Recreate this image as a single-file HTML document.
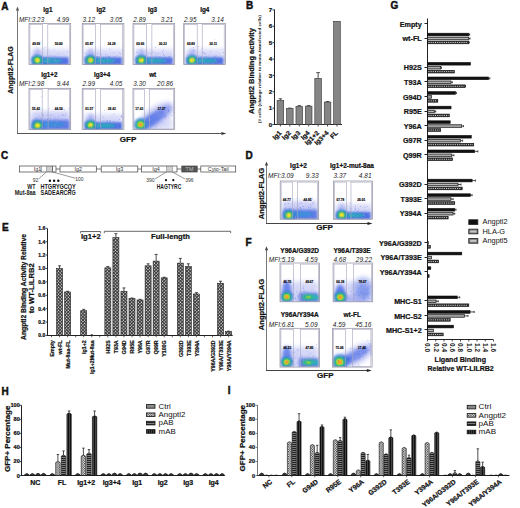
<!DOCTYPE html>
<html><head><meta charset="utf-8"><style>
html,body{margin:0;padding:0;background:#fff;width:520px;height:508px;overflow:hidden}
svg{display:block}
</style></head><body>
<svg width="520" height="508" viewBox="0 0 520 508">
<defs>
<radialGradient id="gHaze"><stop offset="0" stop-color="#8e95e8" stop-opacity="0.55"/><stop offset="0.6" stop-color="#a9aef0" stop-opacity="0.3"/><stop offset="1" stop-color="#c8cbf5" stop-opacity="0"/></radialGradient>
<radialGradient id="gBlue"><stop offset="0" stop-color="#2f5fe0" stop-opacity="0.95"/><stop offset="0.55" stop-color="#4a70e6" stop-opacity="0.7"/><stop offset="1" stop-color="#7d8ff0" stop-opacity="0"/></radialGradient>
<radialGradient id="gCyan"><stop offset="0" stop-color="#1fb4c8" stop-opacity="0.95"/><stop offset="0.6" stop-color="#2d8fd8" stop-opacity="0.6"/><stop offset="1" stop-color="#3f6fe0" stop-opacity="0"/></radialGradient>
<radialGradient id="gHot"><stop offset="0" stop-color="#f2e62a"/><stop offset="0.35" stop-color="#8fd83a"/><stop offset="0.6" stop-color="#2ac07a" stop-opacity="0.9"/><stop offset="0.85" stop-color="#2a7ee0" stop-opacity="0.6"/><stop offset="1" stop-color="#3d63e0" stop-opacity="0"/></radialGradient>
<pattern id="pChk" width="2.3" height="2.3" patternUnits="userSpaceOnUse" patternTransform="rotate(45)"><rect width="2.3" height="2.3" fill="#2e2e2e"/><rect x="0.3" y="0.3" width="1.3" height="1.3" fill="#e8e8e8"/></pattern>
<pattern id="pDot" width="2.4" height="2.4" patternUnits="userSpaceOnUse"><rect width="2.4" height="2.4" fill="#f4f4f4"/><rect x="0" y="0" width="1.1" height="1.1" fill="#222"/><rect x="1.2" y="1.2" width="1.1" height="1.1" fill="#222"/></pattern>
<pattern id="pHs" width="3" height="2" patternUnits="userSpaceOnUse"><rect width="3" height="2" fill="#e4e4e4"/><rect width="3" height="1" fill="#555"/></pattern>
<pattern id="pStripe" width="3" height="2" patternUnits="userSpaceOnUse"><rect width="3" height="2" fill="#222"/><rect y="1" width="3" height="0.6" fill="#bbb"/></pattern>
<pattern id="pVs" width="2" height="3" patternUnits="userSpaceOnUse"><rect width="2" height="3" fill="#111"/><rect x="1" width="0.5" height="3" fill="#777"/></pattern>
<pattern id="pGdot" width="2" height="2" patternUnits="userSpaceOnUse"><rect width="2" height="2" fill="#eee"/><rect x="0" width="1" height="2" fill="#222"/></pattern>
<filter id="b05" x="-50%" y="-50%" width="200%" height="200%"><feGaussianBlur stdDeviation="0.5"/></filter><filter id="b08" x="-50%" y="-50%" width="200%" height="200%"><feGaussianBlur stdDeviation="0.8"/></filter><filter id="b12" x="-50%" y="-50%" width="200%" height="200%"><feGaussianBlur stdDeviation="1.2"/></filter><filter id="b18" x="-50%" y="-50%" width="200%" height="200%"><feGaussianBlur stdDeviation="1.8"/></filter><filter id="b25" x="-50%" y="-50%" width="200%" height="200%"><feGaussianBlur stdDeviation="2.5"/></filter><clipPath id="c1"><rect x="29" y="23.5" width="41.7" height="41"/></clipPath><clipPath id="c2"><rect x="82.2" y="23.5" width="41.7" height="41"/></clipPath><clipPath id="c3"><rect x="133" y="23.5" width="41.7" height="41"/></clipPath><clipPath id="c4"><rect x="183.7" y="23.5" width="41.7" height="41"/></clipPath><clipPath id="c5"><rect x="29" y="88.4" width="41.7" height="41"/></clipPath><clipPath id="c6"><rect x="82.2" y="88.4" width="41.7" height="41"/></clipPath><clipPath id="c7"><rect x="133" y="88.4" width="41.7" height="41"/></clipPath><clipPath id="c8"><rect x="280.2" y="181" width="38.5" height="38.2"/></clipPath><clipPath id="c9"><rect x="333.4" y="181" width="39.2" height="38.2"/></clipPath><clipPath id="c10"><rect x="280" y="263" width="39.6" height="38.8"/></clipPath><clipPath id="c11"><rect x="333.1" y="263" width="39.6" height="38.8"/></clipPath><clipPath id="c12"><rect x="280" y="328.3" width="39.6" height="38.8"/></clipPath><clipPath id="c13"><rect x="332.5" y="328.3" width="39.6" height="38.8"/></clipPath></defs>
<rect width="520" height="508" fill="#fff"/>
<text x="1.30" y="9.50" font-size="10" font-family="Liberation Sans" font-weight="bold" text-anchor="start" fill="#111" stroke="#111" stroke-width="0.45">A</text>
<line x1="17.50" y1="9.00" x2="17.50" y2="133.50" stroke="#777" stroke-width="1"/>
<path d="M15.90 10.50 L17.50 6.50 L19.10 10.50 Z" fill="#555"/>
<line x1="17.00" y1="133.50" x2="221.00" y2="133.50" stroke="#555" stroke-width="1"/>
<path d="M221.30 131.90 L226.30 133.50 L221.30 135.10 Z" fill="#333"/>
<text x="13.20" y="70.00" font-size="7" font-family="Liberation Sans" font-weight="bold" text-anchor="middle" fill="#111" stroke="#111" stroke-width="0.22" transform="rotate(-90 13.20 70.00)">Angptl2-FLAG</text>
<text x="128.00" y="142.00" font-size="8" font-family="Liberation Sans" font-weight="bold" text-anchor="middle" fill="#111" stroke="#111" stroke-width="0.22">GFP</text>
<text x="47.90" y="11.90" font-size="6.3" font-family="Liberation Sans" font-weight="bold" text-anchor="middle" fill="#111" stroke="#111" stroke-width="0.22">Ig1</text>
<text x="19.00" y="21.80" font-size="6.4" font-family="Liberation Sans" font-style="italic" text-anchor="start" fill="#222">MFI:3.23</text>
<text x="69.10" y="21.80" font-size="6.4" font-family="Liberation Sans" font-style="italic" text-anchor="end" fill="#222">4.99</text>
<g clip-path="url(#c1)">
<rect x="31.00" y="49.50" width="38.70" height="16.00" fill="#c6c9f4" opacity="0.75" filter="url(#b25)"/>
<ellipse cx="37.50" cy="55.50" rx="3.50" ry="7.00" fill="#a0a8f2" opacity="0.6" filter="url(#b18)"/>
<rect x="32.00" y="57.30" width="36.70" height="8.50" fill="#3f64e0" opacity="0.88" filter="url(#b12)"/>
<ellipse cx="49.85" cy="60.70" rx="12.51" ry="2.20" fill="#22b8b4" opacity="0.85" filter="url(#b08)"/>
<ellipse cx="37.30" cy="60.20" rx="6.09" ry="5.67" fill="#3a7ee0" opacity="0.8" filter="url(#b12)"/>
<ellipse cx="37.30" cy="60.20" rx="4.20" ry="3.99" fill="#2cc070" opacity="1" filter="url(#b08)"/>
<ellipse cx="37.30" cy="60.20" rx="2.77" ry="2.60" fill="#9ad83c" opacity="1" filter="url(#b05)"/>
<ellipse cx="37.30" cy="60.20" rx="1.76" ry="1.68" fill="#f0e030" opacity="1" filter="url(#b05)"/>
<rect x="52.0" y="59.7" width="0.8" height="0.8" fill="#4a6ae4" opacity="0.55"/><rect x="41.1" y="56.5" width="0.8" height="0.8" fill="#4a6ae4" opacity="0.55"/><rect x="57.9" y="53.2" width="0.8" height="0.8" fill="#b4a8ec" opacity="0.55"/><rect x="52.8" y="62.5" width="0.8" height="0.8" fill="#3f5fe0" opacity="0.55"/><rect x="44.5" y="49.6" width="0.8" height="0.8" fill="#8a8ff0" opacity="0.55"/><rect x="57.2" y="57.6" width="0.8" height="0.8" fill="#6a80ea" opacity="0.55"/><rect x="43.6" y="63.5" width="0.8" height="0.8" fill="#4a6ae4" opacity="0.55"/><rect x="60.7" y="59.8" width="0.8" height="0.8" fill="#4a6ae4" opacity="0.55"/><rect x="45.4" y="57.2" width="0.8" height="0.8" fill="#3f5fe0" opacity="0.55"/><rect x="52.4" y="55.6" width="0.8" height="0.8" fill="#3f5fe0" opacity="0.55"/><rect x="44.2" y="63.7" width="0.8" height="0.8" fill="#4a6ae4" opacity="0.55"/><rect x="55.9" y="59.2" width="0.8" height="0.8" fill="#3f5fe0" opacity="0.55"/><rect x="68.2" y="62.5" width="0.8" height="0.8" fill="#8a8ff0" opacity="0.55"/><rect x="45.1" y="46.6" width="0.8" height="0.8" fill="#8a8ff0" opacity="0.55"/><rect x="34.9" y="61.4" width="0.8" height="0.8" fill="#3f5fe0" opacity="0.55"/><rect x="36.4" y="47.3" width="0.8" height="0.8" fill="#b4a8ec" opacity="0.55"/><rect x="61.3" y="63.9" width="0.8" height="0.8" fill="#4a6ae4" opacity="0.55"/><rect x="34.6" y="55.3" width="0.8" height="0.8" fill="#b4a8ec" opacity="0.55"/><rect x="55.2" y="59.8" width="0.8" height="0.8" fill="#4a6ae4" opacity="0.55"/><rect x="45.8" y="54.5" width="0.8" height="0.8" fill="#b4a8ec" opacity="0.55"/><rect x="43.7" y="47.7" width="0.8" height="0.8" fill="#3f5fe0" opacity="0.55"/><rect x="49.4" y="60.6" width="0.8" height="0.8" fill="#4a6ae4" opacity="0.55"/><rect x="49.1" y="50.3" width="0.8" height="0.8" fill="#8a8ff0" opacity="0.55"/><rect x="58.0" y="62.3" width="0.8" height="0.8" fill="#6a80ea" opacity="0.55"/><rect x="52.3" y="59.0" width="0.8" height="0.8" fill="#6a80ea" opacity="0.55"/><rect x="52.3" y="59.2" width="0.8" height="0.8" fill="#4a6ae4" opacity="0.55"/><rect x="55.1" y="60.1" width="0.8" height="0.8" fill="#b4a8ec" opacity="0.55"/><rect x="59.3" y="61.6" width="0.8" height="0.8" fill="#3f5fe0" opacity="0.55"/><rect x="68.4" y="58.8" width="0.8" height="0.8" fill="#b4a8ec" opacity="0.55"/><rect x="33.4" y="61.9" width="0.8" height="0.8" fill="#6a80ea" opacity="0.55"/><rect x="52.7" y="60.4" width="0.8" height="0.8" fill="#3f5fe0" opacity="0.55"/><rect x="33.9" y="63.2" width="0.8" height="0.8" fill="#4a6ae4" opacity="0.55"/><rect x="47.4" y="63.2" width="0.8" height="0.8" fill="#3f5fe0" opacity="0.55"/><rect x="65.6" y="58.2" width="0.8" height="0.8" fill="#8a8ff0" opacity="0.55"/><rect x="42.7" y="63.4" width="0.8" height="0.8" fill="#b4a8ec" opacity="0.55"/><rect x="35.1" y="60.1" width="0.8" height="0.8" fill="#4a6ae4" opacity="0.55"/><rect x="54.1" y="60.5" width="0.8" height="0.8" fill="#b4a8ec" opacity="0.55"/><rect x="33.9" y="63.0" width="0.8" height="0.8" fill="#4a6ae4" opacity="0.55"/><rect x="69.4" y="64.0" width="0.8" height="0.8" fill="#3f5fe0" opacity="0.55"/><rect x="60.9" y="59.9" width="0.8" height="0.8" fill="#8a8ff0" opacity="0.55"/><rect x="53.9" y="58.9" width="0.8" height="0.8" fill="#8a8ff0" opacity="0.55"/><rect x="54.3" y="56.5" width="0.8" height="0.8" fill="#8a8ff0" opacity="0.55"/><rect x="66.3" y="60.9" width="0.8" height="0.8" fill="#6a80ea" opacity="0.55"/><rect x="49.5" y="54.8" width="0.8" height="0.8" fill="#3f5fe0" opacity="0.55"/><rect x="55.5" y="55.6" width="0.8" height="0.8" fill="#4a6ae4" opacity="0.55"/><rect x="34.4" y="63.8" width="0.8" height="0.8" fill="#3f5fe0" opacity="0.55"/><rect x="34.4" y="62.6" width="0.8" height="0.8" fill="#4a6ae4" opacity="0.55"/><rect x="63.2" y="59.6" width="0.8" height="0.8" fill="#6a80ea" opacity="0.55"/><rect x="59.5" y="63.2" width="0.8" height="0.8" fill="#4a6ae4" opacity="0.55"/><rect x="37.8" y="63.0" width="0.8" height="0.8" fill="#b4a8ec" opacity="0.55"/><rect x="67.2" y="52.4" width="0.8" height="0.8" fill="#8a8ff0" opacity="0.55"/><rect x="48.0" y="56.4" width="0.8" height="0.8" fill="#8a8ff0" opacity="0.55"/><rect x="52.4" y="55.3" width="0.8" height="0.8" fill="#b4a8ec" opacity="0.55"/><rect x="57.0" y="60.7" width="0.8" height="0.8" fill="#b4a8ec" opacity="0.55"/><rect x="66.5" y="44.6" width="0.8" height="0.8" fill="#b4a8ec" opacity="0.55"/><rect x="39.1" y="60.7" width="0.8" height="0.8" fill="#b4a8ec" opacity="0.55"/><rect x="43.3" y="62.8" width="0.8" height="0.8" fill="#4a6ae4" opacity="0.55"/><rect x="45.2" y="60.9" width="0.8" height="0.8" fill="#b4a8ec" opacity="0.55"/><rect x="58.7" y="58.1" width="0.8" height="0.8" fill="#6a80ea" opacity="0.55"/><rect x="67.2" y="61.7" width="0.8" height="0.8" fill="#3f5fe0" opacity="0.55"/><rect x="50.9" y="60.5" width="0.8" height="0.8" fill="#3f5fe0" opacity="0.55"/><rect x="53.1" y="61.2" width="0.8" height="0.8" fill="#3f5fe0" opacity="0.55"/><rect x="41.4" y="62.2" width="0.8" height="0.8" fill="#3f5fe0" opacity="0.55"/><rect x="58.0" y="55.9" width="0.8" height="0.8" fill="#8a8ff0" opacity="0.55"/><rect x="60.4" y="61.5" width="0.8" height="0.8" fill="#6a80ea" opacity="0.55"/><rect x="39.7" y="63.2" width="0.8" height="0.8" fill="#8a8ff0" opacity="0.55"/><rect x="65.0" y="60.1" width="0.8" height="0.8" fill="#4a6ae4" opacity="0.55"/><rect x="35.8" y="54.2" width="0.8" height="0.8" fill="#3f5fe0" opacity="0.55"/><rect x="49.7" y="56.0" width="0.8" height="0.8" fill="#b4a8ec" opacity="0.55"/><rect x="40.8" y="41.4" width="0.8" height="0.8" fill="#8a8ff0" opacity="0.55"/><rect x="67.4" y="50.6" width="0.8" height="0.8" fill="#4a6ae4" opacity="0.55"/><rect x="45.4" y="60.3" width="0.8" height="0.8" fill="#6a80ea" opacity="0.55"/><rect x="53.2" y="59.4" width="0.8" height="0.8" fill="#8a8ff0" opacity="0.55"/><rect x="68.7" y="56.6" width="0.8" height="0.8" fill="#8a8ff0" opacity="0.55"/><rect x="44.0" y="57.9" width="0.8" height="0.8" fill="#4a6ae4" opacity="0.55"/><rect x="68.9" y="60.0" width="0.8" height="0.8" fill="#3f5fe0" opacity="0.55"/><rect x="50.2" y="57.4" width="0.8" height="0.8" fill="#4a6ae4" opacity="0.55"/><rect x="68.5" y="63.7" width="0.8" height="0.8" fill="#8a8ff0" opacity="0.55"/><rect x="57.6" y="53.6" width="0.8" height="0.8" fill="#8a8ff0" opacity="0.55"/><rect x="36.7" y="58.4" width="0.8" height="0.8" fill="#b4a8ec" opacity="0.55"/><rect x="48.8" y="59.8" width="0.8" height="0.8" fill="#b4a8ec" opacity="0.55"/><rect x="46.4" y="57.1" width="0.8" height="0.8" fill="#3f5fe0" opacity="0.55"/><rect x="53.5" y="49.4" width="0.8" height="0.8" fill="#b4a8ec" opacity="0.55"/><rect x="43.0" y="63.8" width="0.8" height="0.8" fill="#6a80ea" opacity="0.55"/>
</g>
<rect x="29.00" y="23.50" width="41.70" height="41.00" fill="none" stroke="#8e8e9e" stroke-width="0.7"/>
<rect x="29.90" y="24.60" width="12.50" height="39.50" fill="none" stroke="#a4a4c0" stroke-width="0.6"/>
<rect x="47.80" y="24.60" width="21.70" height="39.50" fill="none" stroke="#a4a4c0" stroke-width="0.6"/>
<text x="36.15" y="45.00" font-size="3.2" font-family="Liberation Sans" font-weight="bold" text-anchor="middle" fill="#000" stroke="#000" stroke-width="0.12">49.99</text>
<text x="58.65" y="45.00" font-size="3.2" font-family="Liberation Sans" font-weight="bold" text-anchor="middle" fill="#000" stroke="#000" stroke-width="0.12">50.00</text>
<text x="101.00" y="11.90" font-size="6.3" font-family="Liberation Sans" font-weight="bold" text-anchor="middle" fill="#111" stroke="#111" stroke-width="0.22">Ig2</text>
<text x="82.50" y="21.80" font-size="6.4" font-family="Liberation Sans" font-style="italic" text-anchor="start" fill="#222">3.12</text>
<text x="122.30" y="21.80" font-size="6.4" font-family="Liberation Sans" font-style="italic" text-anchor="end" fill="#222">3.05</text>
<g clip-path="url(#c2)">
<rect x="84.20" y="49.50" width="38.70" height="16.00" fill="#c6c9f4" opacity="0.75" filter="url(#b25)"/>
<ellipse cx="90.70" cy="55.50" rx="3.50" ry="7.00" fill="#a0a8f2" opacity="0.6" filter="url(#b18)"/>
<rect x="85.20" y="57.30" width="36.70" height="8.50" fill="#3f64e0" opacity="0.88" filter="url(#b12)"/>
<ellipse cx="103.05" cy="60.70" rx="12.51" ry="2.20" fill="#22b8b4" opacity="0.85" filter="url(#b08)"/>
<ellipse cx="90.50" cy="60.20" rx="6.09" ry="5.67" fill="#3a7ee0" opacity="0.8" filter="url(#b12)"/>
<ellipse cx="90.50" cy="60.20" rx="4.20" ry="3.99" fill="#2cc070" opacity="1" filter="url(#b08)"/>
<ellipse cx="90.50" cy="60.20" rx="2.77" ry="2.60" fill="#9ad83c" opacity="1" filter="url(#b05)"/>
<ellipse cx="90.50" cy="60.20" rx="1.76" ry="1.68" fill="#f0e030" opacity="1" filter="url(#b05)"/>
<rect x="122.8" y="59.4" width="0.8" height="0.8" fill="#3f5fe0" opacity="0.55"/><rect x="115.5" y="61.1" width="0.8" height="0.8" fill="#3f5fe0" opacity="0.55"/><rect x="121.8" y="58.5" width="0.8" height="0.8" fill="#4a6ae4" opacity="0.55"/><rect x="87.3" y="62.2" width="0.8" height="0.8" fill="#8a8ff0" opacity="0.55"/><rect x="87.4" y="63.3" width="0.8" height="0.8" fill="#b4a8ec" opacity="0.55"/><rect x="108.8" y="56.6" width="0.8" height="0.8" fill="#4a6ae4" opacity="0.55"/><rect x="96.9" y="63.6" width="0.8" height="0.8" fill="#b4a8ec" opacity="0.55"/><rect x="98.4" y="61.3" width="0.8" height="0.8" fill="#b4a8ec" opacity="0.55"/><rect x="122.3" y="61.5" width="0.8" height="0.8" fill="#4a6ae4" opacity="0.55"/><rect x="97.5" y="53.1" width="0.8" height="0.8" fill="#4a6ae4" opacity="0.55"/><rect x="89.0" y="50.8" width="0.8" height="0.8" fill="#b4a8ec" opacity="0.55"/><rect x="86.2" y="53.4" width="0.8" height="0.8" fill="#8a8ff0" opacity="0.55"/><rect x="111.7" y="61.4" width="0.8" height="0.8" fill="#8a8ff0" opacity="0.55"/><rect x="91.0" y="55.1" width="0.8" height="0.8" fill="#4a6ae4" opacity="0.55"/><rect x="87.7" y="62.4" width="0.8" height="0.8" fill="#b4a8ec" opacity="0.55"/><rect x="112.4" y="59.6" width="0.8" height="0.8" fill="#3f5fe0" opacity="0.55"/><rect x="106.3" y="57.0" width="0.8" height="0.8" fill="#4a6ae4" opacity="0.55"/><rect x="114.5" y="56.0" width="0.8" height="0.8" fill="#6a80ea" opacity="0.55"/><rect x="92.0" y="56.9" width="0.8" height="0.8" fill="#3f5fe0" opacity="0.55"/><rect x="120.7" y="62.3" width="0.8" height="0.8" fill="#8a8ff0" opacity="0.55"/><rect x="120.7" y="57.7" width="0.8" height="0.8" fill="#4a6ae4" opacity="0.55"/><rect x="109.4" y="48.8" width="0.8" height="0.8" fill="#4a6ae4" opacity="0.55"/><rect x="96.9" y="56.1" width="0.8" height="0.8" fill="#3f5fe0" opacity="0.55"/><rect x="103.1" y="62.9" width="0.8" height="0.8" fill="#3f5fe0" opacity="0.55"/><rect x="87.7" y="51.5" width="0.8" height="0.8" fill="#8a8ff0" opacity="0.55"/><rect x="94.1" y="58.3" width="0.8" height="0.8" fill="#6a80ea" opacity="0.55"/><rect x="89.5" y="56.3" width="0.8" height="0.8" fill="#8a8ff0" opacity="0.55"/><rect x="112.1" y="62.9" width="0.8" height="0.8" fill="#8a8ff0" opacity="0.55"/><rect x="116.3" y="58.8" width="0.8" height="0.8" fill="#8a8ff0" opacity="0.55"/><rect x="105.2" y="54.0" width="0.8" height="0.8" fill="#3f5fe0" opacity="0.55"/><rect x="102.4" y="61.8" width="0.8" height="0.8" fill="#3f5fe0" opacity="0.55"/><rect x="106.5" y="61.6" width="0.8" height="0.8" fill="#4a6ae4" opacity="0.55"/><rect x="94.3" y="62.6" width="0.8" height="0.8" fill="#b4a8ec" opacity="0.55"/><rect x="98.5" y="62.2" width="0.8" height="0.8" fill="#6a80ea" opacity="0.55"/><rect x="117.4" y="61.9" width="0.8" height="0.8" fill="#8a8ff0" opacity="0.55"/><rect x="87.9" y="58.8" width="0.8" height="0.8" fill="#4a6ae4" opacity="0.55"/><rect x="90.5" y="58.5" width="0.8" height="0.8" fill="#3f5fe0" opacity="0.55"/><rect x="91.9" y="53.4" width="0.8" height="0.8" fill="#4a6ae4" opacity="0.55"/><rect x="106.9" y="61.9" width="0.8" height="0.8" fill="#b4a8ec" opacity="0.55"/><rect x="122.4" y="61.5" width="0.8" height="0.8" fill="#3f5fe0" opacity="0.55"/><rect x="106.4" y="63.6" width="0.8" height="0.8" fill="#6a80ea" opacity="0.55"/><rect x="84.9" y="61.0" width="0.8" height="0.8" fill="#b4a8ec" opacity="0.55"/><rect x="89.6" y="59.6" width="0.8" height="0.8" fill="#8a8ff0" opacity="0.55"/><rect x="105.6" y="58.6" width="0.8" height="0.8" fill="#6a80ea" opacity="0.55"/><rect x="120.0" y="53.7" width="0.8" height="0.8" fill="#6a80ea" opacity="0.55"/><rect x="114.7" y="60.7" width="0.8" height="0.8" fill="#6a80ea" opacity="0.55"/><rect x="90.3" y="62.7" width="0.8" height="0.8" fill="#b4a8ec" opacity="0.55"/><rect x="93.0" y="61.1" width="0.8" height="0.8" fill="#3f5fe0" opacity="0.55"/><rect x="101.3" y="57.0" width="0.8" height="0.8" fill="#b4a8ec" opacity="0.55"/><rect x="91.0" y="60.1" width="0.8" height="0.8" fill="#8a8ff0" opacity="0.55"/><rect x="104.9" y="59.8" width="0.8" height="0.8" fill="#3f5fe0" opacity="0.55"/><rect x="105.1" y="57.8" width="0.8" height="0.8" fill="#6a80ea" opacity="0.55"/><rect x="117.4" y="63.8" width="0.8" height="0.8" fill="#b4a8ec" opacity="0.55"/><rect x="88.7" y="59.6" width="0.8" height="0.8" fill="#6a80ea" opacity="0.55"/><rect x="122.0" y="49.7" width="0.8" height="0.8" fill="#4a6ae4" opacity="0.55"/><rect x="86.7" y="59.2" width="0.8" height="0.8" fill="#3f5fe0" opacity="0.55"/><rect x="107.2" y="55.0" width="0.8" height="0.8" fill="#8a8ff0" opacity="0.55"/><rect x="100.4" y="62.4" width="0.8" height="0.8" fill="#4a6ae4" opacity="0.55"/><rect x="121.4" y="52.9" width="0.8" height="0.8" fill="#b4a8ec" opacity="0.55"/><rect x="97.5" y="56.5" width="0.8" height="0.8" fill="#4a6ae4" opacity="0.55"/><rect x="106.6" y="59.2" width="0.8" height="0.8" fill="#8a8ff0" opacity="0.55"/><rect x="108.5" y="56.1" width="0.8" height="0.8" fill="#3f5fe0" opacity="0.55"/><rect x="102.8" y="57.4" width="0.8" height="0.8" fill="#4a6ae4" opacity="0.55"/><rect x="113.1" y="60.1" width="0.8" height="0.8" fill="#b4a8ec" opacity="0.55"/><rect x="101.0" y="58.4" width="0.8" height="0.8" fill="#b4a8ec" opacity="0.55"/><rect x="112.3" y="57.9" width="0.8" height="0.8" fill="#6a80ea" opacity="0.55"/><rect x="113.1" y="52.0" width="0.8" height="0.8" fill="#6a80ea" opacity="0.55"/><rect x="84.4" y="57.0" width="0.8" height="0.8" fill="#8a8ff0" opacity="0.55"/><rect x="113.4" y="57.5" width="0.8" height="0.8" fill="#b4a8ec" opacity="0.55"/><rect x="89.1" y="60.5" width="0.8" height="0.8" fill="#6a80ea" opacity="0.55"/><rect x="94.3" y="60.1" width="0.8" height="0.8" fill="#b4a8ec" opacity="0.55"/><rect x="102.8" y="61.7" width="0.8" height="0.8" fill="#b4a8ec" opacity="0.55"/><rect x="106.9" y="59.5" width="0.8" height="0.8" fill="#b4a8ec" opacity="0.55"/><rect x="101.2" y="54.2" width="0.8" height="0.8" fill="#6a80ea" opacity="0.55"/><rect x="119.3" y="52.5" width="0.8" height="0.8" fill="#4a6ae4" opacity="0.55"/><rect x="102.6" y="58.6" width="0.8" height="0.8" fill="#3f5fe0" opacity="0.55"/><rect x="98.9" y="61.6" width="0.8" height="0.8" fill="#b4a8ec" opacity="0.55"/><rect x="84.9" y="52.7" width="0.8" height="0.8" fill="#3f5fe0" opacity="0.55"/><rect x="113.1" y="62.5" width="0.8" height="0.8" fill="#3f5fe0" opacity="0.55"/><rect x="95.0" y="60.5" width="0.8" height="0.8" fill="#4a6ae4" opacity="0.55"/><rect x="85.1" y="59.2" width="0.8" height="0.8" fill="#6a80ea" opacity="0.55"/><rect x="119.9" y="57.5" width="0.8" height="0.8" fill="#b4a8ec" opacity="0.55"/><rect x="120.7" y="63.2" width="0.8" height="0.8" fill="#6a80ea" opacity="0.55"/><rect x="100.9" y="59.6" width="0.8" height="0.8" fill="#6a80ea" opacity="0.55"/><rect x="114.5" y="62.0" width="0.8" height="0.8" fill="#3f5fe0" opacity="0.55"/><rect x="117.2" y="55.0" width="0.8" height="0.8" fill="#b4a8ec" opacity="0.55"/><rect x="99.8" y="62.8" width="0.8" height="0.8" fill="#b4a8ec" opacity="0.55"/><rect x="89.6" y="55.5" width="0.8" height="0.8" fill="#4a6ae4" opacity="0.55"/>
</g>
<rect x="82.20" y="23.50" width="41.70" height="41.00" fill="none" stroke="#8e8e9e" stroke-width="0.7"/>
<rect x="83.10" y="24.60" width="12.50" height="39.50" fill="none" stroke="#a4a4c0" stroke-width="0.6"/>
<rect x="100.50" y="24.60" width="22.20" height="39.50" fill="none" stroke="#a4a4c0" stroke-width="0.6"/>
<text x="89.35" y="45.00" font-size="3.2" font-family="Liberation Sans" font-weight="bold" text-anchor="middle" fill="#000" stroke="#000" stroke-width="0.12">65.87</text>
<text x="111.60" y="45.00" font-size="3.2" font-family="Liberation Sans" font-weight="bold" text-anchor="middle" fill="#000" stroke="#000" stroke-width="0.12">34.28</text>
<text x="152.50" y="11.90" font-size="6.3" font-family="Liberation Sans" font-weight="bold" text-anchor="middle" fill="#111" stroke="#111" stroke-width="0.22">Ig3</text>
<text x="133.30" y="21.80" font-size="6.4" font-family="Liberation Sans" font-style="italic" text-anchor="start" fill="#222">2.89</text>
<text x="173.10" y="21.80" font-size="6.4" font-family="Liberation Sans" font-style="italic" text-anchor="end" fill="#222">3.21</text>
<g clip-path="url(#c3)">
<rect x="135.00" y="49.50" width="38.70" height="16.00" fill="#c6c9f4" opacity="0.75" filter="url(#b25)"/>
<ellipse cx="141.50" cy="55.50" rx="3.50" ry="7.00" fill="#a0a8f2" opacity="0.6" filter="url(#b18)"/>
<rect x="136.00" y="57.30" width="36.70" height="8.50" fill="#3f64e0" opacity="0.88" filter="url(#b12)"/>
<ellipse cx="153.85" cy="60.70" rx="12.51" ry="2.20" fill="#22b8b4" opacity="0.85" filter="url(#b08)"/>
<ellipse cx="141.30" cy="60.20" rx="6.09" ry="5.67" fill="#3a7ee0" opacity="0.8" filter="url(#b12)"/>
<ellipse cx="141.30" cy="60.20" rx="4.20" ry="3.99" fill="#2cc070" opacity="1" filter="url(#b08)"/>
<ellipse cx="141.30" cy="60.20" rx="2.77" ry="2.60" fill="#9ad83c" opacity="1" filter="url(#b05)"/>
<ellipse cx="141.30" cy="60.20" rx="1.76" ry="1.68" fill="#f0e030" opacity="1" filter="url(#b05)"/>
<rect x="155.6" y="63.6" width="0.8" height="0.8" fill="#b4a8ec" opacity="0.55"/><rect x="145.1" y="50.4" width="0.8" height="0.8" fill="#8a8ff0" opacity="0.55"/><rect x="155.7" y="55.8" width="0.8" height="0.8" fill="#3f5fe0" opacity="0.55"/><rect x="146.7" y="52.8" width="0.8" height="0.8" fill="#6a80ea" opacity="0.55"/><rect x="136.6" y="51.6" width="0.8" height="0.8" fill="#6a80ea" opacity="0.55"/><rect x="140.8" y="59.7" width="0.8" height="0.8" fill="#b4a8ec" opacity="0.55"/><rect x="163.7" y="62.5" width="0.8" height="0.8" fill="#4a6ae4" opacity="0.55"/><rect x="136.9" y="56.1" width="0.8" height="0.8" fill="#b4a8ec" opacity="0.55"/><rect x="146.1" y="62.0" width="0.8" height="0.8" fill="#4a6ae4" opacity="0.55"/><rect x="154.6" y="52.8" width="0.8" height="0.8" fill="#4a6ae4" opacity="0.55"/><rect x="146.0" y="60.4" width="0.8" height="0.8" fill="#8a8ff0" opacity="0.55"/><rect x="140.3" y="57.9" width="0.8" height="0.8" fill="#3f5fe0" opacity="0.55"/><rect x="160.3" y="53.1" width="0.8" height="0.8" fill="#b4a8ec" opacity="0.55"/><rect x="168.6" y="61.8" width="0.8" height="0.8" fill="#b4a8ec" opacity="0.55"/><rect x="135.7" y="59.7" width="0.8" height="0.8" fill="#8a8ff0" opacity="0.55"/><rect x="163.0" y="49.9" width="0.8" height="0.8" fill="#6a80ea" opacity="0.55"/><rect x="164.9" y="57.0" width="0.8" height="0.8" fill="#3f5fe0" opacity="0.55"/><rect x="171.5" y="59.2" width="0.8" height="0.8" fill="#3f5fe0" opacity="0.55"/><rect x="162.0" y="51.6" width="0.8" height="0.8" fill="#4a6ae4" opacity="0.55"/><rect x="169.3" y="56.3" width="0.8" height="0.8" fill="#3f5fe0" opacity="0.55"/><rect x="140.9" y="62.6" width="0.8" height="0.8" fill="#6a80ea" opacity="0.55"/><rect x="147.1" y="61.3" width="0.8" height="0.8" fill="#4a6ae4" opacity="0.55"/><rect x="152.2" y="62.3" width="0.8" height="0.8" fill="#4a6ae4" opacity="0.55"/><rect x="153.8" y="57.2" width="0.8" height="0.8" fill="#8a8ff0" opacity="0.55"/><rect x="154.3" y="60.5" width="0.8" height="0.8" fill="#4a6ae4" opacity="0.55"/><rect x="142.1" y="63.0" width="0.8" height="0.8" fill="#b4a8ec" opacity="0.55"/><rect x="141.4" y="62.7" width="0.8" height="0.8" fill="#b4a8ec" opacity="0.55"/><rect x="156.9" y="59.8" width="0.8" height="0.8" fill="#6a80ea" opacity="0.55"/><rect x="144.2" y="57.1" width="0.8" height="0.8" fill="#4a6ae4" opacity="0.55"/><rect x="161.6" y="61.7" width="0.8" height="0.8" fill="#4a6ae4" opacity="0.55"/><rect x="157.7" y="57.5" width="0.8" height="0.8" fill="#6a80ea" opacity="0.55"/><rect x="163.7" y="55.2" width="0.8" height="0.8" fill="#6a80ea" opacity="0.55"/><rect x="140.6" y="58.3" width="0.8" height="0.8" fill="#3f5fe0" opacity="0.55"/><rect x="147.0" y="62.5" width="0.8" height="0.8" fill="#b4a8ec" opacity="0.55"/><rect x="150.6" y="58.0" width="0.8" height="0.8" fill="#6a80ea" opacity="0.55"/><rect x="152.5" y="51.7" width="0.8" height="0.8" fill="#3f5fe0" opacity="0.55"/><rect x="155.2" y="47.0" width="0.8" height="0.8" fill="#6a80ea" opacity="0.55"/><rect x="138.3" y="62.8" width="0.8" height="0.8" fill="#b4a8ec" opacity="0.55"/><rect x="136.7" y="48.9" width="0.8" height="0.8" fill="#b4a8ec" opacity="0.55"/><rect x="148.7" y="61.2" width="0.8" height="0.8" fill="#4a6ae4" opacity="0.55"/><rect x="155.9" y="54.5" width="0.8" height="0.8" fill="#8a8ff0" opacity="0.55"/><rect x="165.8" y="58.0" width="0.8" height="0.8" fill="#6a80ea" opacity="0.55"/><rect x="136.4" y="51.8" width="0.8" height="0.8" fill="#3f5fe0" opacity="0.55"/><rect x="159.0" y="62.1" width="0.8" height="0.8" fill="#4a6ae4" opacity="0.55"/><rect x="160.6" y="59.3" width="0.8" height="0.8" fill="#8a8ff0" opacity="0.55"/><rect x="143.2" y="60.7" width="0.8" height="0.8" fill="#4a6ae4" opacity="0.55"/><rect x="136.6" y="60.3" width="0.8" height="0.8" fill="#6a80ea" opacity="0.55"/><rect x="136.5" y="56.7" width="0.8" height="0.8" fill="#b4a8ec" opacity="0.55"/><rect x="150.2" y="52.9" width="0.8" height="0.8" fill="#4a6ae4" opacity="0.55"/><rect x="158.7" y="56.5" width="0.8" height="0.8" fill="#4a6ae4" opacity="0.55"/><rect x="169.8" y="62.7" width="0.8" height="0.8" fill="#8a8ff0" opacity="0.55"/><rect x="165.5" y="58.9" width="0.8" height="0.8" fill="#8a8ff0" opacity="0.55"/><rect x="141.4" y="56.7" width="0.8" height="0.8" fill="#6a80ea" opacity="0.55"/><rect x="170.0" y="54.0" width="0.8" height="0.8" fill="#8a8ff0" opacity="0.55"/><rect x="149.0" y="60.3" width="0.8" height="0.8" fill="#8a8ff0" opacity="0.55"/><rect x="137.0" y="62.5" width="0.8" height="0.8" fill="#6a80ea" opacity="0.55"/><rect x="153.8" y="57.0" width="0.8" height="0.8" fill="#b4a8ec" opacity="0.55"/><rect x="163.8" y="60.4" width="0.8" height="0.8" fill="#8a8ff0" opacity="0.55"/><rect x="173.6" y="55.5" width="0.8" height="0.8" fill="#6a80ea" opacity="0.55"/><rect x="163.5" y="60.2" width="0.8" height="0.8" fill="#6a80ea" opacity="0.55"/><rect x="163.2" y="53.7" width="0.8" height="0.8" fill="#3f5fe0" opacity="0.55"/><rect x="158.2" y="53.2" width="0.8" height="0.8" fill="#3f5fe0" opacity="0.55"/><rect x="140.6" y="58.7" width="0.8" height="0.8" fill="#b4a8ec" opacity="0.55"/><rect x="170.5" y="63.0" width="0.8" height="0.8" fill="#8a8ff0" opacity="0.55"/><rect x="135.9" y="62.4" width="0.8" height="0.8" fill="#3f5fe0" opacity="0.55"/><rect x="150.0" y="57.4" width="0.8" height="0.8" fill="#3f5fe0" opacity="0.55"/><rect x="151.8" y="63.5" width="0.8" height="0.8" fill="#b4a8ec" opacity="0.55"/><rect x="155.9" y="53.6" width="0.8" height="0.8" fill="#6a80ea" opacity="0.55"/><rect x="147.4" y="54.5" width="0.8" height="0.8" fill="#8a8ff0" opacity="0.55"/><rect x="149.4" y="58.8" width="0.8" height="0.8" fill="#8a8ff0" opacity="0.55"/><rect x="150.6" y="57.8" width="0.8" height="0.8" fill="#8a8ff0" opacity="0.55"/><rect x="159.4" y="44.1" width="0.8" height="0.8" fill="#b4a8ec" opacity="0.55"/><rect x="167.3" y="62.7" width="0.8" height="0.8" fill="#8a8ff0" opacity="0.55"/><rect x="163.5" y="54.3" width="0.8" height="0.8" fill="#b4a8ec" opacity="0.55"/><rect x="168.5" y="56.6" width="0.8" height="0.8" fill="#3f5fe0" opacity="0.55"/><rect x="151.2" y="57.0" width="0.8" height="0.8" fill="#3f5fe0" opacity="0.55"/><rect x="154.6" y="56.6" width="0.8" height="0.8" fill="#8a8ff0" opacity="0.55"/><rect x="158.2" y="60.7" width="0.8" height="0.8" fill="#8a8ff0" opacity="0.55"/><rect x="149.6" y="62.7" width="0.8" height="0.8" fill="#8a8ff0" opacity="0.55"/><rect x="156.1" y="59.1" width="0.8" height="0.8" fill="#4a6ae4" opacity="0.55"/><rect x="169.4" y="59.7" width="0.8" height="0.8" fill="#6a80ea" opacity="0.55"/><rect x="144.8" y="60.8" width="0.8" height="0.8" fill="#6a80ea" opacity="0.55"/><rect x="135.1" y="62.6" width="0.8" height="0.8" fill="#8a8ff0" opacity="0.55"/><rect x="164.9" y="61.1" width="0.8" height="0.8" fill="#b4a8ec" opacity="0.55"/><rect x="164.6" y="63.3" width="0.8" height="0.8" fill="#4a6ae4" opacity="0.55"/><rect x="158.3" y="58.0" width="0.8" height="0.8" fill="#6a80ea" opacity="0.55"/><rect x="168.2" y="60.9" width="0.8" height="0.8" fill="#4a6ae4" opacity="0.55"/><rect x="160.3" y="56.4" width="0.8" height="0.8" fill="#8a8ff0" opacity="0.55"/>
</g>
<rect x="133.00" y="23.50" width="41.70" height="41.00" fill="none" stroke="#8e8e9e" stroke-width="0.7"/>
<rect x="133.90" y="24.60" width="12.70" height="39.50" fill="none" stroke="#a4a4c0" stroke-width="0.6"/>
<rect x="151.90" y="24.60" width="21.60" height="39.50" fill="none" stroke="#a4a4c0" stroke-width="0.6"/>
<text x="140.25" y="45.00" font-size="3.2" font-family="Liberation Sans" font-weight="bold" text-anchor="middle" fill="#000" stroke="#000" stroke-width="0.12">69.66</text>
<text x="162.70" y="45.00" font-size="3.2" font-family="Liberation Sans" font-weight="bold" text-anchor="middle" fill="#000" stroke="#000" stroke-width="0.12">30.23</text>
<text x="204.80" y="11.90" font-size="6.3" font-family="Liberation Sans" font-weight="bold" text-anchor="middle" fill="#111" stroke="#111" stroke-width="0.22">Ig4</text>
<text x="184.00" y="21.80" font-size="6.4" font-family="Liberation Sans" font-style="italic" text-anchor="start" fill="#222">2.95</text>
<text x="223.80" y="21.80" font-size="6.4" font-family="Liberation Sans" font-style="italic" text-anchor="end" fill="#222">3.14</text>
<g clip-path="url(#c4)">
<rect x="185.70" y="49.50" width="38.70" height="16.00" fill="#c6c9f4" opacity="0.75" filter="url(#b25)"/>
<ellipse cx="192.20" cy="55.50" rx="3.50" ry="7.00" fill="#a0a8f2" opacity="0.6" filter="url(#b18)"/>
<rect x="186.70" y="57.30" width="36.70" height="8.50" fill="#3f64e0" opacity="0.88" filter="url(#b12)"/>
<ellipse cx="204.55" cy="60.70" rx="12.51" ry="2.20" fill="#22b8b4" opacity="0.85" filter="url(#b08)"/>
<ellipse cx="192.00" cy="60.20" rx="6.09" ry="5.67" fill="#3a7ee0" opacity="0.8" filter="url(#b12)"/>
<ellipse cx="192.00" cy="60.20" rx="4.20" ry="3.99" fill="#2cc070" opacity="1" filter="url(#b08)"/>
<ellipse cx="192.00" cy="60.20" rx="2.77" ry="2.60" fill="#9ad83c" opacity="1" filter="url(#b05)"/>
<ellipse cx="192.00" cy="60.20" rx="1.76" ry="1.68" fill="#f0e030" opacity="1" filter="url(#b05)"/>
<rect x="207.2" y="59.8" width="0.8" height="0.8" fill="#3f5fe0" opacity="0.55"/><rect x="222.1" y="57.0" width="0.8" height="0.8" fill="#b4a8ec" opacity="0.55"/><rect x="223.2" y="52.0" width="0.8" height="0.8" fill="#3f5fe0" opacity="0.55"/><rect x="205.3" y="60.8" width="0.8" height="0.8" fill="#3f5fe0" opacity="0.55"/><rect x="195.4" y="46.2" width="0.8" height="0.8" fill="#6a80ea" opacity="0.55"/><rect x="221.3" y="59.1" width="0.8" height="0.8" fill="#4a6ae4" opacity="0.55"/><rect x="207.9" y="62.8" width="0.8" height="0.8" fill="#6a80ea" opacity="0.55"/><rect x="193.3" y="57.8" width="0.8" height="0.8" fill="#b4a8ec" opacity="0.55"/><rect x="217.9" y="60.5" width="0.8" height="0.8" fill="#b4a8ec" opacity="0.55"/><rect x="201.0" y="63.5" width="0.8" height="0.8" fill="#4a6ae4" opacity="0.55"/><rect x="199.0" y="61.1" width="0.8" height="0.8" fill="#8a8ff0" opacity="0.55"/><rect x="192.9" y="47.0" width="0.8" height="0.8" fill="#3f5fe0" opacity="0.55"/><rect x="194.6" y="49.8" width="0.8" height="0.8" fill="#8a8ff0" opacity="0.55"/><rect x="217.9" y="60.3" width="0.8" height="0.8" fill="#4a6ae4" opacity="0.55"/><rect x="223.4" y="60.4" width="0.8" height="0.8" fill="#4a6ae4" opacity="0.55"/><rect x="202.9" y="59.8" width="0.8" height="0.8" fill="#8a8ff0" opacity="0.55"/><rect x="199.2" y="55.0" width="0.8" height="0.8" fill="#b4a8ec" opacity="0.55"/><rect x="216.3" y="61.6" width="0.8" height="0.8" fill="#b4a8ec" opacity="0.55"/><rect x="189.9" y="62.1" width="0.8" height="0.8" fill="#b4a8ec" opacity="0.55"/><rect x="219.4" y="58.5" width="0.8" height="0.8" fill="#4a6ae4" opacity="0.55"/><rect x="195.4" y="60.3" width="0.8" height="0.8" fill="#8a8ff0" opacity="0.55"/><rect x="203.6" y="52.1" width="0.8" height="0.8" fill="#3f5fe0" opacity="0.55"/><rect x="215.0" y="57.7" width="0.8" height="0.8" fill="#8a8ff0" opacity="0.55"/><rect x="219.6" y="63.1" width="0.8" height="0.8" fill="#8a8ff0" opacity="0.55"/><rect x="214.0" y="55.7" width="0.8" height="0.8" fill="#3f5fe0" opacity="0.55"/><rect x="210.5" y="63.8" width="0.8" height="0.8" fill="#3f5fe0" opacity="0.55"/><rect x="216.6" y="56.9" width="0.8" height="0.8" fill="#6a80ea" opacity="0.55"/><rect x="204.9" y="57.5" width="0.8" height="0.8" fill="#8a8ff0" opacity="0.55"/><rect x="202.3" y="59.5" width="0.8" height="0.8" fill="#8a8ff0" opacity="0.55"/><rect x="195.0" y="63.4" width="0.8" height="0.8" fill="#8a8ff0" opacity="0.55"/><rect x="190.3" y="57.6" width="0.8" height="0.8" fill="#6a80ea" opacity="0.55"/><rect x="207.8" y="54.6" width="0.8" height="0.8" fill="#6a80ea" opacity="0.55"/><rect x="193.2" y="61.8" width="0.8" height="0.8" fill="#8a8ff0" opacity="0.55"/><rect x="208.7" y="63.5" width="0.8" height="0.8" fill="#4a6ae4" opacity="0.55"/><rect x="214.4" y="39.5" width="0.8" height="0.8" fill="#6a80ea" opacity="0.55"/><rect x="204.5" y="53.1" width="0.8" height="0.8" fill="#4a6ae4" opacity="0.55"/><rect x="200.7" y="56.7" width="0.8" height="0.8" fill="#3f5fe0" opacity="0.55"/><rect x="201.9" y="48.0" width="0.8" height="0.8" fill="#b4a8ec" opacity="0.55"/><rect x="192.1" y="59.2" width="0.8" height="0.8" fill="#8a8ff0" opacity="0.55"/><rect x="186.8" y="61.6" width="0.8" height="0.8" fill="#8a8ff0" opacity="0.55"/><rect x="212.9" y="57.1" width="0.8" height="0.8" fill="#3f5fe0" opacity="0.55"/><rect x="213.3" y="62.4" width="0.8" height="0.8" fill="#4a6ae4" opacity="0.55"/><rect x="215.1" y="59.7" width="0.8" height="0.8" fill="#b4a8ec" opacity="0.55"/><rect x="206.2" y="63.3" width="0.8" height="0.8" fill="#b4a8ec" opacity="0.55"/><rect x="193.9" y="61.0" width="0.8" height="0.8" fill="#6a80ea" opacity="0.55"/><rect x="206.1" y="62.3" width="0.8" height="0.8" fill="#8a8ff0" opacity="0.55"/><rect x="193.8" y="50.4" width="0.8" height="0.8" fill="#6a80ea" opacity="0.55"/><rect x="215.5" y="64.0" width="0.8" height="0.8" fill="#b4a8ec" opacity="0.55"/><rect x="192.4" y="57.6" width="0.8" height="0.8" fill="#b4a8ec" opacity="0.55"/><rect x="186.7" y="63.9" width="0.8" height="0.8" fill="#6a80ea" opacity="0.55"/><rect x="211.2" y="60.0" width="0.8" height="0.8" fill="#3f5fe0" opacity="0.55"/><rect x="221.7" y="59.9" width="0.8" height="0.8" fill="#4a6ae4" opacity="0.55"/><rect x="203.4" y="57.4" width="0.8" height="0.8" fill="#b4a8ec" opacity="0.55"/><rect x="211.0" y="58.0" width="0.8" height="0.8" fill="#6a80ea" opacity="0.55"/><rect x="192.8" y="50.5" width="0.8" height="0.8" fill="#3f5fe0" opacity="0.55"/><rect x="209.9" y="51.3" width="0.8" height="0.8" fill="#6a80ea" opacity="0.55"/><rect x="199.8" y="61.3" width="0.8" height="0.8" fill="#b4a8ec" opacity="0.55"/><rect x="217.7" y="63.1" width="0.8" height="0.8" fill="#6a80ea" opacity="0.55"/><rect x="197.4" y="60.9" width="0.8" height="0.8" fill="#4a6ae4" opacity="0.55"/><rect x="223.9" y="60.0" width="0.8" height="0.8" fill="#8a8ff0" opacity="0.55"/><rect x="213.5" y="58.3" width="0.8" height="0.8" fill="#4a6ae4" opacity="0.55"/><rect x="201.3" y="61.7" width="0.8" height="0.8" fill="#4a6ae4" opacity="0.55"/><rect x="198.4" y="59.7" width="0.8" height="0.8" fill="#4a6ae4" opacity="0.55"/><rect x="216.5" y="63.9" width="0.8" height="0.8" fill="#6a80ea" opacity="0.55"/><rect x="201.6" y="57.8" width="0.8" height="0.8" fill="#8a8ff0" opacity="0.55"/><rect x="210.3" y="54.7" width="0.8" height="0.8" fill="#8a8ff0" opacity="0.55"/><rect x="193.1" y="63.5" width="0.8" height="0.8" fill="#8a8ff0" opacity="0.55"/><rect x="190.1" y="58.1" width="0.8" height="0.8" fill="#8a8ff0" opacity="0.55"/><rect x="187.5" y="55.7" width="0.8" height="0.8" fill="#b4a8ec" opacity="0.55"/><rect x="213.3" y="63.9" width="0.8" height="0.8" fill="#4a6ae4" opacity="0.55"/><rect x="204.5" y="62.8" width="0.8" height="0.8" fill="#6a80ea" opacity="0.55"/><rect x="222.1" y="63.4" width="0.8" height="0.8" fill="#4a6ae4" opacity="0.55"/><rect x="205.8" y="56.0" width="0.8" height="0.8" fill="#6a80ea" opacity="0.55"/><rect x="214.8" y="55.9" width="0.8" height="0.8" fill="#3f5fe0" opacity="0.55"/><rect x="208.0" y="58.7" width="0.8" height="0.8" fill="#3f5fe0" opacity="0.55"/><rect x="186.7" y="54.4" width="0.8" height="0.8" fill="#3f5fe0" opacity="0.55"/><rect x="198.1" y="63.6" width="0.8" height="0.8" fill="#8a8ff0" opacity="0.55"/><rect x="188.1" y="60.9" width="0.8" height="0.8" fill="#4a6ae4" opacity="0.55"/><rect x="192.3" y="60.6" width="0.8" height="0.8" fill="#6a80ea" opacity="0.55"/><rect x="198.2" y="46.1" width="0.8" height="0.8" fill="#4a6ae4" opacity="0.55"/><rect x="221.7" y="49.2" width="0.8" height="0.8" fill="#6a80ea" opacity="0.55"/><rect x="223.4" y="55.4" width="0.8" height="0.8" fill="#b4a8ec" opacity="0.55"/><rect x="212.7" y="63.2" width="0.8" height="0.8" fill="#b4a8ec" opacity="0.55"/><rect x="204.7" y="53.7" width="0.8" height="0.8" fill="#4a6ae4" opacity="0.55"/><rect x="203.0" y="52.2" width="0.8" height="0.8" fill="#8a8ff0" opacity="0.55"/><rect x="216.4" y="55.0" width="0.8" height="0.8" fill="#b4a8ec" opacity="0.55"/>
</g>
<rect x="183.70" y="23.50" width="41.70" height="41.00" fill="none" stroke="#8e8e9e" stroke-width="0.7"/>
<rect x="184.60" y="24.60" width="12.60" height="39.50" fill="none" stroke="#a4a4c0" stroke-width="0.6"/>
<rect x="202.20" y="24.60" width="22.00" height="39.50" fill="none" stroke="#a4a4c0" stroke-width="0.6"/>
<text x="190.90" y="45.00" font-size="3.2" font-family="Liberation Sans" font-weight="bold" text-anchor="middle" fill="#000" stroke="#000" stroke-width="0.12">69.89</text>
<text x="213.20" y="45.00" font-size="3.2" font-family="Liberation Sans" font-weight="bold" text-anchor="middle" fill="#000" stroke="#000" stroke-width="0.12">30.11</text>
<text x="49.30" y="77.20" font-size="6.3" font-family="Liberation Sans" font-weight="bold" text-anchor="middle" fill="#111" stroke="#111" stroke-width="0.22">Ig1+2</text>
<text x="19.00" y="86.30" font-size="6.4" font-family="Liberation Sans" font-style="italic" text-anchor="start" fill="#222">MFI:2.98</text>
<text x="69.10" y="86.30" font-size="6.4" font-family="Liberation Sans" font-style="italic" text-anchor="end" fill="#222">9.44</text>
<g clip-path="url(#c5)">
<rect x="31.00" y="111.40" width="38.70" height="20.00" fill="#bcc0f3" opacity="0.8" filter="url(#b25)"/>
<rect x="32.00" y="119.90" width="37.70" height="10.50" fill="#4a6ae2" opacity="0.82" filter="url(#b18)"/>
<ellipse cx="51.94" cy="124.40" rx="12.51" ry="2.60" fill="#2a9ad6" opacity="0.65" filter="url(#b12)"/>
<ellipse cx="37.60" cy="125.40" rx="6.38" ry="5.94" fill="#3a7ee0" opacity="0.8" filter="url(#b12)"/>
<ellipse cx="37.60" cy="125.40" rx="4.40" ry="4.18" fill="#2cc070" opacity="1" filter="url(#b08)"/>
<ellipse cx="37.60" cy="125.40" rx="2.90" ry="2.73" fill="#9ad83c" opacity="1" filter="url(#b05)"/>
<ellipse cx="37.60" cy="125.40" rx="1.85" ry="1.76" fill="#f0e030" opacity="1" filter="url(#b05)"/>
<rect x="42.5" y="114.6" width="0.8" height="0.8" fill="#4a6ae4" opacity="0.55"/><rect x="54.6" y="116.9" width="0.8" height="0.8" fill="#4a6ae4" opacity="0.55"/><rect x="36.4" y="117.4" width="0.8" height="0.8" fill="#6a80ea" opacity="0.55"/><rect x="54.8" y="118.7" width="0.8" height="0.8" fill="#6a80ea" opacity="0.55"/><rect x="41.4" y="127.6" width="0.8" height="0.8" fill="#b4a8ec" opacity="0.55"/><rect x="65.7" y="119.1" width="0.8" height="0.8" fill="#3f5fe0" opacity="0.55"/><rect x="60.2" y="127.4" width="0.8" height="0.8" fill="#4a6ae4" opacity="0.55"/><rect x="41.9" y="118.2" width="0.8" height="0.8" fill="#b4a8ec" opacity="0.55"/><rect x="60.8" y="125.9" width="0.8" height="0.8" fill="#3f5fe0" opacity="0.55"/><rect x="65.3" y="112.8" width="0.8" height="0.8" fill="#8a8ff0" opacity="0.55"/><rect x="43.1" y="115.4" width="0.8" height="0.8" fill="#6a80ea" opacity="0.55"/><rect x="40.2" y="116.0" width="0.8" height="0.8" fill="#b4a8ec" opacity="0.55"/><rect x="41.0" y="112.7" width="0.8" height="0.8" fill="#8a8ff0" opacity="0.55"/><rect x="69.4" y="124.5" width="0.8" height="0.8" fill="#6a80ea" opacity="0.55"/><rect x="55.8" y="127.7" width="0.8" height="0.8" fill="#8a8ff0" opacity="0.55"/><rect x="42.4" y="119.2" width="0.8" height="0.8" fill="#b4a8ec" opacity="0.55"/><rect x="63.1" y="124.5" width="0.8" height="0.8" fill="#4a6ae4" opacity="0.55"/><rect x="50.9" y="121.2" width="0.8" height="0.8" fill="#8a8ff0" opacity="0.55"/><rect x="55.1" y="124.7" width="0.8" height="0.8" fill="#b4a8ec" opacity="0.55"/><rect x="57.2" y="118.4" width="0.8" height="0.8" fill="#6a80ea" opacity="0.55"/><rect x="35.3" y="121.0" width="0.8" height="0.8" fill="#b4a8ec" opacity="0.55"/><rect x="66.9" y="125.8" width="0.8" height="0.8" fill="#6a80ea" opacity="0.55"/><rect x="61.4" y="127.8" width="0.8" height="0.8" fill="#8a8ff0" opacity="0.55"/><rect x="51.6" y="124.6" width="0.8" height="0.8" fill="#8a8ff0" opacity="0.55"/><rect x="32.7" y="123.2" width="0.8" height="0.8" fill="#3f5fe0" opacity="0.55"/><rect x="56.2" y="121.6" width="0.8" height="0.8" fill="#8a8ff0" opacity="0.55"/><rect x="68.4" y="116.6" width="0.8" height="0.8" fill="#6a80ea" opacity="0.55"/><rect x="33.5" y="119.0" width="0.8" height="0.8" fill="#b4a8ec" opacity="0.55"/><rect x="35.3" y="123.4" width="0.8" height="0.8" fill="#4a6ae4" opacity="0.55"/><rect x="56.5" y="127.0" width="0.8" height="0.8" fill="#3f5fe0" opacity="0.55"/><rect x="63.6" y="124.4" width="0.8" height="0.8" fill="#b4a8ec" opacity="0.55"/><rect x="33.5" y="124.0" width="0.8" height="0.8" fill="#3f5fe0" opacity="0.55"/><rect x="41.9" y="126.5" width="0.8" height="0.8" fill="#6a80ea" opacity="0.55"/><rect x="47.5" y="123.4" width="0.8" height="0.8" fill="#6a80ea" opacity="0.55"/><rect x="64.5" y="121.0" width="0.8" height="0.8" fill="#4a6ae4" opacity="0.55"/><rect x="52.1" y="115.5" width="0.8" height="0.8" fill="#8a8ff0" opacity="0.55"/><rect x="42.0" y="115.2" width="0.8" height="0.8" fill="#8a8ff0" opacity="0.55"/><rect x="31.5" y="127.4" width="0.8" height="0.8" fill="#8a8ff0" opacity="0.55"/><rect x="37.2" y="119.0" width="0.8" height="0.8" fill="#b4a8ec" opacity="0.55"/><rect x="34.3" y="120.0" width="0.8" height="0.8" fill="#6a80ea" opacity="0.55"/><rect x="45.6" y="124.0" width="0.8" height="0.8" fill="#b4a8ec" opacity="0.55"/><rect x="39.1" y="115.9" width="0.8" height="0.8" fill="#4a6ae4" opacity="0.55"/><rect x="42.7" y="124.2" width="0.8" height="0.8" fill="#3f5fe0" opacity="0.55"/><rect x="38.6" y="119.1" width="0.8" height="0.8" fill="#b4a8ec" opacity="0.55"/><rect x="44.8" y="125.4" width="0.8" height="0.8" fill="#8a8ff0" opacity="0.55"/><rect x="66.5" y="126.3" width="0.8" height="0.8" fill="#6a80ea" opacity="0.55"/><rect x="46.8" y="127.6" width="0.8" height="0.8" fill="#8a8ff0" opacity="0.55"/><rect x="37.0" y="110.0" width="0.8" height="0.8" fill="#b4a8ec" opacity="0.55"/><rect x="65.6" y="128.3" width="0.8" height="0.8" fill="#3f5fe0" opacity="0.55"/><rect x="53.0" y="119.1" width="0.8" height="0.8" fill="#8a8ff0" opacity="0.55"/><rect x="62.8" y="115.2" width="0.8" height="0.8" fill="#4a6ae4" opacity="0.55"/><rect x="55.6" y="124.5" width="0.8" height="0.8" fill="#b4a8ec" opacity="0.55"/><rect x="52.8" y="111.2" width="0.8" height="0.8" fill="#b4a8ec" opacity="0.55"/><rect x="40.7" y="117.8" width="0.8" height="0.8" fill="#3f5fe0" opacity="0.55"/><rect x="58.1" y="116.0" width="0.8" height="0.8" fill="#4a6ae4" opacity="0.55"/><rect x="50.4" y="114.7" width="0.8" height="0.8" fill="#3f5fe0" opacity="0.55"/><rect x="35.4" y="117.4" width="0.8" height="0.8" fill="#6a80ea" opacity="0.55"/><rect x="66.4" y="128.5" width="0.8" height="0.8" fill="#6a80ea" opacity="0.55"/><rect x="35.6" y="121.9" width="0.8" height="0.8" fill="#3f5fe0" opacity="0.55"/><rect x="51.0" y="115.6" width="0.8" height="0.8" fill="#b4a8ec" opacity="0.55"/><rect x="68.7" y="108.2" width="0.8" height="0.8" fill="#6a80ea" opacity="0.55"/><rect x="37.7" y="117.7" width="0.8" height="0.8" fill="#6a80ea" opacity="0.55"/><rect x="47.6" y="114.9" width="0.8" height="0.8" fill="#6a80ea" opacity="0.55"/><rect x="35.7" y="120.0" width="0.8" height="0.8" fill="#4a6ae4" opacity="0.55"/><rect x="48.9" y="107.9" width="0.8" height="0.8" fill="#8a8ff0" opacity="0.55"/><rect x="47.5" y="124.5" width="0.8" height="0.8" fill="#6a80ea" opacity="0.55"/><rect x="32.9" y="105.8" width="0.8" height="0.8" fill="#6a80ea" opacity="0.55"/><rect x="39.4" y="121.9" width="0.8" height="0.8" fill="#4a6ae4" opacity="0.55"/><rect x="36.6" y="126.4" width="0.8" height="0.8" fill="#8a8ff0" opacity="0.55"/><rect x="61.5" y="126.1" width="0.8" height="0.8" fill="#b4a8ec" opacity="0.55"/><rect x="43.6" y="128.6" width="0.8" height="0.8" fill="#6a80ea" opacity="0.55"/><rect x="50.0" y="117.5" width="0.8" height="0.8" fill="#6a80ea" opacity="0.55"/><rect x="59.1" y="121.3" width="0.8" height="0.8" fill="#3f5fe0" opacity="0.55"/><rect x="56.6" y="127.5" width="0.8" height="0.8" fill="#3f5fe0" opacity="0.55"/><rect x="54.7" y="109.0" width="0.8" height="0.8" fill="#4a6ae4" opacity="0.55"/><rect x="37.6" y="127.4" width="0.8" height="0.8" fill="#3f5fe0" opacity="0.55"/><rect x="31.3" y="126.8" width="0.8" height="0.8" fill="#3f5fe0" opacity="0.55"/><rect x="62.9" y="122.2" width="0.8" height="0.8" fill="#6a80ea" opacity="0.55"/><rect x="56.7" y="121.0" width="0.8" height="0.8" fill="#b4a8ec" opacity="0.55"/><rect x="65.3" y="115.0" width="0.8" height="0.8" fill="#3f5fe0" opacity="0.55"/><rect x="39.5" y="123.0" width="0.8" height="0.8" fill="#8a8ff0" opacity="0.55"/><rect x="49.6" y="117.5" width="0.8" height="0.8" fill="#8a8ff0" opacity="0.55"/><rect x="47.2" y="119.0" width="0.8" height="0.8" fill="#3f5fe0" opacity="0.55"/><rect x="37.7" y="120.8" width="0.8" height="0.8" fill="#6a80ea" opacity="0.55"/><rect x="40.9" y="127.1" width="0.8" height="0.8" fill="#3f5fe0" opacity="0.55"/><rect x="63.8" y="109.5" width="0.8" height="0.8" fill="#4a6ae4" opacity="0.55"/><rect x="40.8" y="96.4" width="0.8" height="0.8" fill="#8a8ff0" opacity="0.55"/><rect x="61.7" y="114.5" width="0.8" height="0.8" fill="#3f5fe0" opacity="0.55"/><rect x="47.7" y="124.3" width="0.8" height="0.8" fill="#6a80ea" opacity="0.55"/><rect x="38.5" y="127.9" width="0.8" height="0.8" fill="#8a8ff0" opacity="0.55"/>
</g>
<rect x="29.00" y="88.40" width="41.70" height="41.00" fill="none" stroke="#8e8e9e" stroke-width="0.7"/>
<rect x="29.90" y="89.50" width="12.30" height="39.50" fill="none" stroke="#a4a4c0" stroke-width="0.6"/>
<rect x="48.10" y="89.50" width="21.40" height="39.50" fill="none" stroke="#a4a4c0" stroke-width="0.6"/>
<text x="36.05" y="109.90" font-size="3.2" font-family="Liberation Sans" font-weight="bold" text-anchor="middle" fill="#000" stroke="#000" stroke-width="0.12">55.42</text>
<text x="58.80" y="109.90" font-size="3.2" font-family="Liberation Sans" font-weight="bold" text-anchor="middle" fill="#000" stroke="#000" stroke-width="0.12">44.56</text>
<text x="102.10" y="77.20" font-size="6.3" font-family="Liberation Sans" font-weight="bold" text-anchor="middle" fill="#111" stroke="#111" stroke-width="0.22">Ig3+4</text>
<text x="82.50" y="86.30" font-size="6.4" font-family="Liberation Sans" font-style="italic" text-anchor="start" fill="#222">2.99</text>
<text x="122.30" y="86.30" font-size="6.4" font-family="Liberation Sans" font-style="italic" text-anchor="end" fill="#222">4.05</text>
<g clip-path="url(#c6)">
<rect x="84.20" y="114.40" width="38.70" height="16.00" fill="#c6c9f4" opacity="0.75" filter="url(#b25)"/>
<ellipse cx="90.70" cy="120.40" rx="3.50" ry="7.00" fill="#a0a8f2" opacity="0.6" filter="url(#b18)"/>
<rect x="85.20" y="122.20" width="36.70" height="8.50" fill="#3f64e0" opacity="0.88" filter="url(#b12)"/>
<ellipse cx="103.05" cy="125.60" rx="12.51" ry="2.20" fill="#22b8b4" opacity="0.85" filter="url(#b08)"/>
<ellipse cx="90.50" cy="125.10" rx="6.09" ry="5.67" fill="#3a7ee0" opacity="0.8" filter="url(#b12)"/>
<ellipse cx="90.50" cy="125.10" rx="4.20" ry="3.99" fill="#2cc070" opacity="1" filter="url(#b08)"/>
<ellipse cx="90.50" cy="125.10" rx="2.77" ry="2.60" fill="#9ad83c" opacity="1" filter="url(#b05)"/>
<ellipse cx="90.50" cy="125.10" rx="1.76" ry="1.68" fill="#f0e030" opacity="1" filter="url(#b05)"/>
<rect x="87.8" y="128.0" width="0.8" height="0.8" fill="#6a80ea" opacity="0.55"/><rect x="120.4" y="125.4" width="0.8" height="0.8" fill="#4a6ae4" opacity="0.55"/><rect x="105.8" y="121.2" width="0.8" height="0.8" fill="#4a6ae4" opacity="0.55"/><rect x="102.8" y="120.2" width="0.8" height="0.8" fill="#6a80ea" opacity="0.55"/><rect x="109.1" y="120.5" width="0.8" height="0.8" fill="#3f5fe0" opacity="0.55"/><rect x="104.5" y="126.7" width="0.8" height="0.8" fill="#4a6ae4" opacity="0.55"/><rect x="116.3" y="127.9" width="0.8" height="0.8" fill="#4a6ae4" opacity="0.55"/><rect x="89.8" y="127.1" width="0.8" height="0.8" fill="#4a6ae4" opacity="0.55"/><rect x="121.3" y="114.9" width="0.8" height="0.8" fill="#6a80ea" opacity="0.55"/><rect x="84.5" y="119.8" width="0.8" height="0.8" fill="#b4a8ec" opacity="0.55"/><rect x="111.5" y="115.6" width="0.8" height="0.8" fill="#8a8ff0" opacity="0.55"/><rect x="99.1" y="127.3" width="0.8" height="0.8" fill="#3f5fe0" opacity="0.55"/><rect x="100.3" y="127.1" width="0.8" height="0.8" fill="#3f5fe0" opacity="0.55"/><rect x="95.3" y="119.9" width="0.8" height="0.8" fill="#3f5fe0" opacity="0.55"/><rect x="118.9" y="119.1" width="0.8" height="0.8" fill="#3f5fe0" opacity="0.55"/><rect x="105.6" y="123.4" width="0.8" height="0.8" fill="#3f5fe0" opacity="0.55"/><rect x="99.9" y="124.2" width="0.8" height="0.8" fill="#4a6ae4" opacity="0.55"/><rect x="100.0" y="127.1" width="0.8" height="0.8" fill="#3f5fe0" opacity="0.55"/><rect x="96.4" y="123.6" width="0.8" height="0.8" fill="#6a80ea" opacity="0.55"/><rect x="117.2" y="126.7" width="0.8" height="0.8" fill="#b4a8ec" opacity="0.55"/><rect x="93.8" y="124.0" width="0.8" height="0.8" fill="#b4a8ec" opacity="0.55"/><rect x="107.7" y="122.0" width="0.8" height="0.8" fill="#4a6ae4" opacity="0.55"/><rect x="104.1" y="128.4" width="0.8" height="0.8" fill="#8a8ff0" opacity="0.55"/><rect x="122.4" y="125.2" width="0.8" height="0.8" fill="#6a80ea" opacity="0.55"/><rect x="111.8" y="122.9" width="0.8" height="0.8" fill="#8a8ff0" opacity="0.55"/><rect x="85.9" y="127.9" width="0.8" height="0.8" fill="#3f5fe0" opacity="0.55"/><rect x="110.7" y="128.0" width="0.8" height="0.8" fill="#6a80ea" opacity="0.55"/><rect x="92.5" y="126.3" width="0.8" height="0.8" fill="#3f5fe0" opacity="0.55"/><rect x="122.8" y="113.5" width="0.8" height="0.8" fill="#b4a8ec" opacity="0.55"/><rect x="111.2" y="125.1" width="0.8" height="0.8" fill="#4a6ae4" opacity="0.55"/><rect x="97.9" y="124.1" width="0.8" height="0.8" fill="#b4a8ec" opacity="0.55"/><rect x="90.3" y="126.4" width="0.8" height="0.8" fill="#3f5fe0" opacity="0.55"/><rect x="84.5" y="128.0" width="0.8" height="0.8" fill="#6a80ea" opacity="0.55"/><rect x="92.0" y="114.1" width="0.8" height="0.8" fill="#b4a8ec" opacity="0.55"/><rect x="94.4" y="126.8" width="0.8" height="0.8" fill="#3f5fe0" opacity="0.55"/><rect x="85.1" y="128.7" width="0.8" height="0.8" fill="#3f5fe0" opacity="0.55"/><rect x="89.3" y="108.3" width="0.8" height="0.8" fill="#8a8ff0" opacity="0.55"/><rect x="90.3" y="125.9" width="0.8" height="0.8" fill="#6a80ea" opacity="0.55"/><rect x="121.4" y="117.0" width="0.8" height="0.8" fill="#8a8ff0" opacity="0.55"/><rect x="87.6" y="121.4" width="0.8" height="0.8" fill="#4a6ae4" opacity="0.55"/><rect x="102.9" y="116.8" width="0.8" height="0.8" fill="#6a80ea" opacity="0.55"/><rect x="85.5" y="126.5" width="0.8" height="0.8" fill="#4a6ae4" opacity="0.55"/><rect x="104.6" y="119.9" width="0.8" height="0.8" fill="#8a8ff0" opacity="0.55"/><rect x="106.9" y="120.6" width="0.8" height="0.8" fill="#3f5fe0" opacity="0.55"/><rect x="108.9" y="121.2" width="0.8" height="0.8" fill="#b4a8ec" opacity="0.55"/><rect x="102.6" y="126.1" width="0.8" height="0.8" fill="#3f5fe0" opacity="0.55"/><rect x="117.1" y="128.2" width="0.8" height="0.8" fill="#3f5fe0" opacity="0.55"/><rect x="105.8" y="128.6" width="0.8" height="0.8" fill="#3f5fe0" opacity="0.55"/><rect x="86.4" y="122.3" width="0.8" height="0.8" fill="#4a6ae4" opacity="0.55"/><rect x="109.2" y="122.2" width="0.8" height="0.8" fill="#4a6ae4" opacity="0.55"/><rect x="113.6" y="114.0" width="0.8" height="0.8" fill="#8a8ff0" opacity="0.55"/><rect x="94.0" y="124.7" width="0.8" height="0.8" fill="#6a80ea" opacity="0.55"/><rect x="91.1" y="117.5" width="0.8" height="0.8" fill="#3f5fe0" opacity="0.55"/><rect x="119.6" y="126.8" width="0.8" height="0.8" fill="#3f5fe0" opacity="0.55"/><rect x="86.2" y="118.0" width="0.8" height="0.8" fill="#3f5fe0" opacity="0.55"/><rect x="92.7" y="119.7" width="0.8" height="0.8" fill="#8a8ff0" opacity="0.55"/><rect x="94.9" y="116.5" width="0.8" height="0.8" fill="#3f5fe0" opacity="0.55"/><rect x="98.4" y="121.1" width="0.8" height="0.8" fill="#8a8ff0" opacity="0.55"/><rect x="99.7" y="121.7" width="0.8" height="0.8" fill="#b4a8ec" opacity="0.55"/><rect x="101.1" y="123.8" width="0.8" height="0.8" fill="#3f5fe0" opacity="0.55"/><rect x="100.8" y="125.5" width="0.8" height="0.8" fill="#b4a8ec" opacity="0.55"/><rect x="88.9" y="116.4" width="0.8" height="0.8" fill="#8a8ff0" opacity="0.55"/><rect x="91.3" y="125.5" width="0.8" height="0.8" fill="#b4a8ec" opacity="0.55"/><rect x="99.1" y="124.1" width="0.8" height="0.8" fill="#8a8ff0" opacity="0.55"/><rect x="95.3" y="117.4" width="0.8" height="0.8" fill="#6a80ea" opacity="0.55"/><rect x="96.3" y="125.8" width="0.8" height="0.8" fill="#6a80ea" opacity="0.55"/><rect x="97.0" y="126.5" width="0.8" height="0.8" fill="#8a8ff0" opacity="0.55"/><rect x="84.3" y="128.5" width="0.8" height="0.8" fill="#b4a8ec" opacity="0.55"/><rect x="90.2" y="120.9" width="0.8" height="0.8" fill="#8a8ff0" opacity="0.55"/><rect x="95.1" y="128.5" width="0.8" height="0.8" fill="#6a80ea" opacity="0.55"/><rect x="112.5" y="123.5" width="0.8" height="0.8" fill="#4a6ae4" opacity="0.55"/><rect x="122.7" y="116.8" width="0.8" height="0.8" fill="#3f5fe0" opacity="0.55"/><rect x="112.9" y="121.2" width="0.8" height="0.8" fill="#3f5fe0" opacity="0.55"/><rect x="118.3" y="123.8" width="0.8" height="0.8" fill="#6a80ea" opacity="0.55"/><rect x="121.2" y="115.7" width="0.8" height="0.8" fill="#3f5fe0" opacity="0.55"/><rect x="88.4" y="124.3" width="0.8" height="0.8" fill="#4a6ae4" opacity="0.55"/><rect x="104.0" y="110.1" width="0.8" height="0.8" fill="#6a80ea" opacity="0.55"/><rect x="121.8" y="121.6" width="0.8" height="0.8" fill="#8a8ff0" opacity="0.55"/><rect x="120.4" y="116.2" width="0.8" height="0.8" fill="#6a80ea" opacity="0.55"/><rect x="109.9" y="126.3" width="0.8" height="0.8" fill="#3f5fe0" opacity="0.55"/><rect x="109.9" y="120.4" width="0.8" height="0.8" fill="#3f5fe0" opacity="0.55"/><rect x="106.9" y="120.0" width="0.8" height="0.8" fill="#3f5fe0" opacity="0.55"/><rect x="105.3" y="128.4" width="0.8" height="0.8" fill="#8a8ff0" opacity="0.55"/><rect x="117.4" y="124.3" width="0.8" height="0.8" fill="#8a8ff0" opacity="0.55"/>
</g>
<rect x="82.20" y="88.40" width="41.70" height="41.00" fill="none" stroke="#8e8e9e" stroke-width="0.7"/>
<rect x="83.10" y="89.50" width="12.20" height="39.50" fill="none" stroke="#a4a4c0" stroke-width="0.6"/>
<rect x="100.70" y="89.50" width="22.00" height="39.50" fill="none" stroke="#a4a4c0" stroke-width="0.6"/>
<text x="89.20" y="109.90" font-size="3.2" font-family="Liberation Sans" font-weight="bold" text-anchor="middle" fill="#000" stroke="#000" stroke-width="0.12">61.57</text>
<text x="111.70" y="109.90" font-size="3.2" font-family="Liberation Sans" font-weight="bold" text-anchor="middle" fill="#000" stroke="#000" stroke-width="0.12">38.43</text>
<text x="152.70" y="77.20" font-size="6.3" font-family="Liberation Sans" font-weight="bold" text-anchor="middle" fill="#111" stroke="#111" stroke-width="0.22">wt</text>
<text x="133.30" y="86.30" font-size="6.4" font-family="Liberation Sans" font-style="italic" text-anchor="start" fill="#222">3.30</text>
<text x="173.10" y="86.30" font-size="6.4" font-family="Liberation Sans" font-style="italic" text-anchor="end" fill="#222">20.86</text>
<g clip-path="url(#c7)">
<rect x="145.51" y="118.40" width="27.11" height="12.00" fill="#c4c8f4" opacity="0.6" filter="url(#b25)"/>
<ellipse cx="155.94" cy="116.40" rx="20.85" ry="9.00" fill="#b4b9f2" opacity="0.85" filter="url(#b25)" transform="rotate(-35 155.94 116.40)"/>
<ellipse cx="151.76" cy="119.90" rx="15.85" ry="5.50" fill="#4a6ee4" opacity="0.8" filter="url(#b18)" transform="rotate(-35 151.76 119.90)"/>
<ellipse cx="163.02" cy="112.40" rx="9.17" ry="5.00" fill="#7f90ec" opacity="0.6" filter="url(#b18)" transform="rotate(-35 163.02 112.40)"/>
<ellipse cx="140.60" cy="124.60" rx="6.96" ry="6.48" fill="#3a7ee0" opacity="0.8" filter="url(#b12)"/>
<ellipse cx="140.60" cy="124.60" rx="4.80" ry="4.56" fill="#2cc070" opacity="1" filter="url(#b08)"/>
<ellipse cx="140.60" cy="124.60" rx="3.17" ry="2.98" fill="#9ad83c" opacity="1" filter="url(#b05)"/>
<ellipse cx="140.60" cy="124.60" rx="2.02" ry="1.92" fill="#f0a828" opacity="1" filter="url(#b05)"/>
<rect x="136.9" y="128.0" width="0.8" height="0.8" fill="#8a8ff0" opacity="0.55"/><rect x="141.6" y="121.7" width="0.8" height="0.8" fill="#6a80ea" opacity="0.55"/><rect x="144.6" y="127.3" width="0.8" height="0.8" fill="#6a80ea" opacity="0.55"/><rect x="157.4" y="118.3" width="0.8" height="0.8" fill="#6a80ea" opacity="0.55"/><rect x="152.8" y="119.0" width="0.8" height="0.8" fill="#6a80ea" opacity="0.55"/><rect x="149.4" y="121.4" width="0.8" height="0.8" fill="#b4a8ec" opacity="0.55"/><rect x="156.6" y="111.7" width="0.8" height="0.8" fill="#8a8ff0" opacity="0.55"/><rect x="139.8" y="126.3" width="0.8" height="0.8" fill="#6a80ea" opacity="0.55"/><rect x="174.0" y="107.4" width="0.8" height="0.8" fill="#b4a8ec" opacity="0.55"/><rect x="166.0" y="104.8" width="0.8" height="0.8" fill="#b4a8ec" opacity="0.55"/><rect x="173.7" y="112.1" width="0.8" height="0.8" fill="#3f5fe0" opacity="0.55"/><rect x="155.5" y="117.2" width="0.8" height="0.8" fill="#4a6ae4" opacity="0.55"/><rect x="161.8" y="111.2" width="0.8" height="0.8" fill="#8a8ff0" opacity="0.55"/><rect x="171.1" y="115.0" width="0.8" height="0.8" fill="#4a6ae4" opacity="0.55"/><rect x="157.3" y="113.1" width="0.8" height="0.8" fill="#4a6ae4" opacity="0.55"/><rect x="150.1" y="116.1" width="0.8" height="0.8" fill="#4a6ae4" opacity="0.55"/><rect x="164.8" y="116.3" width="0.8" height="0.8" fill="#3f5fe0" opacity="0.55"/><rect x="162.4" y="112.1" width="0.8" height="0.8" fill="#6a80ea" opacity="0.55"/><rect x="136.6" y="122.8" width="0.8" height="0.8" fill="#6a80ea" opacity="0.55"/><rect x="162.0" y="122.3" width="0.8" height="0.8" fill="#6a80ea" opacity="0.55"/><rect x="168.1" y="109.9" width="0.8" height="0.8" fill="#6a80ea" opacity="0.55"/><rect x="151.2" y="120.3" width="0.8" height="0.8" fill="#6a80ea" opacity="0.55"/><rect x="151.5" y="118.9" width="0.8" height="0.8" fill="#8a8ff0" opacity="0.55"/><rect x="156.0" y="118.7" width="0.8" height="0.8" fill="#6a80ea" opacity="0.55"/><rect x="172.5" y="107.2" width="0.8" height="0.8" fill="#8a8ff0" opacity="0.55"/><rect x="154.2" y="116.6" width="0.8" height="0.8" fill="#6a80ea" opacity="0.55"/><rect x="152.0" y="116.0" width="0.8" height="0.8" fill="#6a80ea" opacity="0.55"/><rect x="142.6" y="127.5" width="0.8" height="0.8" fill="#8a8ff0" opacity="0.55"/><rect x="140.6" y="117.0" width="0.8" height="0.8" fill="#b4a8ec" opacity="0.55"/><rect x="164.8" y="118.7" width="0.8" height="0.8" fill="#b4a8ec" opacity="0.55"/><rect x="149.5" y="120.1" width="0.8" height="0.8" fill="#4a6ae4" opacity="0.55"/><rect x="161.9" y="116.3" width="0.8" height="0.8" fill="#3f5fe0" opacity="0.55"/><rect x="144.6" y="120.2" width="0.8" height="0.8" fill="#8a8ff0" opacity="0.55"/><rect x="159.8" y="121.1" width="0.8" height="0.8" fill="#8a8ff0" opacity="0.55"/><rect x="155.6" y="126.4" width="0.8" height="0.8" fill="#6a80ea" opacity="0.55"/><rect x="165.6" y="108.1" width="0.8" height="0.8" fill="#b4a8ec" opacity="0.55"/><rect x="149.4" y="118.8" width="0.8" height="0.8" fill="#b4a8ec" opacity="0.55"/><rect x="164.4" y="108.0" width="0.8" height="0.8" fill="#b4a8ec" opacity="0.55"/><rect x="159.3" y="111.9" width="0.8" height="0.8" fill="#3f5fe0" opacity="0.55"/><rect x="159.6" y="118.1" width="0.8" height="0.8" fill="#3f5fe0" opacity="0.55"/><rect x="163.8" y="114.7" width="0.8" height="0.8" fill="#8a8ff0" opacity="0.55"/><rect x="158.9" y="114.0" width="0.8" height="0.8" fill="#4a6ae4" opacity="0.55"/><rect x="159.1" y="113.6" width="0.8" height="0.8" fill="#b4a8ec" opacity="0.55"/><rect x="160.2" y="114.7" width="0.8" height="0.8" fill="#8a8ff0" opacity="0.55"/><rect x="139.6" y="124.1" width="0.8" height="0.8" fill="#3f5fe0" opacity="0.55"/><rect x="163.5" y="114.8" width="0.8" height="0.8" fill="#3f5fe0" opacity="0.55"/><rect x="158.0" y="116.1" width="0.8" height="0.8" fill="#6a80ea" opacity="0.55"/><rect x="168.2" y="111.0" width="0.8" height="0.8" fill="#6a80ea" opacity="0.55"/><rect x="166.9" y="110.3" width="0.8" height="0.8" fill="#8a8ff0" opacity="0.55"/><rect x="171.4" y="108.8" width="0.8" height="0.8" fill="#b4a8ec" opacity="0.55"/><rect x="160.9" y="110.1" width="0.8" height="0.8" fill="#8a8ff0" opacity="0.55"/><rect x="165.3" y="115.9" width="0.8" height="0.8" fill="#6a80ea" opacity="0.55"/><rect x="156.3" y="120.4" width="0.8" height="0.8" fill="#b4a8ec" opacity="0.55"/><rect x="163.6" y="111.2" width="0.8" height="0.8" fill="#b4a8ec" opacity="0.55"/><rect x="147.8" y="122.0" width="0.8" height="0.8" fill="#3f5fe0" opacity="0.55"/><rect x="156.6" y="114.2" width="0.8" height="0.8" fill="#8a8ff0" opacity="0.55"/><rect x="156.2" y="116.4" width="0.8" height="0.8" fill="#4a6ae4" opacity="0.55"/><rect x="167.8" y="102.4" width="0.8" height="0.8" fill="#8a8ff0" opacity="0.55"/><rect x="145.6" y="122.8" width="0.8" height="0.8" fill="#b4a8ec" opacity="0.55"/><rect x="149.6" y="122.3" width="0.8" height="0.8" fill="#3f5fe0" opacity="0.55"/><rect x="149.1" y="118.6" width="0.8" height="0.8" fill="#b4a8ec" opacity="0.55"/><rect x="141.7" y="119.6" width="0.8" height="0.8" fill="#4a6ae4" opacity="0.55"/><rect x="164.8" y="116.8" width="0.8" height="0.8" fill="#4a6ae4" opacity="0.55"/><rect x="153.7" y="122.2" width="0.8" height="0.8" fill="#6a80ea" opacity="0.55"/><rect x="155.2" y="111.6" width="0.8" height="0.8" fill="#4a6ae4" opacity="0.55"/><rect x="153.7" y="121.6" width="0.8" height="0.8" fill="#b4a8ec" opacity="0.55"/><rect x="147.7" y="119.8" width="0.8" height="0.8" fill="#8a8ff0" opacity="0.55"/><rect x="157.1" y="113.9" width="0.8" height="0.8" fill="#6a80ea" opacity="0.55"/><rect x="168.3" y="110.2" width="0.8" height="0.8" fill="#4a6ae4" opacity="0.55"/><rect x="146.8" y="119.6" width="0.8" height="0.8" fill="#8a8ff0" opacity="0.55"/><rect x="166.7" y="108.5" width="0.8" height="0.8" fill="#8a8ff0" opacity="0.55"/><rect x="168.9" y="117.8" width="0.8" height="0.8" fill="#b4a8ec" opacity="0.55"/><rect x="170.5" y="106.8" width="0.8" height="0.8" fill="#6a80ea" opacity="0.55"/><rect x="155.5" y="112.0" width="0.8" height="0.8" fill="#b4a8ec" opacity="0.55"/><rect x="161.9" y="114.4" width="0.8" height="0.8" fill="#8a8ff0" opacity="0.55"/><rect x="149.0" y="117.7" width="0.8" height="0.8" fill="#6a80ea" opacity="0.55"/><rect x="162.8" y="108.1" width="0.8" height="0.8" fill="#4a6ae4" opacity="0.55"/><rect x="160.6" y="118.3" width="0.8" height="0.8" fill="#8a8ff0" opacity="0.55"/><rect x="161.2" y="113.4" width="0.8" height="0.8" fill="#4a6ae4" opacity="0.55"/><rect x="153.6" y="117.1" width="0.8" height="0.8" fill="#b4a8ec" opacity="0.55"/><rect x="165.8" y="107.5" width="0.8" height="0.8" fill="#4a6ae4" opacity="0.55"/><rect x="152.5" y="123.6" width="0.8" height="0.8" fill="#6a80ea" opacity="0.55"/><rect x="168.2" y="105.5" width="0.8" height="0.8" fill="#8a8ff0" opacity="0.55"/><rect x="161.7" y="111.1" width="0.8" height="0.8" fill="#4a6ae4" opacity="0.55"/><rect x="148.9" y="120.6" width="0.8" height="0.8" fill="#b4a8ec" opacity="0.55"/><rect x="168.3" y="109.1" width="0.8" height="0.8" fill="#8a8ff0" opacity="0.55"/>
</g>
<rect x="133.00" y="88.40" width="41.70" height="41.00" fill="none" stroke="#8e8e9e" stroke-width="0.7"/>
<rect x="133.90" y="89.50" width="10.60" height="39.50" fill="none" stroke="#a4a4c0" stroke-width="0.6"/>
<rect x="149.30" y="89.50" width="24.20" height="39.50" fill="none" stroke="#a4a4c0" stroke-width="0.6"/>
<text x="139.20" y="109.90" font-size="3.2" font-family="Liberation Sans" font-weight="bold" text-anchor="middle" fill="#000" stroke="#000" stroke-width="0.12">17.43</text>
<text x="161.40" y="109.90" font-size="3.2" font-family="Liberation Sans" font-weight="bold" text-anchor="middle" fill="#000" stroke="#000" stroke-width="0.12">17.37</text>
<text x="246.00" y="9.30" font-size="10" font-family="Liberation Sans" font-weight="bold" text-anchor="start" fill="#111" stroke="#111" stroke-width="0.45">B</text>
<line x1="274.50" y1="9.50" x2="274.50" y2="124.50" stroke="#222" stroke-width="1"/>
<line x1="274.00" y1="124.50" x2="342.00" y2="124.50" stroke="#222" stroke-width="1"/>
<line x1="272.50" y1="124.50" x2="274.50" y2="124.50" stroke="#222" stroke-width="0.9"/>
<text x="272.30" y="126.70" font-size="6.2" font-family="Liberation Sans" font-weight="bold" text-anchor="end" fill="#111" stroke="#111" stroke-width="0.22">0</text>
<line x1="272.50" y1="108.13" x2="274.50" y2="108.13" stroke="#222" stroke-width="0.9"/>
<text x="272.30" y="110.33" font-size="6.2" font-family="Liberation Sans" font-weight="bold" text-anchor="end" fill="#111" stroke="#111" stroke-width="0.22">1</text>
<line x1="272.50" y1="91.76" x2="274.50" y2="91.76" stroke="#222" stroke-width="0.9"/>
<text x="272.30" y="93.96" font-size="6.2" font-family="Liberation Sans" font-weight="bold" text-anchor="end" fill="#111" stroke="#111" stroke-width="0.22">2</text>
<line x1="272.50" y1="75.39" x2="274.50" y2="75.39" stroke="#222" stroke-width="0.9"/>
<text x="272.30" y="77.59" font-size="6.2" font-family="Liberation Sans" font-weight="bold" text-anchor="end" fill="#111" stroke="#111" stroke-width="0.22">3</text>
<line x1="272.50" y1="59.02" x2="274.50" y2="59.02" stroke="#222" stroke-width="0.9"/>
<text x="272.30" y="61.22" font-size="6.2" font-family="Liberation Sans" font-weight="bold" text-anchor="end" fill="#111" stroke="#111" stroke-width="0.22">4</text>
<line x1="272.50" y1="42.65" x2="274.50" y2="42.65" stroke="#222" stroke-width="0.9"/>
<text x="272.30" y="44.85" font-size="6.2" font-family="Liberation Sans" font-weight="bold" text-anchor="end" fill="#111" stroke="#111" stroke-width="0.22">5</text>
<line x1="272.50" y1="26.28" x2="274.50" y2="26.28" stroke="#222" stroke-width="0.9"/>
<text x="272.30" y="28.48" font-size="6.2" font-family="Liberation Sans" font-weight="bold" text-anchor="end" fill="#111" stroke="#111" stroke-width="0.22">6</text>
<line x1="272.50" y1="9.91" x2="274.50" y2="9.91" stroke="#222" stroke-width="0.9"/>
<text x="272.30" y="12.11" font-size="6.2" font-family="Liberation Sans" font-weight="bold" text-anchor="end" fill="#111" stroke="#111" stroke-width="0.22">7</text>
<line x1="280.40" y1="100.44" x2="280.40" y2="98.80" stroke="#222" stroke-width="0.8"/>
<line x1="278.60" y1="98.80" x2="282.20" y2="98.80" stroke="#222" stroke-width="0.8"/>
<rect x="277.10" y="100.44" width="6.60" height="24.06" fill="#858585" stroke="#333" stroke-width="0.6"/>
<line x1="280.40" y1="124.50" x2="280.40" y2="126.50" stroke="#222" stroke-width="0.8"/>
<text x="281.90" y="133.50" font-size="6.6" font-family="Liberation Sans" font-weight="bold" text-anchor="end" fill="#111" stroke="#111" stroke-width="0.22" transform="rotate(-45 281.90 133.50)">Ig1</text>
<line x1="289.83" y1="108.46" x2="289.83" y2="108.13" stroke="#222" stroke-width="0.8"/>
<line x1="288.03" y1="108.13" x2="291.63" y2="108.13" stroke="#222" stroke-width="0.8"/>
<rect x="286.53" y="108.46" width="6.60" height="16.04" fill="#858585" stroke="#333" stroke-width="0.6"/>
<line x1="289.83" y1="124.50" x2="289.83" y2="126.50" stroke="#222" stroke-width="0.8"/>
<text x="291.33" y="133.50" font-size="6.6" font-family="Liberation Sans" font-weight="bold" text-anchor="end" fill="#111" stroke="#111" stroke-width="0.22" transform="rotate(-45 291.33 133.50)">Ig2</text>
<line x1="299.26" y1="106.49" x2="299.26" y2="105.67" stroke="#222" stroke-width="0.8"/>
<line x1="297.46" y1="105.67" x2="301.06" y2="105.67" stroke="#222" stroke-width="0.8"/>
<rect x="295.96" y="106.49" width="6.60" height="18.01" fill="#858585" stroke="#333" stroke-width="0.6"/>
<line x1="299.26" y1="124.50" x2="299.26" y2="126.50" stroke="#222" stroke-width="0.8"/>
<text x="300.76" y="133.50" font-size="6.6" font-family="Liberation Sans" font-weight="bold" text-anchor="end" fill="#111" stroke="#111" stroke-width="0.22" transform="rotate(-45 300.76 133.50)">Ig3</text>
<line x1="308.69" y1="106.17" x2="308.69" y2="105.67" stroke="#222" stroke-width="0.8"/>
<line x1="306.89" y1="105.67" x2="310.49" y2="105.67" stroke="#222" stroke-width="0.8"/>
<rect x="305.39" y="106.17" width="6.60" height="18.33" fill="#858585" stroke="#333" stroke-width="0.6"/>
<line x1="308.69" y1="124.50" x2="308.69" y2="126.50" stroke="#222" stroke-width="0.8"/>
<text x="310.19" y="133.50" font-size="6.6" font-family="Liberation Sans" font-weight="bold" text-anchor="end" fill="#111" stroke="#111" stroke-width="0.22" transform="rotate(-45 310.19 133.50)">Ig4</text>
<line x1="318.12" y1="78.34" x2="318.12" y2="72.61" stroke="#222" stroke-width="0.8"/>
<line x1="316.32" y1="72.61" x2="319.92" y2="72.61" stroke="#222" stroke-width="0.8"/>
<rect x="314.82" y="78.34" width="6.60" height="46.16" fill="#858585" stroke="#333" stroke-width="0.6"/>
<line x1="318.12" y1="124.50" x2="318.12" y2="126.50" stroke="#222" stroke-width="0.8"/>
<text x="319.62" y="133.50" font-size="6.6" font-family="Liberation Sans" font-weight="bold" text-anchor="end" fill="#111" stroke="#111" stroke-width="0.22" transform="rotate(-45 319.62 133.50)">Ig1+2</text>
<line x1="327.55" y1="102.07" x2="327.55" y2="101.58" stroke="#222" stroke-width="0.8"/>
<line x1="325.75" y1="101.58" x2="329.35" y2="101.58" stroke="#222" stroke-width="0.8"/>
<rect x="324.25" y="102.07" width="6.60" height="22.43" fill="#858585" stroke="#333" stroke-width="0.6"/>
<line x1="327.55" y1="124.50" x2="327.55" y2="126.50" stroke="#222" stroke-width="0.8"/>
<text x="329.05" y="133.50" font-size="6.6" font-family="Liberation Sans" font-weight="bold" text-anchor="end" fill="#111" stroke="#111" stroke-width="0.22" transform="rotate(-45 329.05 133.50)">Ig3+4</text>
<rect x="333.68" y="21.37" width="6.60" height="103.13" fill="#858585" stroke="#333" stroke-width="0.6"/>
<line x1="336.98" y1="124.50" x2="336.98" y2="126.50" stroke="#222" stroke-width="0.8"/>
<text x="338.48" y="133.50" font-size="6.6" font-family="Liberation Sans" font-weight="bold" text-anchor="end" fill="#111" stroke="#111" stroke-width="0.22" transform="rotate(-45 338.48 133.50)">FL</text>
<text x="253.90" y="71.00" font-size="7.4" font-family="Liberation Sans" font-weight="bold" text-anchor="middle" fill="#111" stroke="#111" stroke-width="0.22" transform="rotate(-90 253.90 71.00)" textLength="86" lengthAdjust="spacingAndGlyphs">Angptl2 Binding activity</text>
<text x="261.00" y="69.00" font-size="3.4" font-family="Liberation Sans" font-weight="bold" text-anchor="middle" fill="#111" transform="rotate(-90 261.00 69.00)" textLength="108" lengthAdjust="spacingAndGlyphs">(# cells (change relative to mono-transfected cells)</text>
<text x="1.00" y="158.70" font-size="10" font-family="Liberation Sans" font-weight="bold" text-anchor="start" fill="#111" stroke="#111" stroke-width="0.45">C</text>
<rect x="19.50" y="166.00" width="36.50" height="6.00" fill="#fff" stroke="#444" stroke-width="0.7"/>
<text x="37.50" y="171.10" font-size="5.4" font-family="Liberation Sans" text-anchor="middle" fill="#333">Ig1</text>
<line x1="41.20" y1="166.00" x2="41.20" y2="172.00" stroke="#444" stroke-width="0.6"/>
<rect x="46.30" y="166.30" width="6.20" height="5.40" fill="#cfcfcf" stroke="#777" stroke-width="0.5"/>
<line x1="52.50" y1="166.00" x2="52.50" y2="172.00" stroke="#444" stroke-width="0.6"/>
<rect x="60.00" y="166.00" width="36.30" height="6.00" fill="#fff" stroke="#444" stroke-width="0.7"/>
<text x="78.15" y="171.10" font-size="5.4" font-family="Liberation Sans" text-anchor="middle" fill="#333">Ig2</text>
<rect x="101.20" y="166.00" width="36.60" height="6.00" fill="#fff" stroke="#444" stroke-width="0.7"/>
<text x="119.50" y="171.10" font-size="5.4" font-family="Liberation Sans" text-anchor="middle" fill="#333">Ig3</text>
<rect x="141.60" y="166.00" width="35.40" height="6.00" fill="#fff" stroke="#444" stroke-width="0.7"/>
<text x="156.00" y="171.10" font-size="5.4" font-family="Liberation Sans" text-anchor="middle" fill="#333">Ig4</text>
<rect x="166.40" y="166.30" width="5.90" height="5.40" fill="#cfcfcf" stroke="#777" stroke-width="0.5"/>
<rect x="181.80" y="166.00" width="15.40" height="6.00" fill="#555" stroke="#444" stroke-width="0.7"/>
<text x="189.50" y="171.10" font-size="5.4" font-family="Liberation Sans" text-anchor="middle" fill="#bbb">TM</text>
<rect x="200.80" y="166.00" width="34.90" height="6.00" fill="#fff" stroke="#444" stroke-width="0.7"/>
<text x="218.25" y="171.10" font-size="5.4" font-family="Liberation Sans" text-anchor="middle" fill="#333">Cyto-Tail</text>
<line x1="56.00" y1="169.00" x2="60.00" y2="169.00" stroke="#444" stroke-width="0.7"/>
<line x1="96.30" y1="169.00" x2="101.20" y2="169.00" stroke="#444" stroke-width="0.7"/>
<line x1="137.80" y1="169.00" x2="141.60" y2="169.00" stroke="#444" stroke-width="0.7"/>
<line x1="177.00" y1="169.00" x2="181.80" y2="169.00" stroke="#444" stroke-width="0.7"/>
<line x1="197.20" y1="169.00" x2="200.80" y2="169.00" stroke="#444" stroke-width="0.7"/>
<line x1="38.60" y1="179.00" x2="46.30" y2="172.00" stroke="#555" stroke-width="0.6"/>
<line x1="52.50" y1="172.00" x2="75.50" y2="178.30" stroke="#555" stroke-width="0.6"/>
<text x="38.20" y="182.00" font-size="5.0" font-family="Liberation Sans" text-anchor="end" fill="#333">92</text>
<text x="75.30" y="181.20" font-size="5.0" font-family="Liberation Sans" text-anchor="start" fill="#333">100</text>
<circle cx="49.9" cy="180.7" r="1.2" fill="#111"/>
<circle cx="54.1" cy="180.7" r="1.2" fill="#111"/>
<circle cx="58.3" cy="180.7" r="1.2" fill="#111"/>
<text x="35.40" y="188.50" font-size="6.5" font-family="Liberation Sans" font-weight="bold" text-anchor="end" fill="#1a1a1a" textLength="8.2" lengthAdjust="spacingAndGlyphs">WT</text>
<text x="40.50" y="188.50" font-size="6.5" font-family="Liberation Sans" font-weight="bold" text-anchor="start" fill="#1a1a1a" textLength="35.3" lengthAdjust="spacingAndGlyphs">HTGRYGCQY</text>
<text x="35.70" y="195.20" font-size="6.5" font-family="Liberation Sans" font-weight="bold" text-anchor="end" fill="#1a1a1a" textLength="21" lengthAdjust="spacingAndGlyphs">Mut-8aa</text>
<text x="40.50" y="195.20" font-size="6.5" font-family="Liberation Sans" font-weight="bold" text-anchor="start" fill="#1a1a1a" textLength="35.3" lengthAdjust="spacingAndGlyphs">SADEARCRG</text>
<line x1="155.00" y1="179.00" x2="166.40" y2="172.00" stroke="#555" stroke-width="0.6"/>
<line x1="172.30" y1="172.00" x2="185.00" y2="179.00" stroke="#555" stroke-width="0.6"/>
<text x="154.50" y="182.10" font-size="5.0" font-family="Liberation Sans" text-anchor="end" fill="#333">390</text>
<text x="185.30" y="182.10" font-size="5.0" font-family="Liberation Sans" text-anchor="start" fill="#333">396</text>
<circle cx="166" cy="180.2" r="1.1" fill="#111"/>
<circle cx="173.3" cy="180.2" r="1.1" fill="#111"/>
<text x="169.00" y="188.80" font-size="6.8" font-family="Liberation Sans" font-weight="bold" text-anchor="middle" fill="#1a1a1a" textLength="24.6" lengthAdjust="spacingAndGlyphs">HAGTYRC</text>
<text x="245.60" y="158.80" font-size="10" font-family="Liberation Sans" font-weight="bold" text-anchor="start" fill="#111" stroke="#111" stroke-width="0.45">D</text>
<line x1="266.50" y1="164.00" x2="266.50" y2="223.50" stroke="#777" stroke-width="1"/>
<path d="M264.90 165.50 L266.50 161.50 L268.10 165.50 Z" fill="#444"/>
<line x1="266.00" y1="223.50" x2="368.00" y2="223.50" stroke="#444" stroke-width="1"/>
<path d="M367.50 221.90 L372.50 223.50 L367.50 225.10 Z" fill="#222"/>
<text x="264.20" y="193.50" font-size="7.6" font-family="Liberation Sans" font-weight="bold" text-anchor="middle" fill="#111" stroke="#111" stroke-width="0.22" transform="rotate(-90 264.20 193.50)">Angptl2-FLAG</text>
<text x="324.50" y="230.30" font-size="8" font-family="Liberation Sans" font-weight="bold" text-anchor="middle" fill="#111" stroke="#111" stroke-width="0.22">GFP</text>
<text x="298.50" y="168.00" font-size="6.5" font-family="Liberation Sans" font-weight="bold" text-anchor="middle" fill="#111" stroke="#111" stroke-width="0.22">Ig1+2</text>
<text x="352.00" y="168.00" font-size="6.5" font-family="Liberation Sans" font-weight="bold" text-anchor="middle" fill="#111" stroke="#111" stroke-width="0.22">Ig1+2-mut-8aa</text>
<text x="268.00" y="178.00" font-size="6.5" font-family="Liberation Sans" font-style="italic" text-anchor="start" fill="#222">MFI:3.09</text>
<text x="318.50" y="178.00" font-size="6.5" font-family="Liberation Sans" font-style="italic" text-anchor="end" fill="#222">9.33</text>
<text x="333.50" y="178.00" font-size="6.5" font-family="Liberation Sans" font-style="italic" text-anchor="start" fill="#222">3.37</text>
<text x="371.50" y="178.00" font-size="6.5" font-family="Liberation Sans" font-style="italic" text-anchor="end" fill="#222">4.81</text>
<g clip-path="url(#c8)">
<rect x="282.20" y="201.20" width="35.50" height="20.00" fill="#bcc0f3" opacity="0.8" filter="url(#b25)"/>
<rect x="283.20" y="209.70" width="34.50" height="10.50" fill="#4a6ae2" opacity="0.82" filter="url(#b18)"/>
<ellipse cx="301.38" cy="214.20" rx="11.55" ry="2.60" fill="#2a9ad6" opacity="0.65" filter="url(#b12)"/>
<ellipse cx="288.80" cy="215.20" rx="6.38" ry="5.94" fill="#3a7ee0" opacity="0.8" filter="url(#b12)"/>
<ellipse cx="288.80" cy="215.20" rx="4.40" ry="4.18" fill="#2cc070" opacity="1" filter="url(#b08)"/>
<ellipse cx="288.80" cy="215.20" rx="2.90" ry="2.73" fill="#9ad83c" opacity="1" filter="url(#b05)"/>
<ellipse cx="288.80" cy="215.20" rx="1.85" ry="1.76" fill="#f0e030" opacity="1" filter="url(#b05)"/>
<rect x="285.3" y="211.8" width="0.8" height="0.8" fill="#4a6ae4" opacity="0.55"/><rect x="285.6" y="210.9" width="0.8" height="0.8" fill="#4a6ae4" opacity="0.55"/><rect x="295.8" y="216.0" width="0.8" height="0.8" fill="#6a80ea" opacity="0.55"/><rect x="313.7" y="208.4" width="0.8" height="0.8" fill="#3f5fe0" opacity="0.55"/><rect x="282.4" y="213.5" width="0.8" height="0.8" fill="#8a8ff0" opacity="0.55"/><rect x="286.4" y="218.3" width="0.8" height="0.8" fill="#4a6ae4" opacity="0.55"/><rect x="284.1" y="204.2" width="0.8" height="0.8" fill="#4a6ae4" opacity="0.55"/><rect x="291.8" y="213.2" width="0.8" height="0.8" fill="#8a8ff0" opacity="0.55"/><rect x="298.5" y="212.2" width="0.8" height="0.8" fill="#3f5fe0" opacity="0.55"/><rect x="317.5" y="209.6" width="0.8" height="0.8" fill="#3f5fe0" opacity="0.55"/><rect x="302.4" y="206.0" width="0.8" height="0.8" fill="#6a80ea" opacity="0.55"/><rect x="285.4" y="215.4" width="0.8" height="0.8" fill="#3f5fe0" opacity="0.55"/><rect x="288.1" y="203.2" width="0.8" height="0.8" fill="#4a6ae4" opacity="0.55"/><rect x="295.2" y="214.2" width="0.8" height="0.8" fill="#3f5fe0" opacity="0.55"/><rect x="303.2" y="200.1" width="0.8" height="0.8" fill="#4a6ae4" opacity="0.55"/><rect x="292.3" y="210.0" width="0.8" height="0.8" fill="#8a8ff0" opacity="0.55"/><rect x="289.6" y="208.1" width="0.8" height="0.8" fill="#3f5fe0" opacity="0.55"/><rect x="315.6" y="204.3" width="0.8" height="0.8" fill="#b4a8ec" opacity="0.55"/><rect x="310.8" y="212.3" width="0.8" height="0.8" fill="#3f5fe0" opacity="0.55"/><rect x="287.1" y="215.5" width="0.8" height="0.8" fill="#8a8ff0" opacity="0.55"/><rect x="310.1" y="196.9" width="0.8" height="0.8" fill="#b4a8ec" opacity="0.55"/><rect x="300.1" y="207.7" width="0.8" height="0.8" fill="#3f5fe0" opacity="0.55"/><rect x="296.9" y="198.1" width="0.8" height="0.8" fill="#6a80ea" opacity="0.55"/><rect x="285.1" y="211.9" width="0.8" height="0.8" fill="#b4a8ec" opacity="0.55"/><rect x="292.3" y="210.7" width="0.8" height="0.8" fill="#6a80ea" opacity="0.55"/><rect x="305.0" y="202.6" width="0.8" height="0.8" fill="#b4a8ec" opacity="0.55"/><rect x="299.2" y="206.8" width="0.8" height="0.8" fill="#b4a8ec" opacity="0.55"/><rect x="296.2" y="216.7" width="0.8" height="0.8" fill="#4a6ae4" opacity="0.55"/><rect x="286.6" y="210.9" width="0.8" height="0.8" fill="#4a6ae4" opacity="0.55"/><rect x="313.9" y="212.1" width="0.8" height="0.8" fill="#4a6ae4" opacity="0.55"/><rect x="285.5" y="213.9" width="0.8" height="0.8" fill="#b4a8ec" opacity="0.55"/><rect x="297.6" y="208.5" width="0.8" height="0.8" fill="#6a80ea" opacity="0.55"/><rect x="309.9" y="204.5" width="0.8" height="0.8" fill="#3f5fe0" opacity="0.55"/><rect x="305.2" y="201.1" width="0.8" height="0.8" fill="#b4a8ec" opacity="0.55"/><rect x="283.6" y="209.4" width="0.8" height="0.8" fill="#8a8ff0" opacity="0.55"/><rect x="312.7" y="215.6" width="0.8" height="0.8" fill="#8a8ff0" opacity="0.55"/><rect x="316.4" y="216.3" width="0.8" height="0.8" fill="#4a6ae4" opacity="0.55"/><rect x="301.9" y="218.3" width="0.8" height="0.8" fill="#6a80ea" opacity="0.55"/><rect x="291.2" y="213.8" width="0.8" height="0.8" fill="#6a80ea" opacity="0.55"/><rect x="308.4" y="210.8" width="0.8" height="0.8" fill="#6a80ea" opacity="0.55"/><rect x="290.4" y="213.6" width="0.8" height="0.8" fill="#3f5fe0" opacity="0.55"/><rect x="290.4" y="216.4" width="0.8" height="0.8" fill="#b4a8ec" opacity="0.55"/><rect x="312.1" y="198.4" width="0.8" height="0.8" fill="#4a6ae4" opacity="0.55"/><rect x="282.4" y="212.6" width="0.8" height="0.8" fill="#4a6ae4" opacity="0.55"/><rect x="290.9" y="216.0" width="0.8" height="0.8" fill="#4a6ae4" opacity="0.55"/><rect x="310.2" y="206.9" width="0.8" height="0.8" fill="#4a6ae4" opacity="0.55"/><rect x="284.7" y="203.4" width="0.8" height="0.8" fill="#3f5fe0" opacity="0.55"/><rect x="297.5" y="204.6" width="0.8" height="0.8" fill="#4a6ae4" opacity="0.55"/><rect x="312.2" y="212.8" width="0.8" height="0.8" fill="#6a80ea" opacity="0.55"/><rect x="307.2" y="216.2" width="0.8" height="0.8" fill="#3f5fe0" opacity="0.55"/><rect x="286.9" y="213.9" width="0.8" height="0.8" fill="#3f5fe0" opacity="0.55"/><rect x="301.7" y="202.5" width="0.8" height="0.8" fill="#3f5fe0" opacity="0.55"/><rect x="310.7" y="218.1" width="0.8" height="0.8" fill="#4a6ae4" opacity="0.55"/><rect x="293.1" y="217.7" width="0.8" height="0.8" fill="#3f5fe0" opacity="0.55"/><rect x="301.5" y="211.9" width="0.8" height="0.8" fill="#4a6ae4" opacity="0.55"/><rect x="284.3" y="207.8" width="0.8" height="0.8" fill="#3f5fe0" opacity="0.55"/><rect x="313.4" y="201.8" width="0.8" height="0.8" fill="#3f5fe0" opacity="0.55"/><rect x="283.4" y="209.7" width="0.8" height="0.8" fill="#4a6ae4" opacity="0.55"/><rect x="315.5" y="212.4" width="0.8" height="0.8" fill="#3f5fe0" opacity="0.55"/><rect x="299.8" y="202.8" width="0.8" height="0.8" fill="#4a6ae4" opacity="0.55"/><rect x="293.9" y="215.6" width="0.8" height="0.8" fill="#4a6ae4" opacity="0.55"/><rect x="282.6" y="216.5" width="0.8" height="0.8" fill="#b4a8ec" opacity="0.55"/><rect x="303.1" y="206.1" width="0.8" height="0.8" fill="#6a80ea" opacity="0.55"/><rect x="312.6" y="216.3" width="0.8" height="0.8" fill="#4a6ae4" opacity="0.55"/><rect x="305.0" y="218.2" width="0.8" height="0.8" fill="#3f5fe0" opacity="0.55"/><rect x="315.8" y="208.1" width="0.8" height="0.8" fill="#b4a8ec" opacity="0.55"/><rect x="295.3" y="217.1" width="0.8" height="0.8" fill="#b4a8ec" opacity="0.55"/><rect x="290.7" y="215.2" width="0.8" height="0.8" fill="#4a6ae4" opacity="0.55"/><rect x="315.9" y="212.7" width="0.8" height="0.8" fill="#b4a8ec" opacity="0.55"/><rect x="314.6" y="218.6" width="0.8" height="0.8" fill="#4a6ae4" opacity="0.55"/><rect x="308.1" y="206.7" width="0.8" height="0.8" fill="#4a6ae4" opacity="0.55"/><rect x="301.8" y="216.6" width="0.8" height="0.8" fill="#3f5fe0" opacity="0.55"/><rect x="292.4" y="213.5" width="0.8" height="0.8" fill="#8a8ff0" opacity="0.55"/><rect x="300.2" y="207.0" width="0.8" height="0.8" fill="#4a6ae4" opacity="0.55"/><rect x="285.1" y="207.7" width="0.8" height="0.8" fill="#3f5fe0" opacity="0.55"/><rect x="312.0" y="203.1" width="0.8" height="0.8" fill="#4a6ae4" opacity="0.55"/><rect x="308.7" y="209.0" width="0.8" height="0.8" fill="#3f5fe0" opacity="0.55"/><rect x="299.3" y="210.5" width="0.8" height="0.8" fill="#6a80ea" opacity="0.55"/><rect x="305.7" y="214.6" width="0.8" height="0.8" fill="#6a80ea" opacity="0.55"/><rect x="308.2" y="207.5" width="0.8" height="0.8" fill="#b4a8ec" opacity="0.55"/><rect x="317.5" y="218.6" width="0.8" height="0.8" fill="#8a8ff0" opacity="0.55"/><rect x="309.7" y="216.4" width="0.8" height="0.8" fill="#b4a8ec" opacity="0.55"/><rect x="294.8" y="216.6" width="0.8" height="0.8" fill="#b4a8ec" opacity="0.55"/><rect x="309.0" y="215.8" width="0.8" height="0.8" fill="#6a80ea" opacity="0.55"/><rect x="296.7" y="217.9" width="0.8" height="0.8" fill="#3f5fe0" opacity="0.55"/><rect x="300.8" y="208.8" width="0.8" height="0.8" fill="#3f5fe0" opacity="0.55"/><rect x="311.8" y="211.7" width="0.8" height="0.8" fill="#8a8ff0" opacity="0.55"/><rect x="316.2" y="212.4" width="0.8" height="0.8" fill="#8a8ff0" opacity="0.55"/>
</g>
<rect x="280.20" y="181.00" width="38.50" height="38.20" fill="none" stroke="#8e8e9e" stroke-width="0.7"/>
<rect x="281.10" y="182.10" width="11.50" height="36.70" fill="none" stroke="#a4a4c0" stroke-width="0.6"/>
<rect x="297.60" y="182.10" width="19.90" height="36.70" fill="none" stroke="#a4a4c0" stroke-width="0.6"/>
<text x="286.85" y="201.20" font-size="3.2" font-family="Liberation Sans" font-weight="bold" text-anchor="middle" fill="#000" stroke="#000" stroke-width="0.12">44.77</text>
<text x="307.55" y="201.20" font-size="3.2" font-family="Liberation Sans" font-weight="bold" text-anchor="middle" fill="#000" stroke="#000" stroke-width="0.12">44.85</text>
<g clip-path="url(#c9)">
<rect x="335.40" y="204.20" width="36.20" height="16.00" fill="#c6c9f4" opacity="0.75" filter="url(#b25)"/>
<ellipse cx="341.90" cy="210.20" rx="3.50" ry="7.00" fill="#a0a8f2" opacity="0.6" filter="url(#b18)"/>
<rect x="336.40" y="212.00" width="34.20" height="8.50" fill="#3f64e0" opacity="0.88" filter="url(#b12)"/>
<ellipse cx="353.00" cy="215.40" rx="11.76" ry="2.20" fill="#22b8b4" opacity="0.85" filter="url(#b08)"/>
<ellipse cx="341.70" cy="214.90" rx="6.09" ry="5.67" fill="#3a7ee0" opacity="0.8" filter="url(#b12)"/>
<ellipse cx="341.70" cy="214.90" rx="4.20" ry="3.99" fill="#2cc070" opacity="1" filter="url(#b08)"/>
<ellipse cx="341.70" cy="214.90" rx="2.77" ry="2.60" fill="#9ad83c" opacity="1" filter="url(#b05)"/>
<ellipse cx="341.70" cy="214.90" rx="1.76" ry="1.68" fill="#f0e030" opacity="1" filter="url(#b05)"/>
<rect x="352.8" y="218.6" width="0.8" height="0.8" fill="#8a8ff0" opacity="0.55"/><rect x="357.3" y="213.2" width="0.8" height="0.8" fill="#3f5fe0" opacity="0.55"/><rect x="339.8" y="208.6" width="0.8" height="0.8" fill="#4a6ae4" opacity="0.55"/><rect x="355.3" y="209.0" width="0.8" height="0.8" fill="#3f5fe0" opacity="0.55"/><rect x="358.2" y="209.8" width="0.8" height="0.8" fill="#6a80ea" opacity="0.55"/><rect x="354.7" y="207.8" width="0.8" height="0.8" fill="#6a80ea" opacity="0.55"/><rect x="340.9" y="216.8" width="0.8" height="0.8" fill="#4a6ae4" opacity="0.55"/><rect x="357.7" y="208.2" width="0.8" height="0.8" fill="#b4a8ec" opacity="0.55"/><rect x="353.3" y="217.6" width="0.8" height="0.8" fill="#3f5fe0" opacity="0.55"/><rect x="350.7" y="217.0" width="0.8" height="0.8" fill="#8a8ff0" opacity="0.55"/><rect x="349.8" y="213.0" width="0.8" height="0.8" fill="#b4a8ec" opacity="0.55"/><rect x="348.9" y="202.6" width="0.8" height="0.8" fill="#b4a8ec" opacity="0.55"/><rect x="355.7" y="217.3" width="0.8" height="0.8" fill="#b4a8ec" opacity="0.55"/><rect x="339.7" y="216.0" width="0.8" height="0.8" fill="#b4a8ec" opacity="0.55"/><rect x="353.7" y="217.0" width="0.8" height="0.8" fill="#4a6ae4" opacity="0.55"/><rect x="365.4" y="210.0" width="0.8" height="0.8" fill="#b4a8ec" opacity="0.55"/><rect x="336.7" y="210.5" width="0.8" height="0.8" fill="#6a80ea" opacity="0.55"/><rect x="363.5" y="210.2" width="0.8" height="0.8" fill="#6a80ea" opacity="0.55"/><rect x="370.0" y="216.2" width="0.8" height="0.8" fill="#8a8ff0" opacity="0.55"/><rect x="354.8" y="215.1" width="0.8" height="0.8" fill="#3f5fe0" opacity="0.55"/><rect x="369.2" y="209.0" width="0.8" height="0.8" fill="#4a6ae4" opacity="0.55"/><rect x="364.5" y="215.1" width="0.8" height="0.8" fill="#6a80ea" opacity="0.55"/><rect x="355.1" y="205.7" width="0.8" height="0.8" fill="#4a6ae4" opacity="0.55"/><rect x="346.0" y="218.3" width="0.8" height="0.8" fill="#b4a8ec" opacity="0.55"/><rect x="349.4" y="207.7" width="0.8" height="0.8" fill="#8a8ff0" opacity="0.55"/><rect x="362.2" y="214.4" width="0.8" height="0.8" fill="#4a6ae4" opacity="0.55"/><rect x="353.3" y="217.7" width="0.8" height="0.8" fill="#8a8ff0" opacity="0.55"/><rect x="363.8" y="206.9" width="0.8" height="0.8" fill="#b4a8ec" opacity="0.55"/><rect x="345.4" y="212.6" width="0.8" height="0.8" fill="#4a6ae4" opacity="0.55"/><rect x="336.8" y="209.4" width="0.8" height="0.8" fill="#b4a8ec" opacity="0.55"/><rect x="348.1" y="217.2" width="0.8" height="0.8" fill="#6a80ea" opacity="0.55"/><rect x="364.0" y="215.0" width="0.8" height="0.8" fill="#b4a8ec" opacity="0.55"/><rect x="348.1" y="211.3" width="0.8" height="0.8" fill="#8a8ff0" opacity="0.55"/><rect x="347.2" y="216.0" width="0.8" height="0.8" fill="#4a6ae4" opacity="0.55"/><rect x="344.3" y="218.3" width="0.8" height="0.8" fill="#6a80ea" opacity="0.55"/><rect x="350.4" y="208.6" width="0.8" height="0.8" fill="#4a6ae4" opacity="0.55"/><rect x="355.5" y="216.0" width="0.8" height="0.8" fill="#8a8ff0" opacity="0.55"/><rect x="358.7" y="209.4" width="0.8" height="0.8" fill="#8a8ff0" opacity="0.55"/><rect x="341.8" y="217.4" width="0.8" height="0.8" fill="#b4a8ec" opacity="0.55"/><rect x="358.0" y="213.8" width="0.8" height="0.8" fill="#3f5fe0" opacity="0.55"/><rect x="357.1" y="211.0" width="0.8" height="0.8" fill="#4a6ae4" opacity="0.55"/><rect x="348.4" y="212.5" width="0.8" height="0.8" fill="#b4a8ec" opacity="0.55"/><rect x="352.0" y="217.4" width="0.8" height="0.8" fill="#3f5fe0" opacity="0.55"/><rect x="336.7" y="215.7" width="0.8" height="0.8" fill="#4a6ae4" opacity="0.55"/><rect x="352.8" y="215.0" width="0.8" height="0.8" fill="#b4a8ec" opacity="0.55"/><rect x="344.3" y="212.4" width="0.8" height="0.8" fill="#4a6ae4" opacity="0.55"/><rect x="369.5" y="216.5" width="0.8" height="0.8" fill="#4a6ae4" opacity="0.55"/><rect x="362.7" y="215.7" width="0.8" height="0.8" fill="#6a80ea" opacity="0.55"/><rect x="338.0" y="218.7" width="0.8" height="0.8" fill="#b4a8ec" opacity="0.55"/><rect x="360.6" y="198.6" width="0.8" height="0.8" fill="#8a8ff0" opacity="0.55"/><rect x="370.3" y="212.3" width="0.8" height="0.8" fill="#4a6ae4" opacity="0.55"/><rect x="336.8" y="215.6" width="0.8" height="0.8" fill="#6a80ea" opacity="0.55"/><rect x="367.0" y="216.4" width="0.8" height="0.8" fill="#4a6ae4" opacity="0.55"/><rect x="335.9" y="213.0" width="0.8" height="0.8" fill="#b4a8ec" opacity="0.55"/><rect x="360.6" y="212.4" width="0.8" height="0.8" fill="#4a6ae4" opacity="0.55"/><rect x="338.0" y="217.3" width="0.8" height="0.8" fill="#3f5fe0" opacity="0.55"/><rect x="355.2" y="209.2" width="0.8" height="0.8" fill="#3f5fe0" opacity="0.55"/><rect x="350.7" y="217.1" width="0.8" height="0.8" fill="#b4a8ec" opacity="0.55"/><rect x="345.5" y="214.5" width="0.8" height="0.8" fill="#6a80ea" opacity="0.55"/><rect x="362.0" y="216.5" width="0.8" height="0.8" fill="#4a6ae4" opacity="0.55"/><rect x="353.5" y="216.8" width="0.8" height="0.8" fill="#6a80ea" opacity="0.55"/><rect x="366.8" y="206.1" width="0.8" height="0.8" fill="#6a80ea" opacity="0.55"/><rect x="357.5" y="213.1" width="0.8" height="0.8" fill="#8a8ff0" opacity="0.55"/><rect x="365.3" y="213.5" width="0.8" height="0.8" fill="#4a6ae4" opacity="0.55"/><rect x="341.7" y="218.4" width="0.8" height="0.8" fill="#3f5fe0" opacity="0.55"/><rect x="342.5" y="216.9" width="0.8" height="0.8" fill="#8a8ff0" opacity="0.55"/><rect x="345.7" y="217.9" width="0.8" height="0.8" fill="#b4a8ec" opacity="0.55"/><rect x="367.3" y="212.2" width="0.8" height="0.8" fill="#8a8ff0" opacity="0.55"/><rect x="348.1" y="216.6" width="0.8" height="0.8" fill="#6a80ea" opacity="0.55"/><rect x="370.6" y="214.3" width="0.8" height="0.8" fill="#b4a8ec" opacity="0.55"/><rect x="344.1" y="215.2" width="0.8" height="0.8" fill="#6a80ea" opacity="0.55"/><rect x="369.0" y="214.1" width="0.8" height="0.8" fill="#6a80ea" opacity="0.55"/><rect x="364.6" y="207.0" width="0.8" height="0.8" fill="#b4a8ec" opacity="0.55"/><rect x="360.6" y="216.7" width="0.8" height="0.8" fill="#4a6ae4" opacity="0.55"/><rect x="365.0" y="214.8" width="0.8" height="0.8" fill="#4a6ae4" opacity="0.55"/><rect x="342.0" y="216.9" width="0.8" height="0.8" fill="#3f5fe0" opacity="0.55"/><rect x="349.8" y="203.3" width="0.8" height="0.8" fill="#b4a8ec" opacity="0.55"/><rect x="362.9" y="213.9" width="0.8" height="0.8" fill="#b4a8ec" opacity="0.55"/><rect x="341.8" y="210.9" width="0.8" height="0.8" fill="#b4a8ec" opacity="0.55"/><rect x="341.6" y="212.6" width="0.8" height="0.8" fill="#6a80ea" opacity="0.55"/><rect x="347.9" y="217.8" width="0.8" height="0.8" fill="#b4a8ec" opacity="0.55"/><rect x="361.0" y="212.3" width="0.8" height="0.8" fill="#6a80ea" opacity="0.55"/><rect x="363.3" y="216.2" width="0.8" height="0.8" fill="#3f5fe0" opacity="0.55"/><rect x="345.7" y="210.2" width="0.8" height="0.8" fill="#3f5fe0" opacity="0.55"/><rect x="359.9" y="206.0" width="0.8" height="0.8" fill="#4a6ae4" opacity="0.55"/><rect x="355.4" y="216.0" width="0.8" height="0.8" fill="#3f5fe0" opacity="0.55"/><rect x="364.4" y="215.6" width="0.8" height="0.8" fill="#6a80ea" opacity="0.55"/>
</g>
<rect x="333.40" y="181.00" width="39.20" height="38.20" fill="none" stroke="#8e8e9e" stroke-width="0.7"/>
<rect x="334.30" y="182.10" width="12.20" height="36.70" fill="none" stroke="#a4a4c0" stroke-width="0.6"/>
<rect x="351.00" y="182.10" width="20.40" height="36.70" fill="none" stroke="#a4a4c0" stroke-width="0.6"/>
<text x="340.40" y="201.20" font-size="3.2" font-family="Liberation Sans" font-weight="bold" text-anchor="middle" fill="#000" stroke="#000" stroke-width="0.12">67.78</text>
<text x="361.20" y="201.20" font-size="3.2" font-family="Liberation Sans" font-weight="bold" text-anchor="middle" fill="#000" stroke="#000" stroke-width="0.12">26.01</text>
<text x="2.00" y="231.20" font-size="10" font-family="Liberation Sans" font-weight="bold" text-anchor="start" fill="#111" stroke="#111" stroke-width="0.45">E</text>
<line x1="47.50" y1="228.50" x2="47.50" y2="335.50" stroke="#222" stroke-width="1"/>
<line x1="47.00" y1="335.50" x2="232.70" y2="335.50" stroke="#222" stroke-width="1"/>
<line x1="45.50" y1="335.50" x2="47.50" y2="335.50" stroke="#222" stroke-width="0.8"/>
<text x="45.20" y="337.30" font-size="5" font-family="Liberation Sans" font-weight="bold" text-anchor="end" fill="#111" stroke="#111" stroke-width="0.22">0.0</text>
<line x1="45.50" y1="322.10" x2="47.50" y2="322.10" stroke="#222" stroke-width="0.8"/>
<text x="45.20" y="323.90" font-size="5" font-family="Liberation Sans" font-weight="bold" text-anchor="end" fill="#111" stroke="#111" stroke-width="0.22">0.2</text>
<line x1="45.50" y1="308.70" x2="47.50" y2="308.70" stroke="#222" stroke-width="0.8"/>
<text x="45.20" y="310.50" font-size="5" font-family="Liberation Sans" font-weight="bold" text-anchor="end" fill="#111" stroke="#111" stroke-width="0.22">0.4</text>
<line x1="45.50" y1="295.30" x2="47.50" y2="295.30" stroke="#222" stroke-width="0.8"/>
<text x="45.20" y="297.10" font-size="5" font-family="Liberation Sans" font-weight="bold" text-anchor="end" fill="#111" stroke="#111" stroke-width="0.22">0.6</text>
<line x1="45.50" y1="281.90" x2="47.50" y2="281.90" stroke="#222" stroke-width="0.8"/>
<text x="45.20" y="283.70" font-size="5" font-family="Liberation Sans" font-weight="bold" text-anchor="end" fill="#111" stroke="#111" stroke-width="0.22">0.8</text>
<line x1="45.50" y1="268.50" x2="47.50" y2="268.50" stroke="#222" stroke-width="0.8"/>
<text x="45.20" y="270.30" font-size="5" font-family="Liberation Sans" font-weight="bold" text-anchor="end" fill="#111" stroke="#111" stroke-width="0.22">1.0</text>
<line x1="45.50" y1="255.10" x2="47.50" y2="255.10" stroke="#222" stroke-width="0.8"/>
<text x="45.20" y="256.90" font-size="5" font-family="Liberation Sans" font-weight="bold" text-anchor="end" fill="#111" stroke="#111" stroke-width="0.22">1.2</text>
<line x1="45.50" y1="241.70" x2="47.50" y2="241.70" stroke="#222" stroke-width="0.8"/>
<text x="45.20" y="243.50" font-size="5" font-family="Liberation Sans" font-weight="bold" text-anchor="end" fill="#111" stroke="#111" stroke-width="0.22">1.4</text>
<line x1="45.50" y1="228.30" x2="47.50" y2="228.30" stroke="#222" stroke-width="0.8"/>
<text x="45.20" y="230.10" font-size="5" font-family="Liberation Sans" font-weight="bold" text-anchor="end" fill="#111" stroke="#111" stroke-width="0.22">1.6</text>
<line x1="51.50" y1="335.50" x2="51.50" y2="337.30" stroke="#222" stroke-width="0.7"/>
<text x="53.80" y="340.30" font-size="5.3" font-family="Liberation Sans" font-weight="bold" text-anchor="end" fill="#111" stroke="#111" stroke-width="0.22" transform="rotate(-90 53.80 340.30)">Empty</text>
<line x1="59.55" y1="335.50" x2="59.55" y2="337.30" stroke="#222" stroke-width="0.7"/>
<line x1="59.55" y1="268.50" x2="59.55" y2="265.82" stroke="#222" stroke-width="0.8"/>
<line x1="58.05" y1="265.82" x2="61.05" y2="265.82" stroke="#222" stroke-width="0.8"/>
<rect x="56.55" y="268.50" width="6.00" height="67.00" fill="url(#pChk)" stroke="#222" stroke-width="0.6"/>
<text x="61.85" y="340.30" font-size="5.3" font-family="Liberation Sans" font-weight="bold" text-anchor="end" fill="#111" stroke="#111" stroke-width="0.22" transform="rotate(-90 61.85 340.30)">wt-FL</text>
<line x1="67.60" y1="335.50" x2="67.60" y2="337.30" stroke="#222" stroke-width="0.7"/>
<line x1="67.60" y1="291.95" x2="67.60" y2="291.28" stroke="#222" stroke-width="0.8"/>
<line x1="66.10" y1="291.28" x2="69.10" y2="291.28" stroke="#222" stroke-width="0.8"/>
<rect x="64.60" y="291.95" width="6.00" height="43.55" fill="url(#pChk)" stroke="#222" stroke-width="0.6"/>
<text x="69.90" y="340.30" font-size="5.3" font-family="Liberation Sans" font-weight="bold" text-anchor="end" fill="#111" stroke="#111" stroke-width="0.22" transform="rotate(-90 69.90 340.30)">Mut-8aa-FL</text>
<line x1="75.65" y1="335.50" x2="75.65" y2="337.30" stroke="#222" stroke-width="0.7"/>
<line x1="83.70" y1="335.50" x2="83.70" y2="337.30" stroke="#222" stroke-width="0.7"/>
<line x1="83.70" y1="310.71" x2="83.70" y2="309.37" stroke="#222" stroke-width="0.8"/>
<line x1="82.20" y1="309.37" x2="85.20" y2="309.37" stroke="#222" stroke-width="0.8"/>
<rect x="80.70" y="310.71" width="6.00" height="24.79" fill="url(#pChk)" stroke="#222" stroke-width="0.6"/>
<text x="86.00" y="340.30" font-size="5.3" font-family="Liberation Sans" font-weight="bold" text-anchor="end" fill="#111" stroke="#111" stroke-width="0.22" transform="rotate(-90 86.00 340.30)">Ig1+2</text>
<line x1="91.75" y1="335.50" x2="91.75" y2="337.30" stroke="#222" stroke-width="0.7"/>
<path d="M89.75 335.5 L91.75 334.0 L93.75 335.5 Z" fill="#222"/>
<text x="94.05" y="340.30" font-size="5.3" font-family="Liberation Sans" font-weight="bold" text-anchor="end" fill="#111" stroke="#111" stroke-width="0.22" transform="rotate(-90 94.05 340.30)">Ig1+2Mut-8aa</text>
<line x1="99.80" y1="335.50" x2="99.80" y2="337.30" stroke="#222" stroke-width="0.7"/>
<line x1="107.85" y1="335.50" x2="107.85" y2="337.30" stroke="#222" stroke-width="0.7"/>
<line x1="107.85" y1="267.83" x2="107.85" y2="266.49" stroke="#222" stroke-width="0.8"/>
<line x1="106.35" y1="266.49" x2="109.35" y2="266.49" stroke="#222" stroke-width="0.8"/>
<rect x="104.85" y="267.83" width="6.00" height="67.67" fill="url(#pChk)" stroke="#222" stroke-width="0.6"/>
<text x="110.15" y="340.30" font-size="5.3" font-family="Liberation Sans" font-weight="bold" text-anchor="end" fill="#111" stroke="#111" stroke-width="0.22" transform="rotate(-90 110.15 340.30)">H92S</text>
<line x1="115.90" y1="335.50" x2="115.90" y2="337.30" stroke="#222" stroke-width="0.7"/>
<line x1="115.90" y1="237.68" x2="115.90" y2="233.66" stroke="#222" stroke-width="0.8"/>
<line x1="114.40" y1="233.66" x2="117.40" y2="233.66" stroke="#222" stroke-width="0.8"/>
<rect x="112.90" y="237.68" width="6.00" height="97.82" fill="url(#pChk)" stroke="#222" stroke-width="0.6"/>
<text x="118.20" y="340.30" font-size="5.3" font-family="Liberation Sans" font-weight="bold" text-anchor="end" fill="#111" stroke="#111" stroke-width="0.22" transform="rotate(-90 118.20 340.30)">T93A</text>
<line x1="123.95" y1="335.50" x2="123.95" y2="337.30" stroke="#222" stroke-width="0.7"/>
<line x1="123.95" y1="291.28" x2="123.95" y2="287.93" stroke="#222" stroke-width="0.8"/>
<line x1="122.45" y1="287.93" x2="125.45" y2="287.93" stroke="#222" stroke-width="0.8"/>
<rect x="120.95" y="291.28" width="6.00" height="44.22" fill="url(#pChk)" stroke="#222" stroke-width="0.6"/>
<text x="126.25" y="340.30" font-size="5.3" font-family="Liberation Sans" font-weight="bold" text-anchor="end" fill="#111" stroke="#111" stroke-width="0.22" transform="rotate(-90 126.25 340.30)">G94D</text>
<line x1="132.00" y1="335.50" x2="132.00" y2="337.30" stroke="#222" stroke-width="0.7"/>
<line x1="132.00" y1="298.65" x2="132.00" y2="297.98" stroke="#222" stroke-width="0.8"/>
<line x1="130.50" y1="297.98" x2="133.50" y2="297.98" stroke="#222" stroke-width="0.8"/>
<rect x="129.00" y="298.65" width="6.00" height="36.85" fill="url(#pChk)" stroke="#222" stroke-width="0.6"/>
<text x="134.30" y="340.30" font-size="5.3" font-family="Liberation Sans" font-weight="bold" text-anchor="end" fill="#111" stroke="#111" stroke-width="0.22" transform="rotate(-90 134.30 340.30)">R95E</text>
<line x1="140.05" y1="335.50" x2="140.05" y2="337.30" stroke="#222" stroke-width="0.7"/>
<line x1="140.05" y1="299.99" x2="140.05" y2="299.32" stroke="#222" stroke-width="0.8"/>
<line x1="138.55" y1="299.32" x2="141.55" y2="299.32" stroke="#222" stroke-width="0.8"/>
<rect x="137.05" y="299.99" width="6.00" height="35.51" fill="url(#pChk)" stroke="#222" stroke-width="0.6"/>
<text x="142.35" y="340.30" font-size="5.3" font-family="Liberation Sans" font-weight="bold" text-anchor="end" fill="#111" stroke="#111" stroke-width="0.22" transform="rotate(-90 142.35 340.30)">Y96A</text>
<line x1="148.10" y1="335.50" x2="148.10" y2="337.30" stroke="#222" stroke-width="0.7"/>
<line x1="148.10" y1="265.82" x2="148.10" y2="263.81" stroke="#222" stroke-width="0.8"/>
<line x1="146.60" y1="263.81" x2="149.60" y2="263.81" stroke="#222" stroke-width="0.8"/>
<rect x="145.10" y="265.82" width="6.00" height="69.68" fill="url(#pChk)" stroke="#222" stroke-width="0.6"/>
<text x="150.40" y="340.30" font-size="5.3" font-family="Liberation Sans" font-weight="bold" text-anchor="end" fill="#111" stroke="#111" stroke-width="0.22" transform="rotate(-90 150.40 340.30)">G97R</text>
<line x1="156.15" y1="335.50" x2="156.15" y2="337.30" stroke="#222" stroke-width="0.7"/>
<line x1="156.15" y1="261.13" x2="156.15" y2="254.43" stroke="#222" stroke-width="0.8"/>
<line x1="154.65" y1="254.43" x2="157.65" y2="254.43" stroke="#222" stroke-width="0.8"/>
<rect x="153.15" y="261.13" width="6.00" height="74.37" fill="url(#pChk)" stroke="#222" stroke-width="0.6"/>
<text x="158.45" y="340.30" font-size="5.3" font-family="Liberation Sans" font-weight="bold" text-anchor="end" fill="#111" stroke="#111" stroke-width="0.22" transform="rotate(-90 158.45 340.30)">Q99R</text>
<line x1="164.20" y1="335.50" x2="164.20" y2="337.30" stroke="#222" stroke-width="0.7"/>
<line x1="164.20" y1="277.88" x2="164.20" y2="277.21" stroke="#222" stroke-width="0.8"/>
<line x1="162.70" y1="277.21" x2="165.70" y2="277.21" stroke="#222" stroke-width="0.8"/>
<rect x="161.20" y="277.88" width="6.00" height="57.62" fill="url(#pChk)" stroke="#222" stroke-width="0.6"/>
<text x="166.50" y="340.30" font-size="5.3" font-family="Liberation Sans" font-weight="bold" text-anchor="end" fill="#111" stroke="#111" stroke-width="0.22" transform="rotate(-90 166.50 340.30)">Y100G</text>
<line x1="172.25" y1="335.50" x2="172.25" y2="337.30" stroke="#222" stroke-width="0.7"/>
<line x1="180.30" y1="335.50" x2="180.30" y2="337.30" stroke="#222" stroke-width="0.7"/>
<line x1="180.30" y1="263.14" x2="180.30" y2="258.45" stroke="#222" stroke-width="0.8"/>
<line x1="178.80" y1="258.45" x2="181.80" y2="258.45" stroke="#222" stroke-width="0.8"/>
<rect x="177.30" y="263.14" width="6.00" height="72.36" fill="url(#pChk)" stroke="#222" stroke-width="0.6"/>
<text x="182.60" y="340.30" font-size="5.3" font-family="Liberation Sans" font-weight="bold" text-anchor="end" fill="#111" stroke="#111" stroke-width="0.22" transform="rotate(-90 182.60 340.30)">G392D</text>
<line x1="188.35" y1="335.50" x2="188.35" y2="337.30" stroke="#222" stroke-width="0.7"/>
<line x1="188.35" y1="266.49" x2="188.35" y2="263.81" stroke="#222" stroke-width="0.8"/>
<line x1="186.85" y1="263.81" x2="189.85" y2="263.81" stroke="#222" stroke-width="0.8"/>
<rect x="185.35" y="266.49" width="6.00" height="69.01" fill="url(#pChk)" stroke="#222" stroke-width="0.6"/>
<text x="190.65" y="340.30" font-size="5.3" font-family="Liberation Sans" font-weight="bold" text-anchor="end" fill="#111" stroke="#111" stroke-width="0.22" transform="rotate(-90 190.65 340.30)">T393E</text>
<line x1="196.40" y1="335.50" x2="196.40" y2="337.30" stroke="#222" stroke-width="0.7"/>
<line x1="196.40" y1="293.96" x2="196.40" y2="292.62" stroke="#222" stroke-width="0.8"/>
<line x1="194.90" y1="292.62" x2="197.90" y2="292.62" stroke="#222" stroke-width="0.8"/>
<rect x="193.40" y="293.96" width="6.00" height="41.54" fill="url(#pChk)" stroke="#222" stroke-width="0.6"/>
<text x="198.70" y="340.30" font-size="5.3" font-family="Liberation Sans" font-weight="bold" text-anchor="end" fill="#111" stroke="#111" stroke-width="0.22" transform="rotate(-90 198.70 340.30)">Y394A</text>
<line x1="204.45" y1="335.50" x2="204.45" y2="337.30" stroke="#222" stroke-width="0.7"/>
<line x1="212.50" y1="335.50" x2="212.50" y2="337.30" stroke="#222" stroke-width="0.7"/>
<text x="214.80" y="340.30" font-size="5.3" font-family="Liberation Sans" font-weight="bold" text-anchor="end" fill="#111" stroke="#111" stroke-width="0.22" transform="rotate(-90 214.80 340.30)">Y96A/G392D</text>
<line x1="220.55" y1="335.50" x2="220.55" y2="337.30" stroke="#222" stroke-width="0.7"/>
<line x1="220.55" y1="283.24" x2="220.55" y2="281.23" stroke="#222" stroke-width="0.8"/>
<line x1="219.05" y1="281.23" x2="222.05" y2="281.23" stroke="#222" stroke-width="0.8"/>
<rect x="217.55" y="283.24" width="6.00" height="52.26" fill="url(#pChk)" stroke="#222" stroke-width="0.6"/>
<text x="222.85" y="340.30" font-size="5.3" font-family="Liberation Sans" font-weight="bold" text-anchor="end" fill="#111" stroke="#111" stroke-width="0.22" transform="rotate(-90 222.85 340.30)">Y96A/T393E</text>
<line x1="228.60" y1="335.50" x2="228.60" y2="337.30" stroke="#222" stroke-width="0.7"/>
<line x1="228.60" y1="331.48" x2="228.60" y2="331.15" stroke="#222" stroke-width="0.8"/>
<line x1="227.10" y1="331.15" x2="230.10" y2="331.15" stroke="#222" stroke-width="0.8"/>
<rect x="225.60" y="331.48" width="6.00" height="4.02" fill="url(#pChk)" stroke="#222" stroke-width="0.6"/>
<text x="230.90" y="340.30" font-size="5.3" font-family="Liberation Sans" font-weight="bold" text-anchor="end" fill="#111" stroke="#111" stroke-width="0.22" transform="rotate(-90 230.90 340.30)">Y96A/Y394A</text>
<line x1="80.60" y1="231.50" x2="100.60" y2="231.50" stroke="#444" stroke-width="0.8"/>
<line x1="80.60" y1="231.50" x2="80.60" y2="233.30" stroke="#444" stroke-width="0.8"/>
<line x1="100.60" y1="231.50" x2="100.60" y2="233.30" stroke="#444" stroke-width="0.8"/>
<text x="90.80" y="239.30" font-size="7.6" font-family="Liberation Sans" font-weight="bold" text-anchor="middle" fill="#111" stroke="#111" stroke-width="0.22">Ig1+2</text>
<line x1="104.30" y1="231.30" x2="230.60" y2="231.30" stroke="#444" stroke-width="0.8"/>
<line x1="104.30" y1="231.30" x2="104.30" y2="233.20" stroke="#444" stroke-width="0.8"/>
<line x1="230.60" y1="231.30" x2="230.60" y2="233.20" stroke="#444" stroke-width="0.8"/>
<text x="170.50" y="239.30" font-size="7.6" font-family="Liberation Sans" font-weight="bold" text-anchor="middle" fill="#111" stroke="#111" stroke-width="0.22">Full-length</text>
<text x="25.90" y="287.00" font-size="7.1" font-family="Liberation Sans" font-weight="bold" text-anchor="middle" fill="#111" stroke="#111" stroke-width="0.22" transform="rotate(-90 25.90 287.00)" textLength="106" lengthAdjust="spacingAndGlyphs">Angptl2 Binding Activity Relative</text>
<text x="34.00" y="288.30" font-size="7.1" font-family="Liberation Sans" font-weight="bold" text-anchor="middle" fill="#111" stroke="#111" stroke-width="0.22" transform="rotate(-90 34.00 288.30)" textLength="50" lengthAdjust="spacingAndGlyphs">to WT-LILRB2</text>
<text x="245.40" y="245.60" font-size="10" font-family="Liberation Sans" font-weight="bold" text-anchor="start" fill="#111" stroke="#111" stroke-width="0.45">F</text>
<line x1="266.50" y1="249.00" x2="266.50" y2="370.50" stroke="#777" stroke-width="1"/>
<path d="M264.90 250.30 L266.50 246.30 L268.10 250.30 Z" fill="#444"/>
<line x1="266.00" y1="370.50" x2="367.00" y2="370.50" stroke="#444" stroke-width="1"/>
<path d="M366.80 368.90 L371.80 370.50 L366.80 372.10 Z" fill="#222"/>
<text x="263.60" y="304.50" font-size="7.6" font-family="Liberation Sans" font-weight="bold" text-anchor="middle" fill="#111" stroke="#111" stroke-width="0.22" transform="rotate(-90 263.60 304.50)">Angptl2-FLAG</text>
<text x="325.30" y="378.20" font-size="8" font-family="Liberation Sans" font-weight="bold" text-anchor="middle" fill="#111" stroke="#111" stroke-width="0.22">GFP</text>
<text x="299.70" y="252.60" font-size="6.5" font-family="Liberation Sans" font-weight="bold" text-anchor="middle" fill="#111" stroke="#111" stroke-width="0.22">Y96A/G392D</text>
<text x="268.80" y="262.00" font-size="6.5" font-family="Liberation Sans" font-style="italic" text-anchor="start" fill="#222">MFI:5.19</text>
<text x="317.60" y="262.00" font-size="6.5" font-family="Liberation Sans" font-style="italic" text-anchor="end" fill="#222">4.59</text>
<g clip-path="url(#c10)">
<rect x="282.00" y="281.80" width="36.60" height="22.00" fill="#c6c9f4" opacity="0.75" filter="url(#b25)"/>
<ellipse cx="286.80" cy="291.80" rx="4.50" ry="11.00" fill="#5575e6" opacity="0.8" filter="url(#b18)"/>
<rect x="299.00" y="292.80" width="19.60" height="10.00" fill="#4a6ae2" opacity="0.8" filter="url(#b18)"/>
<ellipse cx="286.80" cy="296.80" rx="6.67" ry="6.21" fill="#3a7ee0" opacity="0.8" filter="url(#b12)"/>
<ellipse cx="286.80" cy="296.80" rx="4.60" ry="4.37" fill="#2cc070" opacity="1" filter="url(#b08)"/>
<ellipse cx="286.80" cy="296.80" rx="3.04" ry="2.85" fill="#9ad83c" opacity="1" filter="url(#b05)"/>
<ellipse cx="286.80" cy="296.80" rx="1.93" ry="1.84" fill="#f0a828" opacity="1" filter="url(#b05)"/>
<ellipse cx="308.50" cy="297.20" rx="6.50" ry="3.00" fill="#2cc37a" opacity="1" filter="url(#b08)"/>
<ellipse cx="315.50" cy="297.40" rx="3.80" ry="2.60" fill="#2fb5b8" opacity="0.9" filter="url(#b08)"/>
<ellipse cx="308.50" cy="297.20" rx="2.60" ry="1.40" fill="#8fd840" opacity="0.8" filter="url(#b05)"/>
<rect x="308.9" y="299.0" width="0.8" height="0.8" fill="#4a6ae4" opacity="0.55"/><rect x="292.9" y="286.9" width="0.8" height="0.8" fill="#b4a8ec" opacity="0.55"/><rect x="294.3" y="294.1" width="0.8" height="0.8" fill="#b4a8ec" opacity="0.55"/><rect x="297.1" y="295.5" width="0.8" height="0.8" fill="#3f5fe0" opacity="0.55"/><rect x="296.7" y="301.2" width="0.8" height="0.8" fill="#8a8ff0" opacity="0.55"/><rect x="312.8" y="295.4" width="0.8" height="0.8" fill="#6a80ea" opacity="0.55"/><rect x="306.4" y="300.2" width="0.8" height="0.8" fill="#4a6ae4" opacity="0.55"/><rect x="285.7" y="297.4" width="0.8" height="0.8" fill="#8a8ff0" opacity="0.55"/><rect x="287.1" y="298.4" width="0.8" height="0.8" fill="#3f5fe0" opacity="0.55"/><rect x="283.5" y="285.5" width="0.8" height="0.8" fill="#6a80ea" opacity="0.55"/><rect x="307.7" y="298.7" width="0.8" height="0.8" fill="#6a80ea" opacity="0.55"/><rect x="304.2" y="296.7" width="0.8" height="0.8" fill="#4a6ae4" opacity="0.55"/><rect x="299.6" y="293.5" width="0.8" height="0.8" fill="#8a8ff0" opacity="0.55"/><rect x="311.4" y="299.8" width="0.8" height="0.8" fill="#8a8ff0" opacity="0.55"/><rect x="304.3" y="292.3" width="0.8" height="0.8" fill="#8a8ff0" opacity="0.55"/><rect x="314.0" y="300.1" width="0.8" height="0.8" fill="#8a8ff0" opacity="0.55"/><rect x="303.9" y="291.3" width="0.8" height="0.8" fill="#3f5fe0" opacity="0.55"/><rect x="308.4" y="291.0" width="0.8" height="0.8" fill="#b4a8ec" opacity="0.55"/><rect x="317.5" y="294.2" width="0.8" height="0.8" fill="#b4a8ec" opacity="0.55"/><rect x="300.2" y="292.5" width="0.8" height="0.8" fill="#6a80ea" opacity="0.55"/><rect x="288.6" y="293.2" width="0.8" height="0.8" fill="#8a8ff0" opacity="0.55"/><rect x="307.2" y="301.2" width="0.8" height="0.8" fill="#4a6ae4" opacity="0.55"/><rect x="296.7" y="298.9" width="0.8" height="0.8" fill="#8a8ff0" opacity="0.55"/><rect x="305.8" y="283.7" width="0.8" height="0.8" fill="#b4a8ec" opacity="0.55"/><rect x="306.8" y="295.7" width="0.8" height="0.8" fill="#4a6ae4" opacity="0.55"/><rect x="296.0" y="299.6" width="0.8" height="0.8" fill="#8a8ff0" opacity="0.55"/><rect x="305.5" y="299.2" width="0.8" height="0.8" fill="#3f5fe0" opacity="0.55"/><rect x="302.8" y="296.0" width="0.8" height="0.8" fill="#b4a8ec" opacity="0.55"/><rect x="307.6" y="296.5" width="0.8" height="0.8" fill="#6a80ea" opacity="0.55"/><rect x="315.8" y="300.5" width="0.8" height="0.8" fill="#6a80ea" opacity="0.55"/><rect x="283.0" y="293.0" width="0.8" height="0.8" fill="#b4a8ec" opacity="0.55"/><rect x="291.7" y="293.3" width="0.8" height="0.8" fill="#6a80ea" opacity="0.55"/><rect x="283.1" y="292.3" width="0.8" height="0.8" fill="#b4a8ec" opacity="0.55"/><rect x="302.2" y="296.5" width="0.8" height="0.8" fill="#3f5fe0" opacity="0.55"/><rect x="304.9" y="296.9" width="0.8" height="0.8" fill="#6a80ea" opacity="0.55"/><rect x="318.0" y="296.3" width="0.8" height="0.8" fill="#4a6ae4" opacity="0.55"/><rect x="293.2" y="300.5" width="0.8" height="0.8" fill="#6a80ea" opacity="0.55"/><rect x="294.7" y="298.3" width="0.8" height="0.8" fill="#3f5fe0" opacity="0.55"/><rect x="314.0" y="299.2" width="0.8" height="0.8" fill="#3f5fe0" opacity="0.55"/><rect x="300.6" y="296.9" width="0.8" height="0.8" fill="#8a8ff0" opacity="0.55"/><rect x="303.5" y="291.0" width="0.8" height="0.8" fill="#3f5fe0" opacity="0.55"/><rect x="311.2" y="290.6" width="0.8" height="0.8" fill="#b4a8ec" opacity="0.55"/><rect x="309.7" y="297.0" width="0.8" height="0.8" fill="#6a80ea" opacity="0.55"/><rect x="295.2" y="297.5" width="0.8" height="0.8" fill="#4a6ae4" opacity="0.55"/><rect x="308.6" y="300.8" width="0.8" height="0.8" fill="#4a6ae4" opacity="0.55"/><rect x="297.3" y="296.8" width="0.8" height="0.8" fill="#3f5fe0" opacity="0.55"/><rect x="294.0" y="293.6" width="0.8" height="0.8" fill="#8a8ff0" opacity="0.55"/><rect x="296.2" y="291.5" width="0.8" height="0.8" fill="#3f5fe0" opacity="0.55"/><rect x="295.7" y="299.4" width="0.8" height="0.8" fill="#8a8ff0" opacity="0.55"/><rect x="306.2" y="291.8" width="0.8" height="0.8" fill="#4a6ae4" opacity="0.55"/><rect x="294.8" y="299.5" width="0.8" height="0.8" fill="#8a8ff0" opacity="0.55"/><rect x="282.1" y="297.9" width="0.8" height="0.8" fill="#6a80ea" opacity="0.55"/><rect x="312.8" y="289.7" width="0.8" height="0.8" fill="#b4a8ec" opacity="0.55"/><rect x="290.9" y="294.4" width="0.8" height="0.8" fill="#3f5fe0" opacity="0.55"/><rect x="309.7" y="298.9" width="0.8" height="0.8" fill="#6a80ea" opacity="0.55"/><rect x="310.6" y="282.3" width="0.8" height="0.8" fill="#6a80ea" opacity="0.55"/><rect x="300.3" y="293.6" width="0.8" height="0.8" fill="#4a6ae4" opacity="0.55"/><rect x="289.1" y="300.4" width="0.8" height="0.8" fill="#4a6ae4" opacity="0.55"/><rect x="283.1" y="287.5" width="0.8" height="0.8" fill="#8a8ff0" opacity="0.55"/><rect x="285.1" y="298.0" width="0.8" height="0.8" fill="#3f5fe0" opacity="0.55"/><rect x="297.5" y="294.1" width="0.8" height="0.8" fill="#b4a8ec" opacity="0.55"/><rect x="283.3" y="293.9" width="0.8" height="0.8" fill="#3f5fe0" opacity="0.55"/><rect x="298.8" y="295.7" width="0.8" height="0.8" fill="#6a80ea" opacity="0.55"/><rect x="299.9" y="295.9" width="0.8" height="0.8" fill="#3f5fe0" opacity="0.55"/><rect x="295.2" y="298.3" width="0.8" height="0.8" fill="#8a8ff0" opacity="0.55"/><rect x="303.1" y="286.6" width="0.8" height="0.8" fill="#4a6ae4" opacity="0.55"/><rect x="299.2" y="297.4" width="0.8" height="0.8" fill="#b4a8ec" opacity="0.55"/><rect x="287.5" y="290.3" width="0.8" height="0.8" fill="#4a6ae4" opacity="0.55"/><rect x="303.0" y="301.1" width="0.8" height="0.8" fill="#8a8ff0" opacity="0.55"/><rect x="287.7" y="299.7" width="0.8" height="0.8" fill="#b4a8ec" opacity="0.55"/><rect x="307.4" y="292.7" width="0.8" height="0.8" fill="#3f5fe0" opacity="0.55"/><rect x="298.1" y="297.9" width="0.8" height="0.8" fill="#8a8ff0" opacity="0.55"/><rect x="292.8" y="284.7" width="0.8" height="0.8" fill="#8a8ff0" opacity="0.55"/><rect x="290.0" y="296.2" width="0.8" height="0.8" fill="#3f5fe0" opacity="0.55"/><rect x="304.8" y="289.8" width="0.8" height="0.8" fill="#8a8ff0" opacity="0.55"/><rect x="286.9" y="285.6" width="0.8" height="0.8" fill="#6a80ea" opacity="0.55"/><rect x="303.2" y="288.3" width="0.8" height="0.8" fill="#3f5fe0" opacity="0.55"/><rect x="316.7" y="294.1" width="0.8" height="0.8" fill="#b4a8ec" opacity="0.55"/><rect x="309.4" y="292.2" width="0.8" height="0.8" fill="#b4a8ec" opacity="0.55"/><rect x="282.1" y="291.6" width="0.8" height="0.8" fill="#6a80ea" opacity="0.55"/><rect x="300.6" y="293.7" width="0.8" height="0.8" fill="#3f5fe0" opacity="0.55"/>
</g>
<rect x="280.00" y="263.00" width="39.60" height="38.80" fill="none" stroke="#8e8e9e" stroke-width="0.7"/>
<rect x="280.90" y="264.10" width="12.80" height="37.30" fill="none" stroke="#a4a4c0" stroke-width="0.6"/>
<rect x="300.40" y="264.10" width="18.00" height="37.30" fill="none" stroke="#a4a4c0" stroke-width="0.6"/>
<text x="287.30" y="283.20" font-size="3.2" font-family="Liberation Sans" font-weight="bold" text-anchor="middle" fill="#000" stroke="#000" stroke-width="0.12">46.76</text>
<text x="309.40" y="283.20" font-size="3.2" font-family="Liberation Sans" font-weight="bold" text-anchor="middle" fill="#000" stroke="#000" stroke-width="0.12">49.67</text>
<text x="352.00" y="252.60" font-size="6.5" font-family="Liberation Sans" font-weight="bold" text-anchor="middle" fill="#111" stroke="#111" stroke-width="0.22">Y96A/T393E</text>
<text x="333.40" y="262.00" font-size="6.5" font-family="Liberation Sans" font-style="italic" text-anchor="start" fill="#222">4.68</text>
<text x="372.10" y="262.00" font-size="6.5" font-family="Liberation Sans" font-style="italic" text-anchor="end" fill="#222">29.22</text>
<g clip-path="url(#c11)">
<rect x="335.10" y="281.80" width="36.60" height="22.00" fill="#c8cbf5" opacity="0.75" filter="url(#b25)"/>
<ellipse cx="363.20" cy="289.80" rx="10.30" ry="13.00" fill="#8096ec" opacity="0.55" filter="url(#b25)"/>
<ellipse cx="363.20" cy="291.80" rx="6.34" ry="7.00" fill="#5a7ae6" opacity="0.4" filter="url(#b18)"/>
<ellipse cx="340.10" cy="293.80" rx="5.00" ry="9.00" fill="#4a6ae4" opacity="0.8" filter="url(#b18)"/>
<rect x="345.10" y="295.80" width="17.82" height="7.00" fill="#9ba4f0" opacity="0.6" filter="url(#b18)"/>
<ellipse cx="340.30" cy="297.20" rx="6.96" ry="6.48" fill="#3a7ee0" opacity="0.8" filter="url(#b12)"/>
<ellipse cx="340.30" cy="297.20" rx="4.80" ry="4.56" fill="#2cc070" opacity="1" filter="url(#b08)"/>
<ellipse cx="340.30" cy="297.20" rx="3.17" ry="2.98" fill="#9ad83c" opacity="1" filter="url(#b05)"/>
<ellipse cx="340.30" cy="297.20" rx="2.02" ry="1.92" fill="#f0a828" opacity="1" filter="url(#b05)"/>
<rect x="367.9" y="285.5" width="0.8" height="0.8" fill="#3f5fe0" opacity="0.55"/><rect x="355.3" y="295.3" width="0.8" height="0.8" fill="#4a6ae4" opacity="0.55"/><rect x="371.4" y="284.9" width="0.8" height="0.8" fill="#8a8ff0" opacity="0.55"/><rect x="337.0" y="298.8" width="0.8" height="0.8" fill="#6a80ea" opacity="0.55"/><rect x="344.5" y="300.5" width="0.8" height="0.8" fill="#4a6ae4" opacity="0.55"/><rect x="356.5" y="292.6" width="0.8" height="0.8" fill="#6a80ea" opacity="0.55"/><rect x="344.9" y="299.7" width="0.8" height="0.8" fill="#3f5fe0" opacity="0.55"/><rect x="353.9" y="283.5" width="0.8" height="0.8" fill="#6a80ea" opacity="0.55"/><rect x="370.0" y="286.8" width="0.8" height="0.8" fill="#4a6ae4" opacity="0.55"/><rect x="367.8" y="288.1" width="0.8" height="0.8" fill="#3f5fe0" opacity="0.55"/><rect x="370.5" y="298.8" width="0.8" height="0.8" fill="#b4a8ec" opacity="0.55"/><rect x="367.0" y="287.2" width="0.8" height="0.8" fill="#6a80ea" opacity="0.55"/><rect x="361.5" y="290.8" width="0.8" height="0.8" fill="#3f5fe0" opacity="0.55"/><rect x="354.6" y="294.4" width="0.8" height="0.8" fill="#3f5fe0" opacity="0.55"/><rect x="363.5" y="300.0" width="0.8" height="0.8" fill="#4a6ae4" opacity="0.55"/><rect x="362.1" y="297.6" width="0.8" height="0.8" fill="#b4a8ec" opacity="0.55"/><rect x="366.9" y="300.6" width="0.8" height="0.8" fill="#8a8ff0" opacity="0.55"/><rect x="362.7" y="292.2" width="0.8" height="0.8" fill="#6a80ea" opacity="0.55"/><rect x="368.1" y="292.7" width="0.8" height="0.8" fill="#4a6ae4" opacity="0.55"/><rect x="363.8" y="298.6" width="0.8" height="0.8" fill="#3f5fe0" opacity="0.55"/><rect x="334.0" y="295.2" width="0.8" height="0.8" fill="#3f5fe0" opacity="0.55"/><rect x="353.9" y="294.7" width="0.8" height="0.8" fill="#8a8ff0" opacity="0.55"/><rect x="368.3" y="298.2" width="0.8" height="0.8" fill="#8a8ff0" opacity="0.55"/><rect x="366.3" y="286.4" width="0.8" height="0.8" fill="#b4a8ec" opacity="0.55"/><rect x="336.0" y="299.2" width="0.8" height="0.8" fill="#4a6ae4" opacity="0.55"/><rect x="362.2" y="294.6" width="0.8" height="0.8" fill="#8a8ff0" opacity="0.55"/><rect x="356.1" y="284.6" width="0.8" height="0.8" fill="#b4a8ec" opacity="0.55"/><rect x="349.8" y="298.6" width="0.8" height="0.8" fill="#6a80ea" opacity="0.55"/><rect x="371.3" y="300.8" width="0.8" height="0.8" fill="#6a80ea" opacity="0.55"/><rect x="338.1" y="293.0" width="0.8" height="0.8" fill="#4a6ae4" opacity="0.55"/><rect x="336.5" y="299.9" width="0.8" height="0.8" fill="#4a6ae4" opacity="0.55"/><rect x="367.0" y="293.7" width="0.8" height="0.8" fill="#4a6ae4" opacity="0.55"/><rect x="334.9" y="295.9" width="0.8" height="0.8" fill="#6a80ea" opacity="0.55"/><rect x="360.0" y="284.4" width="0.8" height="0.8" fill="#3f5fe0" opacity="0.55"/><rect x="341.5" y="298.1" width="0.8" height="0.8" fill="#6a80ea" opacity="0.55"/><rect x="360.2" y="292.0" width="0.8" height="0.8" fill="#6a80ea" opacity="0.55"/><rect x="361.0" y="283.2" width="0.8" height="0.8" fill="#8a8ff0" opacity="0.55"/><rect x="338.0" y="299.4" width="0.8" height="0.8" fill="#6a80ea" opacity="0.55"/><rect x="364.1" y="288.4" width="0.8" height="0.8" fill="#8a8ff0" opacity="0.55"/><rect x="365.3" y="292.7" width="0.8" height="0.8" fill="#3f5fe0" opacity="0.55"/><rect x="357.6" y="295.1" width="0.8" height="0.8" fill="#8a8ff0" opacity="0.55"/><rect x="352.6" y="299.6" width="0.8" height="0.8" fill="#8a8ff0" opacity="0.55"/><rect x="364.6" y="284.5" width="0.8" height="0.8" fill="#4a6ae4" opacity="0.55"/><rect x="359.2" y="287.9" width="0.8" height="0.8" fill="#8a8ff0" opacity="0.55"/><rect x="359.0" y="295.1" width="0.8" height="0.8" fill="#6a80ea" opacity="0.55"/><rect x="339.8" y="294.1" width="0.8" height="0.8" fill="#6a80ea" opacity="0.55"/><rect x="368.6" y="301.2" width="0.8" height="0.8" fill="#4a6ae4" opacity="0.55"/><rect x="366.4" y="290.1" width="0.8" height="0.8" fill="#4a6ae4" opacity="0.55"/><rect x="349.3" y="295.3" width="0.8" height="0.8" fill="#8a8ff0" opacity="0.55"/><rect x="367.2" y="291.7" width="0.8" height="0.8" fill="#6a80ea" opacity="0.55"/><rect x="336.2" y="295.9" width="0.8" height="0.8" fill="#b4a8ec" opacity="0.55"/><rect x="367.8" y="282.0" width="0.8" height="0.8" fill="#8a8ff0" opacity="0.55"/><rect x="360.4" y="301.1" width="0.8" height="0.8" fill="#3f5fe0" opacity="0.55"/><rect x="365.5" y="287.9" width="0.8" height="0.8" fill="#8a8ff0" opacity="0.55"/><rect x="354.1" y="298.5" width="0.8" height="0.8" fill="#3f5fe0" opacity="0.55"/><rect x="363.4" y="297.1" width="0.8" height="0.8" fill="#3f5fe0" opacity="0.55"/><rect x="363.5" y="288.6" width="0.8" height="0.8" fill="#b4a8ec" opacity="0.55"/><rect x="351.6" y="294.4" width="0.8" height="0.8" fill="#4a6ae4" opacity="0.55"/><rect x="360.8" y="285.9" width="0.8" height="0.8" fill="#3f5fe0" opacity="0.55"/><rect x="363.9" y="287.7" width="0.8" height="0.8" fill="#8a8ff0" opacity="0.55"/><rect x="364.9" y="292.1" width="0.8" height="0.8" fill="#b4a8ec" opacity="0.55"/><rect x="361.0" y="293.1" width="0.8" height="0.8" fill="#3f5fe0" opacity="0.55"/><rect x="360.8" y="292.4" width="0.8" height="0.8" fill="#b4a8ec" opacity="0.55"/><rect x="361.1" y="286.9" width="0.8" height="0.8" fill="#b4a8ec" opacity="0.55"/><rect x="344.2" y="289.4" width="0.8" height="0.8" fill="#8a8ff0" opacity="0.55"/><rect x="364.9" y="294.3" width="0.8" height="0.8" fill="#3f5fe0" opacity="0.55"/><rect x="370.5" y="298.1" width="0.8" height="0.8" fill="#6a80ea" opacity="0.55"/><rect x="354.2" y="293.3" width="0.8" height="0.8" fill="#4a6ae4" opacity="0.55"/><rect x="364.0" y="292.4" width="0.8" height="0.8" fill="#4a6ae4" opacity="0.55"/><rect x="337.2" y="293.0" width="0.8" height="0.8" fill="#8a8ff0" opacity="0.55"/><rect x="350.6" y="291.0" width="0.8" height="0.8" fill="#3f5fe0" opacity="0.55"/><rect x="364.8" y="301.1" width="0.8" height="0.8" fill="#6a80ea" opacity="0.55"/><rect x="363.8" y="299.7" width="0.8" height="0.8" fill="#8a8ff0" opacity="0.55"/><rect x="344.4" y="299.5" width="0.8" height="0.8" fill="#8a8ff0" opacity="0.55"/><rect x="357.5" y="294.6" width="0.8" height="0.8" fill="#4a6ae4" opacity="0.55"/><rect x="361.5" y="284.7" width="0.8" height="0.8" fill="#4a6ae4" opacity="0.55"/><rect x="356.2" y="292.2" width="0.8" height="0.8" fill="#6a80ea" opacity="0.55"/><rect x="362.8" y="288.6" width="0.8" height="0.8" fill="#8a8ff0" opacity="0.55"/><rect x="367.1" y="298.0" width="0.8" height="0.8" fill="#b4a8ec" opacity="0.55"/><rect x="367.9" y="287.6" width="0.8" height="0.8" fill="#b4a8ec" opacity="0.55"/><rect x="362.8" y="294.6" width="0.8" height="0.8" fill="#6a80ea" opacity="0.55"/><rect x="354.6" y="298.0" width="0.8" height="0.8" fill="#b4a8ec" opacity="0.55"/>
</g>
<rect x="333.10" y="263.00" width="39.60" height="38.80" fill="none" stroke="#8e8e9e" stroke-width="0.7"/>
<rect x="334.00" y="264.10" width="12.40" height="37.30" fill="none" stroke="#a4a4c0" stroke-width="0.6"/>
<rect x="353.60" y="264.10" width="17.90" height="37.30" fill="none" stroke="#a4a4c0" stroke-width="0.6"/>
<text x="340.20" y="283.20" font-size="3.2" font-family="Liberation Sans" font-weight="bold" text-anchor="middle" fill="#000" stroke="#000" stroke-width="0.12">60.38</text>
<text x="362.55" y="283.20" font-size="3.2" font-family="Liberation Sans" font-weight="bold" text-anchor="middle" fill="#000" stroke="#000" stroke-width="0.12">78.67</text>
<text x="299.70" y="317.20" font-size="6.5" font-family="Liberation Sans" font-weight="bold" text-anchor="middle" fill="#111" stroke="#111" stroke-width="0.22">Y96A/Y394A</text>
<text x="268.80" y="326.80" font-size="6.5" font-family="Liberation Sans" font-style="italic" text-anchor="start" fill="#222">MFI:6.81</text>
<text x="317.60" y="326.80" font-size="6.5" font-family="Liberation Sans" font-style="italic" text-anchor="end" fill="#222">5.09</text>
<g clip-path="url(#c12)">
<rect x="282.00" y="347.10" width="36.60" height="22.00" fill="#c6c9f4" opacity="0.75" filter="url(#b25)"/>
<ellipse cx="286.80" cy="357.10" rx="4.50" ry="11.00" fill="#5575e6" opacity="0.8" filter="url(#b18)"/>
<rect x="299.00" y="358.10" width="19.60" height="10.00" fill="#4a6ae2" opacity="0.8" filter="url(#b18)"/>
<ellipse cx="286.80" cy="362.10" rx="6.67" ry="6.21" fill="#3a7ee0" opacity="0.8" filter="url(#b12)"/>
<ellipse cx="286.80" cy="362.10" rx="4.60" ry="4.37" fill="#2cc070" opacity="1" filter="url(#b08)"/>
<ellipse cx="286.80" cy="362.10" rx="3.04" ry="2.85" fill="#9ad83c" opacity="1" filter="url(#b05)"/>
<ellipse cx="286.80" cy="362.10" rx="1.93" ry="1.84" fill="#f0a828" opacity="1" filter="url(#b05)"/>
<ellipse cx="308.50" cy="362.50" rx="6.50" ry="3.00" fill="#2cc37a" opacity="1" filter="url(#b08)"/>
<ellipse cx="315.50" cy="362.70" rx="3.80" ry="2.60" fill="#2fb5b8" opacity="0.9" filter="url(#b08)"/>
<ellipse cx="308.50" cy="362.50" rx="2.60" ry="1.40" fill="#8fd840" opacity="0.8" filter="url(#b05)"/>
<rect x="315.9" y="358.5" width="0.8" height="0.8" fill="#8a8ff0" opacity="0.55"/><rect x="316.8" y="364.4" width="0.8" height="0.8" fill="#8a8ff0" opacity="0.55"/><rect x="287.7" y="357.5" width="0.8" height="0.8" fill="#b4a8ec" opacity="0.55"/><rect x="287.7" y="356.2" width="0.8" height="0.8" fill="#6a80ea" opacity="0.55"/><rect x="303.7" y="360.0" width="0.8" height="0.8" fill="#8a8ff0" opacity="0.55"/><rect x="300.2" y="364.2" width="0.8" height="0.8" fill="#b4a8ec" opacity="0.55"/><rect x="300.9" y="366.4" width="0.8" height="0.8" fill="#4a6ae4" opacity="0.55"/><rect x="304.7" y="366.5" width="0.8" height="0.8" fill="#4a6ae4" opacity="0.55"/><rect x="299.2" y="364.8" width="0.8" height="0.8" fill="#b4a8ec" opacity="0.55"/><rect x="288.6" y="355.6" width="0.8" height="0.8" fill="#3f5fe0" opacity="0.55"/><rect x="283.6" y="353.4" width="0.8" height="0.8" fill="#3f5fe0" opacity="0.55"/><rect x="287.8" y="364.7" width="0.8" height="0.8" fill="#3f5fe0" opacity="0.55"/><rect x="297.4" y="363.2" width="0.8" height="0.8" fill="#b4a8ec" opacity="0.55"/><rect x="311.2" y="362.6" width="0.8" height="0.8" fill="#6a80ea" opacity="0.55"/><rect x="297.2" y="363.0" width="0.8" height="0.8" fill="#6a80ea" opacity="0.55"/><rect x="309.1" y="360.9" width="0.8" height="0.8" fill="#4a6ae4" opacity="0.55"/><rect x="294.2" y="351.8" width="0.8" height="0.8" fill="#3f5fe0" opacity="0.55"/><rect x="311.9" y="365.1" width="0.8" height="0.8" fill="#b4a8ec" opacity="0.55"/><rect x="306.6" y="350.9" width="0.8" height="0.8" fill="#8a8ff0" opacity="0.55"/><rect x="289.1" y="363.3" width="0.8" height="0.8" fill="#6a80ea" opacity="0.55"/><rect x="303.0" y="363.7" width="0.8" height="0.8" fill="#4a6ae4" opacity="0.55"/><rect x="295.5" y="358.1" width="0.8" height="0.8" fill="#3f5fe0" opacity="0.55"/><rect x="286.3" y="360.3" width="0.8" height="0.8" fill="#b4a8ec" opacity="0.55"/><rect x="283.1" y="364.4" width="0.8" height="0.8" fill="#4a6ae4" opacity="0.55"/><rect x="312.7" y="355.9" width="0.8" height="0.8" fill="#4a6ae4" opacity="0.55"/><rect x="318.5" y="365.1" width="0.8" height="0.8" fill="#4a6ae4" opacity="0.55"/><rect x="313.0" y="364.4" width="0.8" height="0.8" fill="#4a6ae4" opacity="0.55"/><rect x="287.4" y="361.4" width="0.8" height="0.8" fill="#4a6ae4" opacity="0.55"/><rect x="315.1" y="362.7" width="0.8" height="0.8" fill="#3f5fe0" opacity="0.55"/><rect x="314.5" y="366.5" width="0.8" height="0.8" fill="#4a6ae4" opacity="0.55"/><rect x="298.6" y="356.1" width="0.8" height="0.8" fill="#b4a8ec" opacity="0.55"/><rect x="301.7" y="355.1" width="0.8" height="0.8" fill="#4a6ae4" opacity="0.55"/><rect x="296.8" y="353.6" width="0.8" height="0.8" fill="#8a8ff0" opacity="0.55"/><rect x="289.9" y="361.6" width="0.8" height="0.8" fill="#6a80ea" opacity="0.55"/><rect x="301.5" y="366.0" width="0.8" height="0.8" fill="#b4a8ec" opacity="0.55"/><rect x="305.8" y="359.2" width="0.8" height="0.8" fill="#6a80ea" opacity="0.55"/><rect x="287.7" y="362.7" width="0.8" height="0.8" fill="#6a80ea" opacity="0.55"/><rect x="295.5" y="354.7" width="0.8" height="0.8" fill="#b4a8ec" opacity="0.55"/><rect x="296.1" y="362.0" width="0.8" height="0.8" fill="#8a8ff0" opacity="0.55"/><rect x="290.4" y="358.5" width="0.8" height="0.8" fill="#8a8ff0" opacity="0.55"/><rect x="285.2" y="356.2" width="0.8" height="0.8" fill="#4a6ae4" opacity="0.55"/><rect x="314.0" y="366.5" width="0.8" height="0.8" fill="#8a8ff0" opacity="0.55"/><rect x="299.7" y="361.0" width="0.8" height="0.8" fill="#3f5fe0" opacity="0.55"/><rect x="308.7" y="357.6" width="0.8" height="0.8" fill="#8a8ff0" opacity="0.55"/><rect x="295.3" y="356.4" width="0.8" height="0.8" fill="#b4a8ec" opacity="0.55"/><rect x="310.2" y="360.1" width="0.8" height="0.8" fill="#3f5fe0" opacity="0.55"/><rect x="315.9" y="363.9" width="0.8" height="0.8" fill="#3f5fe0" opacity="0.55"/><rect x="289.7" y="364.6" width="0.8" height="0.8" fill="#6a80ea" opacity="0.55"/><rect x="291.5" y="361.0" width="0.8" height="0.8" fill="#4a6ae4" opacity="0.55"/><rect x="312.3" y="365.7" width="0.8" height="0.8" fill="#4a6ae4" opacity="0.55"/><rect x="307.5" y="354.8" width="0.8" height="0.8" fill="#6a80ea" opacity="0.55"/><rect x="286.8" y="364.9" width="0.8" height="0.8" fill="#3f5fe0" opacity="0.55"/><rect x="291.8" y="363.2" width="0.8" height="0.8" fill="#6a80ea" opacity="0.55"/><rect x="310.7" y="361.5" width="0.8" height="0.8" fill="#6a80ea" opacity="0.55"/><rect x="301.6" y="357.0" width="0.8" height="0.8" fill="#6a80ea" opacity="0.55"/><rect x="313.7" y="360.8" width="0.8" height="0.8" fill="#3f5fe0" opacity="0.55"/><rect x="302.0" y="366.1" width="0.8" height="0.8" fill="#6a80ea" opacity="0.55"/><rect x="288.3" y="363.3" width="0.8" height="0.8" fill="#3f5fe0" opacity="0.55"/><rect x="297.3" y="349.2" width="0.8" height="0.8" fill="#4a6ae4" opacity="0.55"/><rect x="317.0" y="359.0" width="0.8" height="0.8" fill="#b4a8ec" opacity="0.55"/><rect x="287.0" y="365.9" width="0.8" height="0.8" fill="#6a80ea" opacity="0.55"/><rect x="295.5" y="357.4" width="0.8" height="0.8" fill="#b4a8ec" opacity="0.55"/><rect x="312.0" y="363.8" width="0.8" height="0.8" fill="#3f5fe0" opacity="0.55"/><rect x="318.0" y="364.6" width="0.8" height="0.8" fill="#8a8ff0" opacity="0.55"/><rect x="306.8" y="362.3" width="0.8" height="0.8" fill="#6a80ea" opacity="0.55"/><rect x="305.7" y="365.3" width="0.8" height="0.8" fill="#4a6ae4" opacity="0.55"/><rect x="291.3" y="360.6" width="0.8" height="0.8" fill="#3f5fe0" opacity="0.55"/><rect x="307.3" y="360.8" width="0.8" height="0.8" fill="#8a8ff0" opacity="0.55"/><rect x="303.6" y="363.3" width="0.8" height="0.8" fill="#b4a8ec" opacity="0.55"/><rect x="289.7" y="363.6" width="0.8" height="0.8" fill="#b4a8ec" opacity="0.55"/><rect x="303.3" y="360.1" width="0.8" height="0.8" fill="#b4a8ec" opacity="0.55"/><rect x="286.3" y="356.1" width="0.8" height="0.8" fill="#4a6ae4" opacity="0.55"/><rect x="299.8" y="360.9" width="0.8" height="0.8" fill="#b4a8ec" opacity="0.55"/><rect x="316.0" y="344.0" width="0.8" height="0.8" fill="#6a80ea" opacity="0.55"/><rect x="294.5" y="364.2" width="0.8" height="0.8" fill="#3f5fe0" opacity="0.55"/><rect x="293.2" y="357.4" width="0.8" height="0.8" fill="#6a80ea" opacity="0.55"/><rect x="288.1" y="359.4" width="0.8" height="0.8" fill="#6a80ea" opacity="0.55"/><rect x="299.4" y="364.8" width="0.8" height="0.8" fill="#4a6ae4" opacity="0.55"/><rect x="313.5" y="364.2" width="0.8" height="0.8" fill="#6a80ea" opacity="0.55"/><rect x="306.0" y="359.1" width="0.8" height="0.8" fill="#8a8ff0" opacity="0.55"/><rect x="309.8" y="353.2" width="0.8" height="0.8" fill="#4a6ae4" opacity="0.55"/><rect x="294.1" y="365.7" width="0.8" height="0.8" fill="#b4a8ec" opacity="0.55"/><rect x="297.6" y="350.0" width="0.8" height="0.8" fill="#3f5fe0" opacity="0.55"/><rect x="312.7" y="359.1" width="0.8" height="0.8" fill="#4a6ae4" opacity="0.55"/><rect x="306.4" y="364.4" width="0.8" height="0.8" fill="#8a8ff0" opacity="0.55"/><rect x="299.9" y="359.1" width="0.8" height="0.8" fill="#8a8ff0" opacity="0.55"/><rect x="306.2" y="362.4" width="0.8" height="0.8" fill="#4a6ae4" opacity="0.55"/><rect x="302.1" y="366.0" width="0.8" height="0.8" fill="#4a6ae4" opacity="0.55"/>
</g>
<rect x="280.00" y="328.30" width="39.60" height="38.80" fill="none" stroke="#8e8e9e" stroke-width="0.7"/>
<rect x="280.90" y="329.40" width="12.80" height="37.30" fill="none" stroke="#a4a4c0" stroke-width="0.6"/>
<rect x="300.40" y="329.40" width="18.00" height="37.30" fill="none" stroke="#a4a4c0" stroke-width="0.6"/>
<text x="287.30" y="348.50" font-size="3.2" font-family="Liberation Sans" font-weight="bold" text-anchor="middle" fill="#000" stroke="#000" stroke-width="0.12">46.53</text>
<text x="309.40" y="348.50" font-size="3.2" font-family="Liberation Sans" font-weight="bold" text-anchor="middle" fill="#000" stroke="#000" stroke-width="0.12">47.86</text>
<text x="352.20" y="317.20" font-size="6.5" font-family="Liberation Sans" font-weight="bold" text-anchor="middle" fill="#111" stroke="#111" stroke-width="0.22">wt-FL</text>
<text x="332.80" y="326.80" font-size="6.5" font-family="Liberation Sans" font-style="italic" text-anchor="start" fill="#222">4.59</text>
<text x="371.50" y="326.80" font-size="6.5" font-family="Liberation Sans" font-style="italic" text-anchor="end" fill="#222">45.16</text>
<g clip-path="url(#c13)">
<rect x="334.50" y="353.10" width="15.84" height="16.00" fill="#c8cbf5" opacity="0.6" filter="url(#b25)"/>
<ellipse cx="357.05" cy="355.10" rx="19.01" ry="8.00" fill="#b0b6f2" opacity="0.85" filter="url(#b25)" transform="rotate(-30 357.05 355.10)"/>
<ellipse cx="356.26" cy="355.10" rx="14.26" ry="4.50" fill="#5f7ee8" opacity="0.7" filter="url(#b18)" transform="rotate(-30 356.26 355.10)"/>
<ellipse cx="344.38" cy="361.10" rx="7.92" ry="4.50" fill="#4a6ee4" opacity="0.8" filter="url(#b18)" transform="rotate(-30 344.38 361.10)"/>
<ellipse cx="339.70" cy="361.90" rx="8.12" ry="7.56" fill="#3a7ee0" opacity="0.8" filter="url(#b12)"/>
<ellipse cx="339.70" cy="361.90" rx="5.60" ry="5.32" fill="#2cc070" opacity="1" filter="url(#b08)"/>
<ellipse cx="339.70" cy="361.90" rx="3.70" ry="3.47" fill="#9ad83c" opacity="1" filter="url(#b05)"/>
<ellipse cx="339.70" cy="361.90" rx="2.35" ry="2.24" fill="#f0a828" opacity="1" filter="url(#b05)"/>
<rect x="365.4" y="350.6" width="0.8" height="0.8" fill="#6a80ea" opacity="0.55"/><rect x="343.2" y="364.1" width="0.8" height="0.8" fill="#6a80ea" opacity="0.55"/><rect x="362.4" y="350.0" width="0.8" height="0.8" fill="#3f5fe0" opacity="0.55"/><rect x="369.0" y="350.0" width="0.8" height="0.8" fill="#4a6ae4" opacity="0.55"/><rect x="349.9" y="357.0" width="0.8" height="0.8" fill="#4a6ae4" opacity="0.55"/><rect x="364.8" y="346.9" width="0.8" height="0.8" fill="#8a8ff0" opacity="0.55"/><rect x="334.9" y="363.9" width="0.8" height="0.8" fill="#8a8ff0" opacity="0.55"/><rect x="337.7" y="360.9" width="0.8" height="0.8" fill="#3f5fe0" opacity="0.55"/><rect x="364.9" y="351.6" width="0.8" height="0.8" fill="#3f5fe0" opacity="0.55"/><rect x="367.5" y="340.1" width="0.8" height="0.8" fill="#3f5fe0" opacity="0.55"/><rect x="355.2" y="358.5" width="0.8" height="0.8" fill="#3f5fe0" opacity="0.55"/><rect x="353.1" y="354.1" width="0.8" height="0.8" fill="#3f5fe0" opacity="0.55"/><rect x="353.9" y="354.4" width="0.8" height="0.8" fill="#6a80ea" opacity="0.55"/><rect x="350.3" y="354.7" width="0.8" height="0.8" fill="#8a8ff0" opacity="0.55"/><rect x="357.5" y="356.6" width="0.8" height="0.8" fill="#4a6ae4" opacity="0.55"/><rect x="345.4" y="362.0" width="0.8" height="0.8" fill="#4a6ae4" opacity="0.55"/><rect x="358.0" y="347.9" width="0.8" height="0.8" fill="#8a8ff0" opacity="0.55"/><rect x="343.0" y="360.6" width="0.8" height="0.8" fill="#4a6ae4" opacity="0.55"/><rect x="359.3" y="354.4" width="0.8" height="0.8" fill="#3f5fe0" opacity="0.55"/><rect x="345.1" y="363.3" width="0.8" height="0.8" fill="#4a6ae4" opacity="0.55"/><rect x="344.9" y="357.7" width="0.8" height="0.8" fill="#3f5fe0" opacity="0.55"/><rect x="345.6" y="358.2" width="0.8" height="0.8" fill="#b4a8ec" opacity="0.55"/><rect x="359.2" y="357.7" width="0.8" height="0.8" fill="#3f5fe0" opacity="0.55"/><rect x="341.2" y="356.6" width="0.8" height="0.8" fill="#b4a8ec" opacity="0.55"/><rect x="340.1" y="363.9" width="0.8" height="0.8" fill="#8a8ff0" opacity="0.55"/><rect x="345.3" y="359.5" width="0.8" height="0.8" fill="#6a80ea" opacity="0.55"/><rect x="363.4" y="348.9" width="0.8" height="0.8" fill="#3f5fe0" opacity="0.55"/><rect x="352.7" y="357.1" width="0.8" height="0.8" fill="#8a8ff0" opacity="0.55"/><rect x="353.0" y="353.7" width="0.8" height="0.8" fill="#8a8ff0" opacity="0.55"/><rect x="354.0" y="350.9" width="0.8" height="0.8" fill="#6a80ea" opacity="0.55"/><rect x="341.1" y="361.4" width="0.8" height="0.8" fill="#b4a8ec" opacity="0.55"/><rect x="358.3" y="364.6" width="0.8" height="0.8" fill="#3f5fe0" opacity="0.55"/><rect x="347.9" y="353.7" width="0.8" height="0.8" fill="#8a8ff0" opacity="0.55"/><rect x="370.6" y="354.1" width="0.8" height="0.8" fill="#b4a8ec" opacity="0.55"/><rect x="347.7" y="362.1" width="0.8" height="0.8" fill="#b4a8ec" opacity="0.55"/><rect x="354.6" y="353.0" width="0.8" height="0.8" fill="#b4a8ec" opacity="0.55"/><rect x="350.5" y="361.9" width="0.8" height="0.8" fill="#8a8ff0" opacity="0.55"/><rect x="349.8" y="360.5" width="0.8" height="0.8" fill="#8a8ff0" opacity="0.55"/><rect x="350.3" y="348.0" width="0.8" height="0.8" fill="#3f5fe0" opacity="0.55"/><rect x="368.8" y="343.3" width="0.8" height="0.8" fill="#3f5fe0" opacity="0.55"/><rect x="366.0" y="353.3" width="0.8" height="0.8" fill="#b4a8ec" opacity="0.55"/><rect x="347.2" y="359.1" width="0.8" height="0.8" fill="#3f5fe0" opacity="0.55"/><rect x="345.4" y="355.1" width="0.8" height="0.8" fill="#4a6ae4" opacity="0.55"/><rect x="347.6" y="358.8" width="0.8" height="0.8" fill="#4a6ae4" opacity="0.55"/><rect x="369.9" y="346.2" width="0.8" height="0.8" fill="#6a80ea" opacity="0.55"/><rect x="340.3" y="356.7" width="0.8" height="0.8" fill="#6a80ea" opacity="0.55"/><rect x="364.0" y="347.3" width="0.8" height="0.8" fill="#3f5fe0" opacity="0.55"/><rect x="357.7" y="349.3" width="0.8" height="0.8" fill="#4a6ae4" opacity="0.55"/><rect x="363.1" y="352.5" width="0.8" height="0.8" fill="#3f5fe0" opacity="0.55"/><rect x="338.7" y="357.4" width="0.8" height="0.8" fill="#3f5fe0" opacity="0.55"/><rect x="370.4" y="345.3" width="0.8" height="0.8" fill="#4a6ae4" opacity="0.55"/><rect x="357.5" y="353.0" width="0.8" height="0.8" fill="#4a6ae4" opacity="0.55"/><rect x="342.9" y="359.2" width="0.8" height="0.8" fill="#6a80ea" opacity="0.55"/><rect x="370.6" y="352.1" width="0.8" height="0.8" fill="#b4a8ec" opacity="0.55"/><rect x="356.0" y="349.6" width="0.8" height="0.8" fill="#8a8ff0" opacity="0.55"/><rect x="343.0" y="357.5" width="0.8" height="0.8" fill="#4a6ae4" opacity="0.55"/><rect x="358.4" y="353.2" width="0.8" height="0.8" fill="#4a6ae4" opacity="0.55"/><rect x="348.5" y="362.7" width="0.8" height="0.8" fill="#3f5fe0" opacity="0.55"/><rect x="356.0" y="358.3" width="0.8" height="0.8" fill="#b4a8ec" opacity="0.55"/><rect x="345.8" y="366.2" width="0.8" height="0.8" fill="#4a6ae4" opacity="0.55"/><rect x="370.9" y="353.4" width="0.8" height="0.8" fill="#3f5fe0" opacity="0.55"/><rect x="358.0" y="356.7" width="0.8" height="0.8" fill="#8a8ff0" opacity="0.55"/><rect x="369.0" y="343.9" width="0.8" height="0.8" fill="#6a80ea" opacity="0.55"/><rect x="342.4" y="363.2" width="0.8" height="0.8" fill="#b4a8ec" opacity="0.55"/><rect x="354.6" y="348.8" width="0.8" height="0.8" fill="#3f5fe0" opacity="0.55"/><rect x="365.9" y="351.9" width="0.8" height="0.8" fill="#4a6ae4" opacity="0.55"/><rect x="351.3" y="354.9" width="0.8" height="0.8" fill="#8a8ff0" opacity="0.55"/><rect x="360.3" y="356.2" width="0.8" height="0.8" fill="#4a6ae4" opacity="0.55"/><rect x="362.4" y="350.2" width="0.8" height="0.8" fill="#8a8ff0" opacity="0.55"/><rect x="352.2" y="358.6" width="0.8" height="0.8" fill="#8a8ff0" opacity="0.55"/><rect x="357.6" y="359.3" width="0.8" height="0.8" fill="#6a80ea" opacity="0.55"/><rect x="364.8" y="353.0" width="0.8" height="0.8" fill="#b4a8ec" opacity="0.55"/><rect x="348.6" y="356.0" width="0.8" height="0.8" fill="#b4a8ec" opacity="0.55"/><rect x="355.2" y="352.6" width="0.8" height="0.8" fill="#4a6ae4" opacity="0.55"/><rect x="355.7" y="353.4" width="0.8" height="0.8" fill="#4a6ae4" opacity="0.55"/><rect x="353.0" y="359.5" width="0.8" height="0.8" fill="#b4a8ec" opacity="0.55"/><rect x="362.0" y="349.2" width="0.8" height="0.8" fill="#4a6ae4" opacity="0.55"/><rect x="357.4" y="350.7" width="0.8" height="0.8" fill="#3f5fe0" opacity="0.55"/><rect x="340.3" y="365.8" width="0.8" height="0.8" fill="#3f5fe0" opacity="0.55"/><rect x="359.9" y="352.3" width="0.8" height="0.8" fill="#b4a8ec" opacity="0.55"/><rect x="358.9" y="351.0" width="0.8" height="0.8" fill="#6a80ea" opacity="0.55"/><rect x="341.4" y="359.1" width="0.8" height="0.8" fill="#4a6ae4" opacity="0.55"/><rect x="359.5" y="345.9" width="0.8" height="0.8" fill="#4a6ae4" opacity="0.55"/><rect x="361.0" y="350.6" width="0.8" height="0.8" fill="#8a8ff0" opacity="0.55"/><rect x="365.6" y="348.0" width="0.8" height="0.8" fill="#3f5fe0" opacity="0.55"/>
</g>
<rect x="332.50" y="328.30" width="39.60" height="38.80" fill="none" stroke="#8e8e9e" stroke-width="0.7"/>
<rect x="333.40" y="329.40" width="12.20" height="37.30" fill="none" stroke="#a4a4c0" stroke-width="0.6"/>
<rect x="352.60" y="329.40" width="18.30" height="37.30" fill="none" stroke="#a4a4c0" stroke-width="0.6"/>
<text x="339.50" y="348.50" font-size="3.2" font-family="Liberation Sans" font-weight="bold" text-anchor="middle" fill="#000" stroke="#000" stroke-width="0.12">75.06</text>
<text x="361.75" y="348.50" font-size="3.2" font-family="Liberation Sans" font-weight="bold" text-anchor="middle" fill="#000" stroke="#000" stroke-width="0.12">17.40</text>
<text x="390.60" y="9.30" font-size="10" font-family="Liberation Sans" font-weight="bold" text-anchor="start" fill="#111" stroke="#111" stroke-width="0.45">G</text>
<line x1="427.50" y1="18.50" x2="427.50" y2="339.50" stroke="#222" stroke-width="1"/>
<line x1="427.00" y1="339.50" x2="493.20" y2="339.50" stroke="#222" stroke-width="1"/>
<line x1="427.50" y1="339.50" x2="427.50" y2="341.50" stroke="#222" stroke-width="0.8"/>
<text x="425.30" y="343.10" font-size="6.4" font-family="Liberation Sans" font-weight="bold" text-anchor="start" fill="#1a1a1a" transform="rotate(90 425.30 343.10)">0.0</text>
<line x1="435.75" y1="339.50" x2="435.75" y2="341.50" stroke="#222" stroke-width="0.8"/>
<text x="433.55" y="343.10" font-size="6.4" font-family="Liberation Sans" font-weight="bold" text-anchor="start" fill="#1a1a1a" transform="rotate(90 433.55 343.10)">0.2</text>
<line x1="444.00" y1="339.50" x2="444.00" y2="341.50" stroke="#222" stroke-width="0.8"/>
<text x="441.80" y="343.10" font-size="6.4" font-family="Liberation Sans" font-weight="bold" text-anchor="start" fill="#1a1a1a" transform="rotate(90 441.80 343.10)">0.4</text>
<line x1="452.25" y1="339.50" x2="452.25" y2="341.50" stroke="#222" stroke-width="0.8"/>
<text x="450.05" y="343.10" font-size="6.4" font-family="Liberation Sans" font-weight="bold" text-anchor="start" fill="#1a1a1a" transform="rotate(90 450.05 343.10)">0.6</text>
<line x1="460.50" y1="339.50" x2="460.50" y2="341.50" stroke="#222" stroke-width="0.8"/>
<text x="458.30" y="343.10" font-size="6.4" font-family="Liberation Sans" font-weight="bold" text-anchor="start" fill="#1a1a1a" transform="rotate(90 458.30 343.10)">0.8</text>
<line x1="468.75" y1="339.50" x2="468.75" y2="341.50" stroke="#222" stroke-width="0.8"/>
<text x="466.55" y="343.10" font-size="6.4" font-family="Liberation Sans" font-weight="bold" text-anchor="start" fill="#1a1a1a" transform="rotate(90 466.55 343.10)">1.0</text>
<line x1="477.00" y1="339.50" x2="477.00" y2="341.50" stroke="#222" stroke-width="0.8"/>
<text x="474.80" y="343.10" font-size="6.4" font-family="Liberation Sans" font-weight="bold" text-anchor="start" fill="#1a1a1a" transform="rotate(90 474.80 343.10)">1.2</text>
<line x1="485.25" y1="339.50" x2="485.25" y2="341.50" stroke="#222" stroke-width="0.8"/>
<text x="483.05" y="343.10" font-size="6.4" font-family="Liberation Sans" font-weight="bold" text-anchor="start" fill="#1a1a1a" transform="rotate(90 483.05 343.10)">1.4</text>
<line x1="493.50" y1="339.50" x2="493.50" y2="341.50" stroke="#222" stroke-width="0.8"/>
<text x="491.30" y="343.10" font-size="6.4" font-family="Liberation Sans" font-weight="bold" text-anchor="start" fill="#1a1a1a" transform="rotate(90 491.30 343.10)">1.6</text>
<text x="460.30" y="362.20" font-size="7.3" font-family="Liberation Sans" font-weight="bold" text-anchor="middle" fill="#111" stroke="#111" stroke-width="0.22" textLength="51.4" lengthAdjust="spacingAndGlyphs">Ligand Binding</text>
<text x="460.60" y="370.80" font-size="7.3" font-family="Liberation Sans" font-weight="bold" text-anchor="middle" fill="#111" stroke="#111" stroke-width="0.22" textLength="66.4" lengthAdjust="spacingAndGlyphs">Relative WT-LILRB2</text>
<line x1="424.50" y1="23.50" x2="427.50" y2="23.50" stroke="#222" stroke-width="1"/>
<text x="421.70" y="26.60" font-size="7.2" font-family="Liberation Sans" font-weight="bold" text-anchor="end" fill="#111" stroke="#111" stroke-width="0.22">Empty</text>
<line x1="424.50" y1="38.50" x2="427.50" y2="38.50" stroke="#222" stroke-width="1"/>
<text x="421.70" y="41.20" font-size="7.2" font-family="Liberation Sans" font-weight="bold" text-anchor="end" fill="#111" stroke="#111" stroke-width="0.22">wt-FL</text>
<line x1="468.80" y1="34.55" x2="469.63" y2="34.55" stroke="#222" stroke-width="0.8"/>
<line x1="469.63" y1="33.50" x2="469.63" y2="35.60" stroke="#222" stroke-width="0.8"/>
<rect x="427.50" y="33.20" width="41.30" height="2.70" fill="#111" stroke="#111" stroke-width="0.6"/>
<line x1="468.80" y1="38.50" x2="470.04" y2="38.50" stroke="#222" stroke-width="0.8"/>
<line x1="470.04" y1="37.45" x2="470.04" y2="39.55" stroke="#222" stroke-width="0.8"/>
<rect x="427.50" y="37.15" width="41.30" height="2.70" fill="#7a7a7a" stroke="#111" stroke-width="0.6"/>
<line x1="428.30" y1="38.50" x2="468.00" y2="38.50" stroke="#c8c8c8" stroke-width="0.8"/>
<line x1="468.80" y1="42.45" x2="469.21" y2="42.45" stroke="#222" stroke-width="0.8"/>
<line x1="469.21" y1="41.40" x2="469.21" y2="43.50" stroke="#222" stroke-width="0.8"/>
<rect x="427.50" y="41.10" width="41.30" height="2.70" fill="#2a2a2a" stroke="#111" stroke-width="0.6"/>
<line x1="428.40" y1="42.45" x2="468.00" y2="42.45" stroke="#f0f0f0" stroke-width="0.9" stroke-dasharray="1.1 1.1"/>
<line x1="424.50" y1="67.50" x2="427.50" y2="67.50" stroke="#222" stroke-width="1"/>
<text x="421.70" y="70.40" font-size="7.2" font-family="Liberation Sans" font-weight="bold" text-anchor="end" fill="#111" stroke="#111" stroke-width="0.22">H92S</text>
<rect x="427.50" y="62.40" width="42.95" height="2.70" fill="#111" stroke="#111" stroke-width="0.6"/>
<line x1="440.72" y1="67.70" x2="441.54" y2="67.70" stroke="#222" stroke-width="0.8"/>
<line x1="441.54" y1="66.65" x2="441.54" y2="68.75" stroke="#222" stroke-width="0.8"/>
<rect x="427.50" y="66.35" width="13.22" height="2.70" fill="#7a7a7a" stroke="#111" stroke-width="0.6"/>
<line x1="428.30" y1="67.70" x2="439.92" y2="67.70" stroke="#c8c8c8" stroke-width="0.8"/>
<rect x="427.50" y="70.30" width="26.84" height="2.70" fill="#2a2a2a" stroke="#111" stroke-width="0.6"/>
<line x1="428.40" y1="71.65" x2="453.55" y2="71.65" stroke="#f0f0f0" stroke-width="0.9" stroke-dasharray="1.1 1.1"/>
<line x1="424.50" y1="81.50" x2="427.50" y2="81.50" stroke="#222" stroke-width="1"/>
<text x="421.70" y="85.00" font-size="7.2" font-family="Liberation Sans" font-weight="bold" text-anchor="end" fill="#111" stroke="#111" stroke-width="0.22">T93A</text>
<line x1="488.62" y1="78.35" x2="489.86" y2="78.35" stroke="#222" stroke-width="0.8"/>
<line x1="489.86" y1="77.30" x2="489.86" y2="79.40" stroke="#222" stroke-width="0.8"/>
<rect x="427.50" y="77.00" width="61.12" height="2.70" fill="#111" stroke="#111" stroke-width="0.6"/>
<line x1="451.04" y1="82.30" x2="452.28" y2="82.30" stroke="#222" stroke-width="0.8"/>
<line x1="452.28" y1="81.25" x2="452.28" y2="83.35" stroke="#222" stroke-width="0.8"/>
<rect x="427.50" y="80.95" width="23.54" height="2.70" fill="#7a7a7a" stroke="#111" stroke-width="0.6"/>
<line x1="428.30" y1="82.30" x2="450.24" y2="82.30" stroke="#c8c8c8" stroke-width="0.8"/>
<line x1="465.08" y1="86.25" x2="465.50" y2="86.25" stroke="#222" stroke-width="0.8"/>
<line x1="465.50" y1="85.20" x2="465.50" y2="87.30" stroke="#222" stroke-width="0.8"/>
<rect x="427.50" y="84.90" width="37.58" height="2.70" fill="#2a2a2a" stroke="#111" stroke-width="0.6"/>
<line x1="428.40" y1="86.25" x2="464.28" y2="86.25" stroke="#f0f0f0" stroke-width="0.9" stroke-dasharray="1.1 1.1"/>
<line x1="424.50" y1="96.50" x2="427.50" y2="96.50" stroke="#222" stroke-width="1"/>
<text x="421.70" y="99.60" font-size="7.2" font-family="Liberation Sans" font-weight="bold" text-anchor="end" fill="#111" stroke="#111" stroke-width="0.22">G94D</text>
<line x1="455.58" y1="92.95" x2="456.41" y2="92.95" stroke="#222" stroke-width="0.8"/>
<line x1="456.41" y1="91.90" x2="456.41" y2="94.00" stroke="#222" stroke-width="0.8"/>
<rect x="427.50" y="91.60" width="28.08" height="2.70" fill="#111" stroke="#111" stroke-width="0.6"/>
<rect x="427.50" y="95.55" width="4.13" height="2.70" fill="#7a7a7a" stroke="#111" stroke-width="0.6"/>
<line x1="428.30" y1="96.90" x2="430.83" y2="96.90" stroke="#c8c8c8" stroke-width="0.8"/>
<rect x="427.50" y="99.50" width="10.32" height="2.70" fill="#2a2a2a" stroke="#111" stroke-width="0.6"/>
<line x1="428.40" y1="100.85" x2="437.02" y2="100.85" stroke="#f0f0f0" stroke-width="0.9" stroke-dasharray="1.1 1.1"/>
<line x1="424.50" y1="111.50" x2="427.50" y2="111.50" stroke="#222" stroke-width="1"/>
<text x="421.70" y="114.20" font-size="7.2" font-family="Liberation Sans" font-weight="bold" text-anchor="end" fill="#111" stroke="#111" stroke-width="0.22">R95E</text>
<rect x="427.50" y="106.20" width="23.54" height="2.70" fill="#111" stroke="#111" stroke-width="0.6"/>
<line x1="434.52" y1="111.50" x2="435.76" y2="111.50" stroke="#222" stroke-width="0.8"/>
<line x1="435.76" y1="110.45" x2="435.76" y2="112.55" stroke="#222" stroke-width="0.8"/>
<rect x="427.50" y="110.15" width="7.02" height="2.70" fill="#7a7a7a" stroke="#111" stroke-width="0.6"/>
<line x1="428.30" y1="111.50" x2="433.72" y2="111.50" stroke="#c8c8c8" stroke-width="0.8"/>
<rect x="427.50" y="114.10" width="21.89" height="2.70" fill="#2a2a2a" stroke="#111" stroke-width="0.6"/>
<line x1="428.40" y1="115.45" x2="448.59" y2="115.45" stroke="#f0f0f0" stroke-width="0.9" stroke-dasharray="1.1 1.1"/>
<line x1="424.50" y1="125.50" x2="427.50" y2="125.50" stroke="#222" stroke-width="1"/>
<text x="421.70" y="128.80" font-size="7.2" font-family="Liberation Sans" font-weight="bold" text-anchor="end" fill="#111" stroke="#111" stroke-width="0.22">Y96A</text>
<rect x="427.50" y="120.80" width="22.71" height="2.70" fill="#111" stroke="#111" stroke-width="0.6"/>
<line x1="461.78" y1="126.10" x2="463.43" y2="126.10" stroke="#222" stroke-width="0.8"/>
<line x1="463.43" y1="125.05" x2="463.43" y2="127.15" stroke="#222" stroke-width="0.8"/>
<rect x="427.50" y="124.75" width="34.28" height="2.70" fill="#7a7a7a" stroke="#111" stroke-width="0.6"/>
<line x1="428.30" y1="126.10" x2="460.98" y2="126.10" stroke="#c8c8c8" stroke-width="0.8"/>
<rect x="427.50" y="128.70" width="13.22" height="2.70" fill="#2a2a2a" stroke="#111" stroke-width="0.6"/>
<line x1="428.40" y1="130.05" x2="439.92" y2="130.05" stroke="#f0f0f0" stroke-width="0.9" stroke-dasharray="1.1 1.1"/>
<line x1="424.50" y1="140.50" x2="427.50" y2="140.50" stroke="#222" stroke-width="1"/>
<text x="421.70" y="143.40" font-size="7.2" font-family="Liberation Sans" font-weight="bold" text-anchor="end" fill="#111" stroke="#111" stroke-width="0.22">G97R</text>
<rect x="427.50" y="135.40" width="43.78" height="2.70" fill="#111" stroke="#111" stroke-width="0.6"/>
<line x1="460.54" y1="140.70" x2="462.61" y2="140.70" stroke="#222" stroke-width="0.8"/>
<line x1="462.61" y1="139.65" x2="462.61" y2="141.75" stroke="#222" stroke-width="0.8"/>
<rect x="427.50" y="139.35" width="33.04" height="2.70" fill="#7a7a7a" stroke="#111" stroke-width="0.6"/>
<line x1="428.30" y1="140.70" x2="459.74" y2="140.70" stroke="#c8c8c8" stroke-width="0.8"/>
<rect x="427.50" y="143.30" width="46.26" height="2.70" fill="#2a2a2a" stroke="#111" stroke-width="0.6"/>
<line x1="428.40" y1="144.65" x2="472.96" y2="144.65" stroke="#f0f0f0" stroke-width="0.9" stroke-dasharray="1.1 1.1"/>
<line x1="424.50" y1="154.50" x2="427.50" y2="154.50" stroke="#222" stroke-width="1"/>
<text x="421.70" y="158.00" font-size="7.2" font-family="Liberation Sans" font-weight="bold" text-anchor="end" fill="#111" stroke="#111" stroke-width="0.22">Q99R</text>
<line x1="474.58" y1="151.35" x2="477.89" y2="151.35" stroke="#222" stroke-width="0.8"/>
<line x1="477.89" y1="150.30" x2="477.89" y2="152.40" stroke="#222" stroke-width="0.8"/>
<rect x="427.50" y="150.00" width="47.08" height="2.70" fill="#111" stroke="#111" stroke-width="0.6"/>
<line x1="451.87" y1="155.30" x2="453.93" y2="155.30" stroke="#222" stroke-width="0.8"/>
<line x1="453.93" y1="154.25" x2="453.93" y2="156.35" stroke="#222" stroke-width="0.8"/>
<rect x="427.50" y="153.95" width="24.37" height="2.70" fill="#7a7a7a" stroke="#111" stroke-width="0.6"/>
<line x1="428.30" y1="155.30" x2="451.07" y2="155.30" stroke="#c8c8c8" stroke-width="0.8"/>
<rect x="427.50" y="157.90" width="25.19" height="2.70" fill="#2a2a2a" stroke="#111" stroke-width="0.6"/>
<line x1="428.40" y1="159.25" x2="451.89" y2="159.25" stroke="#f0f0f0" stroke-width="0.9" stroke-dasharray="1.1 1.1"/>
<line x1="424.50" y1="184.50" x2="427.50" y2="184.50" stroke="#222" stroke-width="1"/>
<text x="421.70" y="187.20" font-size="7.2" font-family="Liberation Sans" font-weight="bold" text-anchor="end" fill="#111" stroke="#111" stroke-width="0.22">G392D</text>
<line x1="472.10" y1="180.55" x2="475.41" y2="180.55" stroke="#222" stroke-width="0.8"/>
<line x1="475.41" y1="179.50" x2="475.41" y2="181.60" stroke="#222" stroke-width="0.8"/>
<rect x="427.50" y="179.20" width="44.60" height="2.70" fill="#111" stroke="#111" stroke-width="0.6"/>
<line x1="458.06" y1="184.50" x2="460.95" y2="184.50" stroke="#222" stroke-width="0.8"/>
<line x1="460.95" y1="183.45" x2="460.95" y2="185.55" stroke="#222" stroke-width="0.8"/>
<rect x="427.50" y="183.15" width="30.56" height="2.70" fill="#7a7a7a" stroke="#111" stroke-width="0.6"/>
<line x1="428.30" y1="184.50" x2="457.26" y2="184.50" stroke="#c8c8c8" stroke-width="0.8"/>
<rect x="427.50" y="187.10" width="34.69" height="2.70" fill="#2a2a2a" stroke="#111" stroke-width="0.6"/>
<line x1="428.40" y1="188.45" x2="461.39" y2="188.45" stroke="#f0f0f0" stroke-width="0.9" stroke-dasharray="1.1 1.1"/>
<line x1="424.50" y1="198.50" x2="427.50" y2="198.50" stroke="#222" stroke-width="1"/>
<text x="421.70" y="201.80" font-size="7.2" font-family="Liberation Sans" font-weight="bold" text-anchor="end" fill="#111" stroke="#111" stroke-width="0.22">T393E</text>
<line x1="470.45" y1="195.15" x2="472.10" y2="195.15" stroke="#222" stroke-width="0.8"/>
<line x1="472.10" y1="194.10" x2="472.10" y2="196.20" stroke="#222" stroke-width="0.8"/>
<rect x="427.50" y="193.80" width="42.95" height="2.70" fill="#111" stroke="#111" stroke-width="0.6"/>
<line x1="451.04" y1="199.10" x2="453.11" y2="199.10" stroke="#222" stroke-width="0.8"/>
<line x1="453.11" y1="198.05" x2="453.11" y2="200.15" stroke="#222" stroke-width="0.8"/>
<rect x="427.50" y="197.75" width="23.54" height="2.70" fill="#7a7a7a" stroke="#111" stroke-width="0.6"/>
<line x1="428.30" y1="199.10" x2="450.24" y2="199.10" stroke="#c8c8c8" stroke-width="0.8"/>
<rect x="427.50" y="201.70" width="27.26" height="2.70" fill="#2a2a2a" stroke="#111" stroke-width="0.6"/>
<line x1="428.40" y1="203.05" x2="453.96" y2="203.05" stroke="#f0f0f0" stroke-width="0.9" stroke-dasharray="1.1 1.1"/>
<line x1="424.50" y1="213.50" x2="427.50" y2="213.50" stroke="#222" stroke-width="1"/>
<text x="421.70" y="216.40" font-size="7.2" font-family="Liberation Sans" font-weight="bold" text-anchor="end" fill="#111" stroke="#111" stroke-width="0.22">Y394A</text>
<line x1="454.76" y1="209.75" x2="456.00" y2="209.75" stroke="#222" stroke-width="0.8"/>
<line x1="456.00" y1="208.70" x2="456.00" y2="210.80" stroke="#222" stroke-width="0.8"/>
<rect x="427.50" y="208.40" width="27.26" height="2.70" fill="#111" stroke="#111" stroke-width="0.6"/>
<line x1="453.11" y1="213.70" x2="454.76" y2="213.70" stroke="#222" stroke-width="0.8"/>
<line x1="454.76" y1="212.65" x2="454.76" y2="214.75" stroke="#222" stroke-width="0.8"/>
<rect x="427.50" y="212.35" width="25.61" height="2.70" fill="#7a7a7a" stroke="#111" stroke-width="0.6"/>
<line x1="428.30" y1="213.70" x2="452.31" y2="213.70" stroke="#c8c8c8" stroke-width="0.8"/>
<rect x="427.50" y="216.30" width="20.65" height="2.70" fill="#2a2a2a" stroke="#111" stroke-width="0.6"/>
<line x1="428.40" y1="217.65" x2="447.35" y2="217.65" stroke="#f0f0f0" stroke-width="0.9" stroke-dasharray="1.1 1.1"/>
<line x1="424.50" y1="242.50" x2="427.50" y2="242.50" stroke="#222" stroke-width="1"/>
<text x="421.70" y="245.60" font-size="7.2" font-family="Liberation Sans" font-weight="bold" text-anchor="end" fill="#111" stroke="#111" stroke-width="0.22">Y96A/G392D</text>
<rect x="427.50" y="241.55" width="0.83" height="2.70" fill="#7a7a7a" stroke="#111" stroke-width="0.6"/>
<rect x="427.50" y="245.50" width="2.89" height="2.70" fill="#2a2a2a" stroke="#111" stroke-width="0.6"/>
<line x1="428.40" y1="246.85" x2="429.59" y2="246.85" stroke="#f0f0f0" stroke-width="0.9" stroke-dasharray="1.1 1.1"/>
<line x1="424.50" y1="257.50" x2="427.50" y2="257.50" stroke="#222" stroke-width="1"/>
<text x="421.70" y="260.20" font-size="7.2" font-family="Liberation Sans" font-weight="bold" text-anchor="end" fill="#111" stroke="#111" stroke-width="0.22">Y96A/T393E</text>
<rect x="427.50" y="252.20" width="34.28" height="2.70" fill="#111" stroke="#111" stroke-width="0.6"/>
<rect x="427.50" y="256.15" width="4.13" height="2.70" fill="#7a7a7a" stroke="#111" stroke-width="0.6"/>
<line x1="428.30" y1="257.50" x2="430.83" y2="257.50" stroke="#c8c8c8" stroke-width="0.8"/>
<rect x="427.50" y="260.10" width="11.15" height="2.70" fill="#2a2a2a" stroke="#111" stroke-width="0.6"/>
<line x1="428.40" y1="261.45" x2="437.85" y2="261.45" stroke="#f0f0f0" stroke-width="0.9" stroke-dasharray="1.1 1.1"/>
<line x1="424.50" y1="271.50" x2="427.50" y2="271.50" stroke="#222" stroke-width="1"/>
<text x="421.70" y="274.80" font-size="7.2" font-family="Liberation Sans" font-weight="bold" text-anchor="end" fill="#111" stroke="#111" stroke-width="0.22">Y96A/Y394A</text>
<rect x="427.50" y="266.80" width="3.30" height="2.70" fill="#111" stroke="#111" stroke-width="0.6"/>
<rect x="427.50" y="274.70" width="1.65" height="2.70" fill="#2a2a2a" stroke="#111" stroke-width="0.6"/>
<line x1="424.50" y1="300.50" x2="427.50" y2="300.50" stroke="#222" stroke-width="1"/>
<text x="421.70" y="304.00" font-size="7.2" font-family="Liberation Sans" font-weight="bold" text-anchor="end" fill="#111" stroke="#111" stroke-width="0.22">MHC-S1</text>
<line x1="457.24" y1="297.35" x2="459.71" y2="297.35" stroke="#222" stroke-width="0.8"/>
<line x1="459.71" y1="296.30" x2="459.71" y2="298.40" stroke="#222" stroke-width="0.8"/>
<rect x="427.50" y="296.00" width="29.74" height="2.70" fill="#111" stroke="#111" stroke-width="0.6"/>
<line x1="436.17" y1="301.30" x2="438.24" y2="301.30" stroke="#222" stroke-width="0.8"/>
<line x1="438.24" y1="300.25" x2="438.24" y2="302.35" stroke="#222" stroke-width="0.8"/>
<rect x="427.50" y="299.95" width="8.67" height="2.70" fill="#7a7a7a" stroke="#111" stroke-width="0.6"/>
<line x1="428.30" y1="301.30" x2="435.37" y2="301.30" stroke="#c8c8c8" stroke-width="0.8"/>
<rect x="427.50" y="303.90" width="41.30" height="2.70" fill="#2a2a2a" stroke="#111" stroke-width="0.6"/>
<line x1="428.40" y1="305.25" x2="468.00" y2="305.25" stroke="#f0f0f0" stroke-width="0.9" stroke-dasharray="1.1 1.1"/>
<line x1="424.50" y1="315.50" x2="427.50" y2="315.50" stroke="#222" stroke-width="1"/>
<text x="421.70" y="318.60" font-size="7.2" font-family="Liberation Sans" font-weight="bold" text-anchor="end" fill="#111" stroke="#111" stroke-width="0.22">MHC-S2</text>
<line x1="470.04" y1="311.95" x2="474.17" y2="311.95" stroke="#222" stroke-width="0.8"/>
<line x1="474.17" y1="310.90" x2="474.17" y2="313.00" stroke="#222" stroke-width="0.8"/>
<rect x="427.50" y="310.60" width="42.54" height="2.70" fill="#111" stroke="#111" stroke-width="0.6"/>
<line x1="464.67" y1="315.90" x2="467.97" y2="315.90" stroke="#222" stroke-width="0.8"/>
<line x1="467.97" y1="314.85" x2="467.97" y2="316.95" stroke="#222" stroke-width="0.8"/>
<rect x="427.50" y="314.55" width="37.17" height="2.70" fill="#7a7a7a" stroke="#111" stroke-width="0.6"/>
<line x1="428.30" y1="315.90" x2="463.87" y2="315.90" stroke="#c8c8c8" stroke-width="0.8"/>
<rect x="427.50" y="318.50" width="22.71" height="2.70" fill="#2a2a2a" stroke="#111" stroke-width="0.6"/>
<line x1="428.40" y1="319.85" x2="449.41" y2="319.85" stroke="#f0f0f0" stroke-width="0.9" stroke-dasharray="1.1 1.1"/>
<line x1="424.50" y1="329.50" x2="427.50" y2="329.50" stroke="#222" stroke-width="1"/>
<text x="421.70" y="333.20" font-size="7.2" font-family="Liberation Sans" font-weight="bold" text-anchor="end" fill="#111" stroke="#111" stroke-width="0.22">MHC-S1+2</text>
<rect x="427.50" y="325.20" width="26.02" height="2.70" fill="#111" stroke="#111" stroke-width="0.6"/>
<rect x="427.50" y="329.15" width="6.19" height="2.70" fill="#7a7a7a" stroke="#111" stroke-width="0.6"/>
<line x1="428.30" y1="330.50" x2="432.89" y2="330.50" stroke="#c8c8c8" stroke-width="0.8"/>
<rect x="427.50" y="333.10" width="15.69" height="2.70" fill="#2a2a2a" stroke="#111" stroke-width="0.6"/>
<line x1="428.40" y1="334.45" x2="442.39" y2="334.45" stroke="#f0f0f0" stroke-width="0.9" stroke-dasharray="1.1 1.1"/>
<rect x="468.80" y="219.80" width="9.00" height="4.60" fill="#111" stroke="#222" stroke-width="0.9"/>
<text x="482.50" y="224.10" font-size="7.4" font-family="Liberation Sans" text-anchor="start" fill="#111">Angptl2</text>
<rect x="468.80" y="229.20" width="9.00" height="4.60" fill="#8a8a8a" stroke="#222" stroke-width="0.9"/>
<rect x="470.30" y="230.60" width="6.00" height="1.80" fill="#c8c8c8" stroke="none" stroke-width="0"/>
<text x="482.50" y="233.50" font-size="7.4" font-family="Liberation Sans" text-anchor="start" fill="#111">HLA-G</text>
<rect x="468.80" y="238.60" width="9.00" height="4.60" fill="#8a8a8a" stroke="#222" stroke-width="0.9"/>
<rect x="470.30" y="240.00" width="6.00" height="1.80" fill="#c8c8c8" stroke="none" stroke-width="0"/>
<text x="482.50" y="242.90" font-size="7.4" font-family="Liberation Sans" text-anchor="start" fill="#111">Angptl5</text>
<text x="1.50" y="394.80" font-size="10" font-family="Liberation Sans" font-weight="bold" text-anchor="start" fill="#111" stroke="#111" stroke-width="0.45">H</text>
<line x1="21.50" y1="405.20" x2="21.50" y2="475.50" stroke="#222" stroke-width="1"/>
<line x1="21.00" y1="475.50" x2="224.60" y2="475.50" stroke="#222" stroke-width="1"/>
<line x1="19.70" y1="475.50" x2="21.50" y2="475.50" stroke="#222" stroke-width="0.8"/>
<text x="19.80" y="477.50" font-size="5.6" font-family="Liberation Sans" font-weight="bold" text-anchor="end" fill="#111" stroke="#111" stroke-width="0.22">0</text>
<line x1="19.70" y1="461.47" x2="21.50" y2="461.47" stroke="#222" stroke-width="0.8"/>
<text x="19.80" y="463.47" font-size="5.6" font-family="Liberation Sans" font-weight="bold" text-anchor="end" fill="#111" stroke="#111" stroke-width="0.22">20</text>
<line x1="19.70" y1="447.44" x2="21.50" y2="447.44" stroke="#222" stroke-width="0.8"/>
<text x="19.80" y="449.44" font-size="5.6" font-family="Liberation Sans" font-weight="bold" text-anchor="end" fill="#111" stroke="#111" stroke-width="0.22">40</text>
<line x1="19.70" y1="433.41" x2="21.50" y2="433.41" stroke="#222" stroke-width="0.8"/>
<text x="19.80" y="435.41" font-size="5.6" font-family="Liberation Sans" font-weight="bold" text-anchor="end" fill="#111" stroke="#111" stroke-width="0.22">60</text>
<line x1="19.70" y1="419.38" x2="21.50" y2="419.38" stroke="#222" stroke-width="0.8"/>
<text x="19.80" y="421.38" font-size="5.6" font-family="Liberation Sans" font-weight="bold" text-anchor="end" fill="#111" stroke="#111" stroke-width="0.22">80</text>
<line x1="19.70" y1="405.35" x2="21.50" y2="405.35" stroke="#222" stroke-width="0.8"/>
<text x="19.80" y="407.35" font-size="5.6" font-family="Liberation Sans" font-weight="bold" text-anchor="end" fill="#111" stroke="#111" stroke-width="0.22">100</text>
<text x="9.90" y="438.80" font-size="8" font-family="Liberation Sans" font-weight="bold" text-anchor="middle" fill="#111" stroke="#111" stroke-width="0.22" transform="rotate(-90 9.90 438.80)">GFP+ Percentage</text>
<path d="M24.60 475.5 L24.60 474.70 Q26.80 472.30 29.00 474.70 L29.00 475.5 Z" fill="#3a3a3a" stroke="#111" stroke-width="0.7"/>
<path d="M30.20 475.5 L30.20 474.70 Q32.40 472.30 34.60 474.70 L34.60 475.5 Z" fill="#3a3a3a" stroke="#111" stroke-width="0.7"/>
<path d="M35.80 475.5 L35.80 474.55 Q38.00 472.15 40.20 474.55 L40.20 475.5 Z" fill="#3a3a3a" stroke="#111" stroke-width="0.7"/>
<path d="M41.40 475.5 L41.40 474.55 Q43.60 472.15 45.80 474.55 L45.80 475.5 Z" fill="#3a3a3a" stroke="#111" stroke-width="0.7"/>
<text x="35.20" y="484.50" font-size="7" font-family="Liberation Sans" font-weight="bold" text-anchor="middle" fill="#111" stroke="#111" stroke-width="0.22">NC</text>
<path d="M50.10 475.5 L50.10 474.70 Q52.30 472.30 54.50 474.70 L54.50 475.5 Z" fill="#3a3a3a" stroke="#111" stroke-width="0.7"/>
<line x1="57.90" y1="461.47" x2="57.90" y2="454.46" stroke="#222" stroke-width="0.8"/>
<line x1="56.70" y1="454.46" x2="59.10" y2="454.46" stroke="#222" stroke-width="0.8"/>
<path d="M55.70 475.5 L55.70 462.47 Q57.90 460.27 60.10 462.47 L60.10 475.5 Z" fill="url(#pDot)" stroke="#111" stroke-width="0.6"/>
<line x1="63.50" y1="455.16" x2="63.50" y2="450.95" stroke="#222" stroke-width="0.8"/>
<line x1="62.30" y1="450.95" x2="64.70" y2="450.95" stroke="#222" stroke-width="0.8"/>
<path d="M61.30 475.5 L61.30 456.16 Q63.50 453.96 65.70 456.16 L65.70 475.5 Z" fill="url(#pStripe)" stroke="#111" stroke-width="0.6"/>
<line x1="69.10" y1="413.07" x2="69.10" y2="410.96" stroke="#222" stroke-width="0.8"/>
<line x1="67.90" y1="410.96" x2="70.30" y2="410.96" stroke="#222" stroke-width="0.8"/>
<path d="M66.90 475.5 L66.90 414.07 Q69.10 411.87 71.30 414.07 L71.30 475.5 Z" fill="url(#pVs)" stroke="#111" stroke-width="0.6"/>
<text x="62.00" y="484.50" font-size="7" font-family="Liberation Sans" font-weight="bold" text-anchor="middle" fill="#111" stroke="#111" stroke-width="0.22">FL</text>
<path d="M75.60 475.5 L75.60 474.70 Q77.80 472.30 80.00 474.70 L80.00 475.5 Z" fill="#3a3a3a" stroke="#111" stroke-width="0.7"/>
<line x1="83.40" y1="455.16" x2="83.40" y2="448.14" stroke="#222" stroke-width="0.8"/>
<line x1="82.20" y1="448.14" x2="84.60" y2="448.14" stroke="#222" stroke-width="0.8"/>
<path d="M81.20 475.5 L81.20 456.16 Q83.40 453.96 85.60 456.16 L85.60 475.5 Z" fill="url(#pDot)" stroke="#111" stroke-width="0.6"/>
<line x1="89.00" y1="453.05" x2="89.00" y2="449.54" stroke="#222" stroke-width="0.8"/>
<line x1="87.80" y1="449.54" x2="90.20" y2="449.54" stroke="#222" stroke-width="0.8"/>
<path d="M86.80 475.5 L86.80 454.05 Q89.00 451.85 91.20 454.05 L91.20 475.5 Z" fill="url(#pStripe)" stroke="#111" stroke-width="0.6"/>
<line x1="94.60" y1="415.87" x2="94.60" y2="410.96" stroke="#222" stroke-width="0.8"/>
<line x1="93.40" y1="410.96" x2="95.80" y2="410.96" stroke="#222" stroke-width="0.8"/>
<path d="M92.40 475.5 L92.40 416.87 Q94.60 414.67 96.80 416.87 L96.80 475.5 Z" fill="url(#pVs)" stroke="#111" stroke-width="0.6"/>
<text x="86.20" y="484.50" font-size="7" font-family="Liberation Sans" font-weight="bold" text-anchor="middle" fill="#111" stroke="#111" stroke-width="0.22">Ig1+2</text>
<path d="M101.10 475.5 L101.10 474.70 Q103.30 472.30 105.50 474.70 L105.50 475.5 Z" fill="#3a3a3a" stroke="#111" stroke-width="0.7"/>
<path d="M106.70 475.5 L106.70 474.70 Q108.90 472.30 111.10 474.70 L111.10 475.5 Z" fill="#3a3a3a" stroke="#111" stroke-width="0.7"/>
<path d="M112.30 475.5 L112.30 474.20 Q114.50 471.80 116.70 474.20 L116.70 475.5 Z" fill="#3a3a3a" stroke="#111" stroke-width="0.7"/>
<path d="M117.90 475.5 L117.90 474.70 Q120.10 472.30 122.30 474.70 L122.30 475.5 Z" fill="#3a3a3a" stroke="#111" stroke-width="0.7"/>
<text x="111.70" y="484.50" font-size="7" font-family="Liberation Sans" font-weight="bold" text-anchor="middle" fill="#111" stroke="#111" stroke-width="0.22">Ig3+4</text>
<path d="M126.60 475.5 L126.60 474.70 Q128.80 472.30 131.00 474.70 L131.00 475.5 Z" fill="#3a3a3a" stroke="#111" stroke-width="0.7"/>
<path d="M132.20 475.5 L132.20 474.70 Q134.40 472.30 136.60 474.70 L136.60 475.5 Z" fill="#3a3a3a" stroke="#111" stroke-width="0.7"/>
<path d="M137.80 475.5 L137.80 474.20 Q140.00 471.80 142.20 474.20 L142.20 475.5 Z" fill="#3a3a3a" stroke="#111" stroke-width="0.7"/>
<path d="M143.40 475.5 L143.40 474.20 Q145.60 471.80 147.80 474.20 L147.80 475.5 Z" fill="#3a3a3a" stroke="#111" stroke-width="0.7"/>
<text x="137.20" y="484.50" font-size="7" font-family="Liberation Sans" font-weight="bold" text-anchor="middle" fill="#111" stroke="#111" stroke-width="0.22">Ig1</text>
<path d="M152.10 475.5 L152.10 474.70 Q154.30 472.30 156.50 474.70 L156.50 475.5 Z" fill="#3a3a3a" stroke="#111" stroke-width="0.7"/>
<path d="M157.70 475.5 L157.70 474.70 Q159.90 472.30 162.10 474.70 L162.10 475.5 Z" fill="#3a3a3a" stroke="#111" stroke-width="0.7"/>
<path d="M163.30 475.5 L163.30 474.70 Q165.50 472.30 167.70 474.70 L167.70 475.5 Z" fill="#3a3a3a" stroke="#111" stroke-width="0.7"/>
<path d="M168.90 475.5 L168.90 474.70 Q171.10 472.30 173.30 474.70 L173.30 475.5 Z" fill="#3a3a3a" stroke="#111" stroke-width="0.7"/>
<text x="162.70" y="484.50" font-size="7" font-family="Liberation Sans" font-weight="bold" text-anchor="middle" fill="#111" stroke="#111" stroke-width="0.22">Ig2</text>
<path d="M177.60 475.5 L177.60 474.70 Q179.80 472.30 182.00 474.70 L182.00 475.5 Z" fill="#3a3a3a" stroke="#111" stroke-width="0.7"/>
<path d="M183.20 475.5 L183.20 474.70 Q185.40 472.30 187.60 474.70 L187.60 475.5 Z" fill="#3a3a3a" stroke="#111" stroke-width="0.7"/>
<path d="M188.80 475.5 L188.80 474.20 Q191.00 471.80 193.20 474.20 L193.20 475.5 Z" fill="#3a3a3a" stroke="#111" stroke-width="0.7"/>
<path d="M194.40 475.5 L194.40 474.70 Q196.60 472.30 198.80 474.70 L198.80 475.5 Z" fill="#3a3a3a" stroke="#111" stroke-width="0.7"/>
<text x="188.20" y="484.50" font-size="7" font-family="Liberation Sans" font-weight="bold" text-anchor="middle" fill="#111" stroke="#111" stroke-width="0.22">Ig3</text>
<path d="M203.10 475.5 L203.10 474.70 Q205.30 472.30 207.50 474.70 L207.50 475.5 Z" fill="#3a3a3a" stroke="#111" stroke-width="0.7"/>
<path d="M208.70 475.5 L208.70 474.70 Q210.90 472.30 213.10 474.70 L213.10 475.5 Z" fill="#3a3a3a" stroke="#111" stroke-width="0.7"/>
<path d="M214.30 475.5 L214.30 474.70 Q216.50 472.30 218.70 474.70 L218.70 475.5 Z" fill="#3a3a3a" stroke="#111" stroke-width="0.7"/>
<path d="M219.90 475.5 L219.90 474.70 Q222.10 472.30 224.30 474.70 L224.30 475.5 Z" fill="#3a3a3a" stroke="#111" stroke-width="0.7"/>
<text x="213.70" y="484.50" font-size="7" font-family="Liberation Sans" font-weight="bold" text-anchor="middle" fill="#111" stroke="#111" stroke-width="0.22">Ig4</text>
<rect x="146.50" y="404.60" width="8.50" height="3.60" fill="#8a8a8a" stroke="#111" stroke-width="0.8"/>
<text x="158.60" y="408.70" font-size="7.9" font-family="Liberation Sans" text-anchor="start" fill="#111">Ctrl</text>
<rect x="146.50" y="412.95" width="8.50" height="3.60" fill="url(#pDot)" stroke="#111" stroke-width="0.8"/>
<text x="158.60" y="417.05" font-size="7.9" font-family="Liberation Sans" text-anchor="start" fill="#111">Angptl2</text>
<rect x="146.50" y="421.30" width="8.50" height="3.60" fill="url(#pStripe)" stroke="#111" stroke-width="0.8"/>
<text x="158.60" y="425.40" font-size="7.9" font-family="Liberation Sans" text-anchor="start" fill="#111">pAB</text>
<rect x="146.50" y="429.65" width="8.50" height="3.60" fill="url(#pVs)" stroke="#111" stroke-width="0.8"/>
<text x="158.60" y="433.75" font-size="7.9" font-family="Liberation Sans" text-anchor="start" fill="#111">mAB</text>
<text x="227.80" y="394.30" font-size="10" font-family="Liberation Sans" font-weight="bold" text-anchor="start" fill="#111" stroke="#111" stroke-width="0.45">I</text>
<line x1="257.50" y1="405.00" x2="257.50" y2="475.50" stroke="#777" stroke-width="1"/>
<line x1="257.00" y1="475.50" x2="509.50" y2="475.50" stroke="#222" stroke-width="1"/>
<line x1="255.50" y1="475.50" x2="257.50" y2="475.50" stroke="#666" stroke-width="0.8"/>
<text x="255.00" y="477.50" font-size="5.6" font-family="Liberation Sans" font-weight="bold" text-anchor="end" fill="#111" stroke="#111" stroke-width="0.22">0</text>
<line x1="255.50" y1="461.46" x2="257.50" y2="461.46" stroke="#666" stroke-width="0.8"/>
<text x="255.00" y="463.46" font-size="5.6" font-family="Liberation Sans" font-weight="bold" text-anchor="end" fill="#111" stroke="#111" stroke-width="0.22">20</text>
<line x1="255.50" y1="447.42" x2="257.50" y2="447.42" stroke="#666" stroke-width="0.8"/>
<text x="255.00" y="449.42" font-size="5.6" font-family="Liberation Sans" font-weight="bold" text-anchor="end" fill="#111" stroke="#111" stroke-width="0.22">40</text>
<line x1="255.50" y1="433.38" x2="257.50" y2="433.38" stroke="#666" stroke-width="0.8"/>
<text x="255.00" y="435.38" font-size="5.6" font-family="Liberation Sans" font-weight="bold" text-anchor="end" fill="#111" stroke="#111" stroke-width="0.22">60</text>
<line x1="255.50" y1="419.34" x2="257.50" y2="419.34" stroke="#666" stroke-width="0.8"/>
<text x="255.00" y="421.34" font-size="5.6" font-family="Liberation Sans" font-weight="bold" text-anchor="end" fill="#111" stroke="#111" stroke-width="0.22">80</text>
<line x1="255.50" y1="405.30" x2="257.50" y2="405.30" stroke="#666" stroke-width="0.8"/>
<text x="255.00" y="407.30" font-size="5.6" font-family="Liberation Sans" font-weight="bold" text-anchor="end" fill="#111" stroke="#111" stroke-width="0.22">100</text>
<text x="245.00" y="438.20" font-size="8" font-family="Liberation Sans" font-weight="bold" text-anchor="middle" fill="#111" stroke="#111" stroke-width="0.22" transform="rotate(-90 245.00 438.20)">GFP+ Percentage</text>
<path d="M259.65 475.5 L259.65 474.19 Q261.70 471.79 263.75 474.19 L263.75 475.5 Z" fill="#3a3a3a" stroke="#111" stroke-width="0.7"/>
<path d="M264.45 475.5 Q266.50 474.30 268.55 475.5 Z" fill="#333" stroke="#111" stroke-width="0.5"/>
<path d="M269.25 475.5 Q271.30 474.30 273.35 475.5 Z" fill="#333" stroke="#111" stroke-width="0.5"/>
<path d="M274.05 475.5 Q276.10 474.30 278.15 475.5 Z" fill="#333" stroke="#111" stroke-width="0.5"/>
<line x1="268.90" y1="475.50" x2="268.90" y2="477.30" stroke="#222" stroke-width="0.7"/>
<text x="272.70" y="482.60" font-size="6.8" font-family="Liberation Sans" font-weight="bold" text-anchor="end" fill="#111" stroke="#111" stroke-width="0.22" transform="rotate(-38 272.70 482.60)">NC</text>
<path d="M282.60 475.5 L282.60 474.19 Q284.65 471.79 286.70 474.19 L286.70 475.5 Z" fill="#3a3a3a" stroke="#111" stroke-width="0.7"/>
<path d="M287.40 475.5 L287.40 442.80 Q289.45 440.60 291.50 442.80 L291.50 475.5 Z" fill="url(#pDot)" stroke="#111" stroke-width="0.6"/>
<path d="M292.20 475.5 L292.20 432.27 Q294.25 430.07 296.30 432.27 L296.30 475.5 Z" fill="url(#pStripe)" stroke="#111" stroke-width="0.6"/>
<line x1="299.05" y1="420.74" x2="299.05" y2="413.72" stroke="#222" stroke-width="0.8"/>
<line x1="297.85" y1="413.72" x2="300.25" y2="413.72" stroke="#222" stroke-width="0.8"/>
<path d="M297.00 475.5 L297.00 421.74 Q299.05 419.54 301.10 421.74 L301.10 475.5 Z" fill="url(#pVs)" stroke="#111" stroke-width="0.6"/>
<line x1="291.85" y1="475.50" x2="291.85" y2="477.30" stroke="#222" stroke-width="0.7"/>
<text x="295.65" y="482.60" font-size="6.8" font-family="Liberation Sans" font-weight="bold" text-anchor="end" fill="#111" stroke="#111" stroke-width="0.22" transform="rotate(-38 295.65 482.60)">FL</text>
<path d="M305.55 475.5 L305.55 474.70 Q307.60 472.30 309.65 474.70 L309.65 475.5 Z" fill="#3a3a3a" stroke="#111" stroke-width="0.7"/>
<path d="M310.35 475.5 L310.35 445.61 Q312.40 443.41 314.45 445.61 L314.45 475.5 Z" fill="url(#pDot)" stroke="#111" stroke-width="0.6"/>
<line x1="317.20" y1="452.33" x2="317.20" y2="445.31" stroke="#222" stroke-width="0.8"/>
<line x1="316.00" y1="445.31" x2="318.40" y2="445.31" stroke="#222" stroke-width="0.8"/>
<path d="M315.15 475.5 L315.15 453.33 Q317.20 451.13 319.25 453.33 L319.25 475.5 Z" fill="url(#pStripe)" stroke="#111" stroke-width="0.6"/>
<line x1="322.00" y1="426.36" x2="322.00" y2="424.96" stroke="#222" stroke-width="0.8"/>
<line x1="320.80" y1="424.96" x2="323.20" y2="424.96" stroke="#222" stroke-width="0.8"/>
<path d="M319.95 475.5 L319.95 427.36 Q322.00 425.16 324.05 427.36 L324.05 475.5 Z" fill="url(#pVs)" stroke="#111" stroke-width="0.6"/>
<line x1="314.80" y1="475.50" x2="314.80" y2="477.30" stroke="#222" stroke-width="0.7"/>
<text x="318.60" y="482.60" font-size="6.8" font-family="Liberation Sans" font-weight="bold" text-anchor="end" fill="#111" stroke="#111" stroke-width="0.22" transform="rotate(-38 318.60 482.60)">G94D</text>
<path d="M328.50 475.5 L328.50 474.70 Q330.55 472.30 332.60 474.70 L332.60 475.5 Z" fill="#3a3a3a" stroke="#111" stroke-width="0.7"/>
<path d="M333.30 475.5 L333.30 440.70 Q335.35 438.50 337.40 440.70 L337.40 475.5 Z" fill="url(#pDot)" stroke="#111" stroke-width="0.6"/>
<line x1="340.15" y1="440.40" x2="340.15" y2="437.59" stroke="#222" stroke-width="0.8"/>
<line x1="338.95" y1="437.59" x2="341.35" y2="437.59" stroke="#222" stroke-width="0.8"/>
<path d="M338.10 475.5 L338.10 441.40 Q340.15 439.20 342.20 441.40 L342.20 475.5 Z" fill="url(#pStripe)" stroke="#111" stroke-width="0.6"/>
<line x1="344.95" y1="418.64" x2="344.95" y2="417.23" stroke="#222" stroke-width="0.8"/>
<line x1="343.75" y1="417.23" x2="346.15" y2="417.23" stroke="#222" stroke-width="0.8"/>
<path d="M342.90 475.5 L342.90 419.64 Q344.95 417.44 347.00 419.64 L347.00 475.5 Z" fill="url(#pVs)" stroke="#111" stroke-width="0.6"/>
<line x1="337.75" y1="475.50" x2="337.75" y2="477.30" stroke="#222" stroke-width="0.7"/>
<text x="341.55" y="482.60" font-size="6.8" font-family="Liberation Sans" font-weight="bold" text-anchor="end" fill="#111" stroke="#111" stroke-width="0.22" transform="rotate(-38 341.55 482.60)">R95E</text>
<path d="M351.45 475.5 L351.45 474.19 Q353.50 471.79 355.55 474.19 L355.55 475.5 Z" fill="#3a3a3a" stroke="#111" stroke-width="0.7"/>
<path d="M356.25 475.5 L356.25 470.88 Q358.30 468.68 360.35 470.88 L360.35 475.5 Z" fill="url(#pDot)" stroke="#111" stroke-width="0.6"/>
<path d="M361.05 475.5 L361.05 453.33 Q363.10 451.13 365.15 453.33 L365.15 475.5 Z" fill="url(#pStripe)" stroke="#111" stroke-width="0.6"/>
<line x1="367.90" y1="460.06" x2="367.90" y2="454.44" stroke="#222" stroke-width="0.8"/>
<line x1="366.70" y1="454.44" x2="369.10" y2="454.44" stroke="#222" stroke-width="0.8"/>
<path d="M365.85 475.5 L365.85 461.06 Q367.90 458.86 369.95 461.06 L369.95 475.5 Z" fill="url(#pVs)" stroke="#111" stroke-width="0.6"/>
<line x1="360.70" y1="475.50" x2="360.70" y2="477.30" stroke="#222" stroke-width="0.7"/>
<text x="364.50" y="482.60" font-size="6.8" font-family="Liberation Sans" font-weight="bold" text-anchor="end" fill="#111" stroke="#111" stroke-width="0.22" transform="rotate(-38 364.50 482.60)">Y96A</text>
<path d="M374.40 475.5 L374.40 474.70 Q376.45 472.30 378.50 474.70 L378.50 475.5 Z" fill="#3a3a3a" stroke="#111" stroke-width="0.7"/>
<path d="M379.20 475.5 L379.20 442.80 Q381.25 440.60 383.30 442.80 L383.30 475.5 Z" fill="url(#pDot)" stroke="#111" stroke-width="0.6"/>
<path d="M384.00 475.5 L384.00 454.74 Q386.05 452.54 388.10 454.74 L388.10 475.5 Z" fill="url(#pStripe)" stroke="#111" stroke-width="0.6"/>
<line x1="390.85" y1="436.89" x2="390.85" y2="429.87" stroke="#222" stroke-width="0.8"/>
<line x1="389.65" y1="429.87" x2="392.05" y2="429.87" stroke="#222" stroke-width="0.8"/>
<path d="M388.80 475.5 L388.80 437.89 Q390.85 435.69 392.90 437.89 L392.90 475.5 Z" fill="url(#pVs)" stroke="#111" stroke-width="0.6"/>
<line x1="383.65" y1="475.50" x2="383.65" y2="477.30" stroke="#222" stroke-width="0.7"/>
<text x="387.45" y="482.60" font-size="6.8" font-family="Liberation Sans" font-weight="bold" text-anchor="end" fill="#111" stroke="#111" stroke-width="0.22" transform="rotate(-38 387.45 482.60)">G392D</text>
<path d="M397.35 475.5 L397.35 474.70 Q399.40 472.30 401.45 474.70 L401.45 475.5 Z" fill="#3a3a3a" stroke="#111" stroke-width="0.7"/>
<path d="M402.15 475.5 L402.15 448.42 Q404.20 446.22 406.25 448.42 L406.25 475.5 Z" fill="url(#pDot)" stroke="#111" stroke-width="0.6"/>
<line x1="409.00" y1="457.25" x2="409.00" y2="455.14" stroke="#222" stroke-width="0.8"/>
<line x1="407.80" y1="455.14" x2="410.20" y2="455.14" stroke="#222" stroke-width="0.8"/>
<path d="M406.95 475.5 L406.95 458.25 Q409.00 456.05 411.05 458.25 L411.05 475.5 Z" fill="url(#pStripe)" stroke="#111" stroke-width="0.6"/>
<path d="M411.75 475.5 L411.75 435.78 Q413.80 433.58 415.85 435.78 L415.85 475.5 Z" fill="url(#pVs)" stroke="#111" stroke-width="0.6"/>
<line x1="406.60" y1="475.50" x2="406.60" y2="477.30" stroke="#222" stroke-width="0.7"/>
<text x="410.40" y="482.60" font-size="6.8" font-family="Liberation Sans" font-weight="bold" text-anchor="end" fill="#111" stroke="#111" stroke-width="0.22" transform="rotate(-38 410.40 482.60)">T393E</text>
<path d="M420.30 475.5 L420.30 474.70 Q422.35 472.30 424.40 474.70 L424.40 475.5 Z" fill="#3a3a3a" stroke="#111" stroke-width="0.7"/>
<path d="M425.10 475.5 L425.10 443.51 Q427.15 441.31 429.20 443.51 L429.20 475.5 Z" fill="url(#pDot)" stroke="#111" stroke-width="0.6"/>
<path d="M429.90 475.5 L429.90 453.33 Q431.95 451.13 434.00 453.33 L434.00 475.5 Z" fill="url(#pStripe)" stroke="#111" stroke-width="0.6"/>
<path d="M434.70 475.5 L434.70 432.98 Q436.75 430.78 438.80 432.98 L438.80 475.5 Z" fill="url(#pVs)" stroke="#111" stroke-width="0.6"/>
<line x1="429.55" y1="475.50" x2="429.55" y2="477.30" stroke="#222" stroke-width="0.7"/>
<text x="433.35" y="482.60" font-size="6.8" font-family="Liberation Sans" font-weight="bold" text-anchor="end" fill="#111" stroke="#111" stroke-width="0.22" transform="rotate(-38 433.35 482.60)">Y394A</text>
<path d="M443.25 475.5 Q445.30 474.30 447.35 475.5 Z" fill="#333" stroke="#111" stroke-width="0.5"/>
<path d="M448.05 475.5 L448.05 474.70 Q450.10 472.30 452.15 474.70 L452.15 475.5 Z" fill="#3a3a3a" stroke="#111" stroke-width="0.7"/>
<line x1="454.90" y1="472.69" x2="454.90" y2="470.59" stroke="#222" stroke-width="0.8"/>
<line x1="453.70" y1="470.59" x2="456.10" y2="470.59" stroke="#222" stroke-width="0.8"/>
<path d="M452.85 475.5 L452.85 473.69 Q454.90 471.49 456.95 473.69 L456.95 475.5 Z" fill="url(#pStripe)" stroke="#111" stroke-width="0.6"/>
<path d="M457.65 475.5 L457.65 474.70 Q459.70 472.30 461.75 474.70 L461.75 475.5 Z" fill="#3a3a3a" stroke="#111" stroke-width="0.7"/>
<line x1="452.50" y1="475.50" x2="452.50" y2="477.30" stroke="#222" stroke-width="0.7"/>
<text x="456.30" y="482.60" font-size="6.8" font-family="Liberation Sans" font-weight="bold" text-anchor="end" fill="#111" stroke="#111" stroke-width="0.22" transform="rotate(-38 456.30 482.60)">Y96A/G392D</text>
<path d="M466.20 475.5 L466.20 474.19 Q468.25 471.79 470.30 474.19 L470.30 475.5 Z" fill="#3a3a3a" stroke="#111" stroke-width="0.7"/>
<path d="M471.00 475.5 Q473.05 474.30 475.10 475.5 Z" fill="#333" stroke="#111" stroke-width="0.5"/>
<line x1="477.85" y1="460.76" x2="477.85" y2="448.82" stroke="#222" stroke-width="0.8"/>
<line x1="476.65" y1="448.82" x2="479.05" y2="448.82" stroke="#222" stroke-width="0.8"/>
<path d="M475.80 475.5 L475.80 461.76 Q477.85 459.56 479.90 461.76 L479.90 475.5 Z" fill="url(#pStripe)" stroke="#111" stroke-width="0.6"/>
<line x1="482.65" y1="466.37" x2="482.65" y2="462.16" stroke="#222" stroke-width="0.8"/>
<line x1="481.45" y1="462.16" x2="483.85" y2="462.16" stroke="#222" stroke-width="0.8"/>
<path d="M480.60 475.5 L480.60 467.37 Q482.65 465.17 484.70 467.37 L484.70 475.5 Z" fill="url(#pVs)" stroke="#111" stroke-width="0.6"/>
<line x1="475.45" y1="475.50" x2="475.45" y2="477.30" stroke="#222" stroke-width="0.7"/>
<text x="479.25" y="482.60" font-size="6.8" font-family="Liberation Sans" font-weight="bold" text-anchor="end" fill="#111" stroke="#111" stroke-width="0.22" transform="rotate(-38 479.25 482.60)">Y96A/T393E</text>
<path d="M489.15 475.5 Q491.20 474.30 493.25 475.5 Z" fill="#333" stroke="#111" stroke-width="0.5"/>
<path d="M493.95 475.5 Q496.00 474.30 498.05 475.5 Z" fill="#333" stroke="#111" stroke-width="0.5"/>
<path d="M498.75 475.5 L498.75 474.70 Q500.80 472.30 502.85 474.70 L502.85 475.5 Z" fill="#3a3a3a" stroke="#111" stroke-width="0.7"/>
<path d="M503.55 475.5 Q505.60 474.30 507.65 475.5 Z" fill="#333" stroke="#111" stroke-width="0.5"/>
<line x1="498.40" y1="475.50" x2="498.40" y2="477.30" stroke="#222" stroke-width="0.7"/>
<text x="502.20" y="482.60" font-size="6.8" font-family="Liberation Sans" font-weight="bold" text-anchor="end" fill="#111" stroke="#111" stroke-width="0.22" transform="rotate(-38 502.20 482.60)">Y96A/Y394A</text>
<rect x="467.20" y="405.30" width="8.60" height="3.60" fill="#8a8a8a" stroke="#111" stroke-width="0.8"/>
<text x="478.60" y="409.40" font-size="8.1" font-family="Liberation Sans" text-anchor="start" fill="#111">Ctrl</text>
<rect x="467.20" y="413.60" width="8.60" height="3.60" fill="url(#pDot)" stroke="#111" stroke-width="0.8"/>
<text x="478.60" y="417.70" font-size="8.1" font-family="Liberation Sans" text-anchor="start" fill="#111">Angptl2</text>
<rect x="467.20" y="421.90" width="8.60" height="3.60" fill="url(#pStripe)" stroke="#111" stroke-width="0.8"/>
<text x="478.60" y="426.00" font-size="8.1" font-family="Liberation Sans" text-anchor="start" fill="#111">pAB</text>
<rect x="467.20" y="430.20" width="8.60" height="3.60" fill="url(#pVs)" stroke="#111" stroke-width="0.8"/>
<text x="478.60" y="434.30" font-size="8.1" font-family="Liberation Sans" text-anchor="start" fill="#111">mAB</text>
</svg>
</body></html>
